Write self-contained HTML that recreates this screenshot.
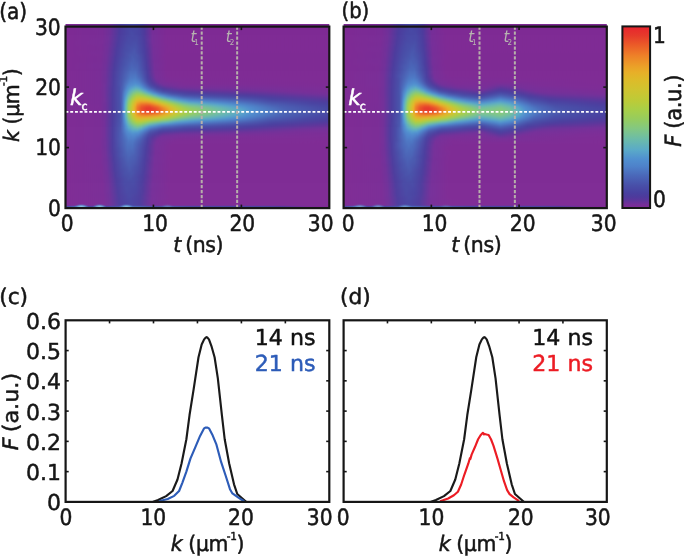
<!DOCTYPE html>
<html lang="en"><head><meta charset="utf-8"><title>Figure</title>
<style>html,body{margin:0;padding:0;background:#fff;overflow:hidden}svg{display:block}text{stroke-width:0.5px;stroke-linejoin:round}</style></head>
<body>
<svg width="684" height="557" viewBox="0 0 684 557" font-family='"DejaVu Sans Condensed", "DejaVu Sans", "Liberation Sans", sans-serif' font-stretch="condensed" text-rendering="geometricPrecision">
<rect width="684" height="557" fill="#fff"/>
<defs><radialGradient id="blobg"><stop offset="0" stop-color="#a4dcf2" stop-opacity="0.95"/><stop offset="0.45" stop-color="#6fb6e2" stop-opacity="0.8"/><stop offset="1" stop-color="#4a68b8" stop-opacity="0"/></radialGradient></defs>
<defs><linearGradient id="ga0" gradientUnits="userSpaceOnUse" x1="65.50" y1="0" x2="329.30" y2="0"><stop offset="0" stop-color="#7e2a94"/><stop offset="0.1439" stop-color="#792d97"/><stop offset="0.1705" stop-color="#6d3199"/><stop offset="0.2083" stop-color="#4c3c9d"/><stop offset="0.2576" stop-color="#4848a4"/><stop offset="0.2917" stop-color="#4b3d9e"/><stop offset="0.3106" stop-color="#5f349a"/><stop offset="0.3295" stop-color="#762e98"/><stop offset="0.3864" stop-color="#7e2a94"/><stop offset="1" stop-color="#7e2a94"/></linearGradient><linearGradient id="ga1" gradientUnits="userSpaceOnUse" x1="65.50" y1="0" x2="329.30" y2="0"><stop offset="0" stop-color="#7e2a94"/><stop offset="0.1439" stop-color="#792d97"/><stop offset="0.1667" stop-color="#703099"/><stop offset="0.2045" stop-color="#4d3b9d"/><stop offset="0.2462" stop-color="#4848a4"/><stop offset="0.2765" stop-color="#4844a2"/><stop offset="0.2992" stop-color="#50399c"/><stop offset="0.3295" stop-color="#752e98"/><stop offset="0.3864" stop-color="#7e2a94"/><stop offset="1" stop-color="#7e2a94"/></linearGradient><linearGradient id="ga2" gradientUnits="userSpaceOnUse" x1="65.50" y1="0" x2="329.30" y2="0"><stop offset="0" stop-color="#7e2a94"/><stop offset="0.1402" stop-color="#792c96"/><stop offset="0.1667" stop-color="#6f3099"/><stop offset="0.2045" stop-color="#4d3b9d"/><stop offset="0.2424" stop-color="#4847a4"/><stop offset="0.2727" stop-color="#4846a3"/><stop offset="0.2992" stop-color="#4f3a9c"/><stop offset="0.3295" stop-color="#752e98"/><stop offset="0.3826" stop-color="#7e2a94"/><stop offset="1" stop-color="#7e2a94"/></linearGradient><linearGradient id="ga3" gradientUnits="userSpaceOnUse" x1="65.50" y1="0" x2="329.30" y2="0"><stop offset="0" stop-color="#7e2a94"/><stop offset="0.1402" stop-color="#792c96"/><stop offset="0.1667" stop-color="#6f3099"/><stop offset="0.2045" stop-color="#4d3b9d"/><stop offset="0.2462" stop-color="#4849a5"/><stop offset="0.2765" stop-color="#4845a3"/><stop offset="0.2992" stop-color="#4e3a9c"/><stop offset="0.3295" stop-color="#752e98"/><stop offset="0.3826" stop-color="#7e2a94"/><stop offset="1" stop-color="#7e2a94"/></linearGradient><linearGradient id="ga4" gradientUnits="userSpaceOnUse" x1="65.50" y1="0" x2="329.30" y2="0"><stop offset="0" stop-color="#7e2a94"/><stop offset="0.1402" stop-color="#792c96"/><stop offset="0.1667" stop-color="#6f3099"/><stop offset="0.2045" stop-color="#4c3c9d"/><stop offset="0.25" stop-color="#484aa5"/><stop offset="0.2803" stop-color="#4844a2"/><stop offset="0.2992" stop-color="#4e3a9c"/><stop offset="0.3295" stop-color="#752e98"/><stop offset="0.3826" stop-color="#7e2a94"/><stop offset="1" stop-color="#7e2a94"/></linearGradient><linearGradient id="ga5" gradientUnits="userSpaceOnUse" x1="65.50" y1="0" x2="329.30" y2="0"><stop offset="0" stop-color="#7e2a94"/><stop offset="0.1402" stop-color="#792c96"/><stop offset="0.1667" stop-color="#6e3099"/><stop offset="0.2045" stop-color="#4c3c9d"/><stop offset="0.2538" stop-color="#484ba6"/><stop offset="0.2841" stop-color="#4842a1"/><stop offset="0.303" stop-color="#52389b"/><stop offset="0.3295" stop-color="#752f99"/><stop offset="0.3826" stop-color="#7e2a94"/><stop offset="1" stop-color="#7e2a94"/></linearGradient><linearGradient id="ga6" gradientUnits="userSpaceOnUse" x1="65.50" y1="0" x2="329.30" y2="0"><stop offset="0" stop-color="#7e2a94"/><stop offset="0.1402" stop-color="#792c96"/><stop offset="0.1629" stop-color="#713099"/><stop offset="0.2008" stop-color="#4d3b9d"/><stop offset="0.2348" stop-color="#4848a4"/><stop offset="0.2689" stop-color="#484aa5"/><stop offset="0.2955" stop-color="#4b3d9e"/><stop offset="0.3144" stop-color="#61339a"/><stop offset="0.3295" stop-color="#752f99"/><stop offset="0.3826" stop-color="#7e2a94"/><stop offset="1" stop-color="#7e2a94"/></linearGradient><linearGradient id="ga7" gradientUnits="userSpaceOnUse" x1="65.50" y1="0" x2="329.30" y2="0"><stop offset="0" stop-color="#7e2a94"/><stop offset="0.1402" stop-color="#792c96"/><stop offset="0.1629" stop-color="#713099"/><stop offset="0.2008" stop-color="#4d3b9d"/><stop offset="0.2386" stop-color="#4849a5"/><stop offset="0.2727" stop-color="#4849a5"/><stop offset="0.2992" stop-color="#4d3b9d"/><stop offset="0.3295" stop-color="#752f99"/><stop offset="0.3788" stop-color="#7e2a94"/><stop offset="1" stop-color="#7e2a94"/></linearGradient><linearGradient id="ga8" gradientUnits="userSpaceOnUse" x1="65.50" y1="0" x2="329.30" y2="0"><stop offset="0" stop-color="#7e2a94"/><stop offset="0.1402" stop-color="#792d97"/><stop offset="0.1629" stop-color="#703099"/><stop offset="0.2008" stop-color="#4c3c9d"/><stop offset="0.2386" stop-color="#484ba6"/><stop offset="0.2689" stop-color="#484ca6"/><stop offset="0.2992" stop-color="#4c3c9d"/><stop offset="0.3295" stop-color="#742f99"/><stop offset="0.3788" stop-color="#7e2a94"/><stop offset="1" stop-color="#7e2a94"/></linearGradient><linearGradient id="ga9" gradientUnits="userSpaceOnUse" x1="65.50" y1="0" x2="329.30" y2="0"><stop offset="0" stop-color="#7e2a94"/><stop offset="0.1402" stop-color="#792d97"/><stop offset="0.1629" stop-color="#6f3099"/><stop offset="0.197" stop-color="#4d3b9d"/><stop offset="0.2311" stop-color="#4849a5"/><stop offset="0.2652" stop-color="#484ea8"/><stop offset="0.2955" stop-color="#4a3e9f"/><stop offset="0.3068" stop-color="#53389b"/><stop offset="0.3295" stop-color="#742f99"/><stop offset="0.3788" stop-color="#7e2a94"/><stop offset="1" stop-color="#7e2a94"/></linearGradient><linearGradient id="ga10" gradientUnits="userSpaceOnUse" x1="65.50" y1="0" x2="329.30" y2="0"><stop offset="0" stop-color="#7e2a94"/><stop offset="0.1364" stop-color="#792c96"/><stop offset="0.1629" stop-color="#6e3099"/><stop offset="0.197" stop-color="#4d3b9d"/><stop offset="0.2311" stop-color="#484ba6"/><stop offset="0.2652" stop-color="#4850a9"/><stop offset="0.2992" stop-color="#4b3d9e"/><stop offset="0.3182" stop-color="#63339a"/><stop offset="0.3333" stop-color="#762e98"/><stop offset="0.3864" stop-color="#7e2a94"/><stop offset="1" stop-color="#7e2a94"/></linearGradient><linearGradient id="ga11" gradientUnits="userSpaceOnUse" x1="65.50" y1="0" x2="329.30" y2="0"><stop offset="0" stop-color="#7e2a94"/><stop offset="0.1364" stop-color="#792c96"/><stop offset="0.1591" stop-color="#713099"/><stop offset="0.197" stop-color="#4c3c9d"/><stop offset="0.2386" stop-color="#484fa8"/><stop offset="0.2689" stop-color="#4850a9"/><stop offset="0.2992" stop-color="#4b3d9e"/><stop offset="0.3144" stop-color="#5c359a"/><stop offset="0.3333" stop-color="#752e98"/><stop offset="0.3864" stop-color="#7e2a94"/><stop offset="1" stop-color="#7e2a94"/></linearGradient><linearGradient id="ga12" gradientUnits="userSpaceOnUse" x1="65.50" y1="0" x2="329.30" y2="0"><stop offset="0" stop-color="#7e2a94"/><stop offset="0.1364" stop-color="#792c96"/><stop offset="0.1591" stop-color="#703099"/><stop offset="0.1932" stop-color="#4d3b9d"/><stop offset="0.2235" stop-color="#484aa5"/><stop offset="0.2614" stop-color="#4854ac"/><stop offset="0.2992" stop-color="#4a3e9f"/><stop offset="0.3106" stop-color="#55379b"/><stop offset="0.3333" stop-color="#752e98"/><stop offset="0.3826" stop-color="#7e2a94"/><stop offset="1" stop-color="#7e2a94"/></linearGradient><linearGradient id="ga13" gradientUnits="userSpaceOnUse" x1="65.50" y1="0" x2="329.30" y2="0"><stop offset="0" stop-color="#7e2a94"/><stop offset="0.1364" stop-color="#792c96"/><stop offset="0.1591" stop-color="#6f3099"/><stop offset="0.1932" stop-color="#4d3b9d"/><stop offset="0.2235" stop-color="#484ba6"/><stop offset="0.2614" stop-color="#4956ad"/><stop offset="0.2992" stop-color="#4a3e9f"/><stop offset="0.3106" stop-color="#54389b"/><stop offset="0.3333" stop-color="#752f99"/><stop offset="0.3826" stop-color="#7e2a94"/><stop offset="1" stop-color="#7e2a94"/></linearGradient><linearGradient id="ga14" gradientUnits="userSpaceOnUse" x1="65.50" y1="0" x2="329.30" y2="0"><stop offset="0" stop-color="#7e2a94"/><stop offset="0.1364" stop-color="#792d97"/><stop offset="0.1591" stop-color="#6f3099"/><stop offset="0.1932" stop-color="#4c3c9d"/><stop offset="0.2311" stop-color="#4850a9"/><stop offset="0.2614" stop-color="#4957ae"/><stop offset="0.2955" stop-color="#4842a1"/><stop offset="0.3106" stop-color="#53389b"/><stop offset="0.3333" stop-color="#752f99"/><stop offset="0.3826" stop-color="#7e2a94"/><stop offset="1" stop-color="#7e2a94"/></linearGradient><linearGradient id="ga15" gradientUnits="userSpaceOnUse" x1="65.50" y1="0" x2="329.30" y2="0"><stop offset="0" stop-color="#7e2a94"/><stop offset="0.1326" stop-color="#7a2c96"/><stop offset="0.1553" stop-color="#713099"/><stop offset="0.1932" stop-color="#4c3c9e"/><stop offset="0.2462" stop-color="#4958ae"/><stop offset="0.2689" stop-color="#4957ae"/><stop offset="0.303" stop-color="#4b3d9e"/><stop offset="0.3182" stop-color="#5d349a"/><stop offset="0.3333" stop-color="#742f99"/><stop offset="0.3788" stop-color="#7e2a94"/><stop offset="1" stop-color="#7e2a94"/></linearGradient><linearGradient id="ga16" gradientUnits="userSpaceOnUse" x1="65.50" y1="0" x2="329.30" y2="0"><stop offset="0" stop-color="#7e2a94"/><stop offset="0.1326" stop-color="#792c96"/><stop offset="0.1553" stop-color="#713099"/><stop offset="0.1894" stop-color="#4d3b9d"/><stop offset="0.2197" stop-color="#484ca6"/><stop offset="0.2538" stop-color="#495bb0"/><stop offset="0.2765" stop-color="#4854ab"/><stop offset="0.303" stop-color="#4a3e9e"/><stop offset="0.3182" stop-color="#5d359a"/><stop offset="0.3333" stop-color="#742f99"/><stop offset="0.3788" stop-color="#7e2a94"/><stop offset="1" stop-color="#7e2a94"/></linearGradient><linearGradient id="ga17" gradientUnits="userSpaceOnUse" x1="65.50" y1="0" x2="329.30" y2="0"><stop offset="0" stop-color="#7e2a94"/><stop offset="0.1326" stop-color="#792c96"/><stop offset="0.1553" stop-color="#703099"/><stop offset="0.1894" stop-color="#4c3c9d"/><stop offset="0.2235" stop-color="#4850a9"/><stop offset="0.2576" stop-color="#495db2"/><stop offset="0.2803" stop-color="#4852aa"/><stop offset="0.303" stop-color="#4a3e9f"/><stop offset="0.3144" stop-color="#56379b"/><stop offset="0.3333" stop-color="#732f99"/><stop offset="0.375" stop-color="#7d2a94"/><stop offset="1" stop-color="#7e2a94"/></linearGradient><linearGradient id="ga18" gradientUnits="userSpaceOnUse" x1="65.50" y1="0" x2="329.30" y2="0"><stop offset="0" stop-color="#7e2a94"/><stop offset="0.1326" stop-color="#792c96"/><stop offset="0.1553" stop-color="#6f3099"/><stop offset="0.1894" stop-color="#4c3c9e"/><stop offset="0.2273" stop-color="#4854ab"/><stop offset="0.2576" stop-color="#495fb3"/><stop offset="0.2803" stop-color="#4854ac"/><stop offset="0.3068" stop-color="#4c3c9e"/><stop offset="0.322" stop-color="#61339a"/><stop offset="0.3371" stop-color="#752e98"/><stop offset="0.3864" stop-color="#7e2a94"/><stop offset="1" stop-color="#7e2a94"/></linearGradient><linearGradient id="ga19" gradientUnits="userSpaceOnUse" x1="65.50" y1="0" x2="329.30" y2="0"><stop offset="0" stop-color="#7e2a94"/><stop offset="0.1326" stop-color="#792c96"/><stop offset="0.1553" stop-color="#6f3099"/><stop offset="0.1856" stop-color="#4d3b9d"/><stop offset="0.2121" stop-color="#484ba6"/><stop offset="0.25" stop-color="#4a60b4"/><stop offset="0.2727" stop-color="#495cb1"/><stop offset="0.3068" stop-color="#4b3d9e"/><stop offset="0.322" stop-color="#60349a"/><stop offset="0.3371" stop-color="#752e98"/><stop offset="0.3864" stop-color="#7e2a94"/><stop offset="1" stop-color="#7e2a94"/></linearGradient><linearGradient id="ga20" gradientUnits="userSpaceOnUse" x1="65.50" y1="0" x2="329.30" y2="0"><stop offset="0" stop-color="#7e2a94"/><stop offset="0.1326" stop-color="#792d97"/><stop offset="0.1553" stop-color="#6e3099"/><stop offset="0.1856" stop-color="#4c3c9d"/><stop offset="0.2159" stop-color="#484fa8"/><stop offset="0.25" stop-color="#4a62b6"/><stop offset="0.2727" stop-color="#495eb3"/><stop offset="0.3068" stop-color="#4b3d9e"/><stop offset="0.322" stop-color="#5f349a"/><stop offset="0.3371" stop-color="#752f99"/><stop offset="0.3864" stop-color="#7e2a94"/><stop offset="1" stop-color="#7e2a94"/></linearGradient><linearGradient id="ga21" gradientUnits="userSpaceOnUse" x1="65.50" y1="0" x2="329.30" y2="0"><stop offset="0" stop-color="#7e2a94"/><stop offset="0.1326" stop-color="#792d97"/><stop offset="0.1515" stop-color="#713099"/><stop offset="0.1856" stop-color="#4c3c9d"/><stop offset="0.2197" stop-color="#4853ab"/><stop offset="0.25" stop-color="#4a65b7"/><stop offset="0.2727" stop-color="#4a60b4"/><stop offset="0.3068" stop-color="#4a3e9f"/><stop offset="0.322" stop-color="#5d349a"/><stop offset="0.3371" stop-color="#752f99"/><stop offset="0.3826" stop-color="#7e2a94"/><stop offset="1" stop-color="#7e2a94"/></linearGradient><linearGradient id="ga22" gradientUnits="userSpaceOnUse" x1="65.50" y1="0" x2="329.30" y2="0"><stop offset="0" stop-color="#7e2a94"/><stop offset="0.1288" stop-color="#792c96"/><stop offset="0.1515" stop-color="#703099"/><stop offset="0.1856" stop-color="#4b3d9e"/><stop offset="0.2235" stop-color="#4958ae"/><stop offset="0.2538" stop-color="#4a68b9"/><stop offset="0.2727" stop-color="#4a63b6"/><stop offset="0.3068" stop-color="#493f9f"/><stop offset="0.3182" stop-color="#56379b"/><stop offset="0.3371" stop-color="#742f99"/><stop offset="0.3826" stop-color="#7e2a94"/><stop offset="1" stop-color="#7e2a94"/></linearGradient><linearGradient id="ga23" gradientUnits="userSpaceOnUse" x1="65.50" y1="0" x2="329.30" y2="0"><stop offset="0" stop-color="#7e2a94"/><stop offset="0.1288" stop-color="#792c96"/><stop offset="0.1515" stop-color="#703099"/><stop offset="0.1818" stop-color="#4d3b9d"/><stop offset="0.2083" stop-color="#484da7"/><stop offset="0.2462" stop-color="#4a69ba"/><stop offset="0.2652" stop-color="#4b6abb"/><stop offset="0.2879" stop-color="#4955ac"/><stop offset="0.3106" stop-color="#4b3d9e"/><stop offset="0.322" stop-color="#5b359a"/><stop offset="0.3371" stop-color="#742f99"/><stop offset="0.3826" stop-color="#7e2a94"/><stop offset="1" stop-color="#7e2a94"/></linearGradient><linearGradient id="ga24" gradientUnits="userSpaceOnUse" x1="65.50" y1="0" x2="329.30" y2="0"><stop offset="0" stop-color="#7e2a94"/><stop offset="0.1288" stop-color="#792c96"/><stop offset="0.1515" stop-color="#6f3099"/><stop offset="0.1818" stop-color="#4c3c9d"/><stop offset="0.2121" stop-color="#4851a9"/><stop offset="0.2462" stop-color="#4b6dbc"/><stop offset="0.2652" stop-color="#4b6ebd"/><stop offset="0.2879" stop-color="#4958ae"/><stop offset="0.3106" stop-color="#4b3d9e"/><stop offset="0.3258" stop-color="#60349a"/><stop offset="0.3409" stop-color="#752e98"/><stop offset="0.3902" stop-color="#7e2a94"/><stop offset="1" stop-color="#7e2a94"/></linearGradient><linearGradient id="ga25" gradientUnits="userSpaceOnUse" x1="65.50" y1="0" x2="329.30" y2="0"><stop offset="0" stop-color="#7e2a94"/><stop offset="0.1288" stop-color="#792c96"/><stop offset="0.1515" stop-color="#6e3099"/><stop offset="0.1818" stop-color="#4c3c9d"/><stop offset="0.2083" stop-color="#484fa8"/><stop offset="0.2462" stop-color="#4c71bf"/><stop offset="0.2652" stop-color="#4c73c0"/><stop offset="0.2879" stop-color="#495bb0"/><stop offset="0.3106" stop-color="#493f9f"/><stop offset="0.3258" stop-color="#5e349a"/><stop offset="0.3409" stop-color="#752f99"/><stop offset="0.3864" stop-color="#7e2a94"/><stop offset="1" stop-color="#7e2a94"/></linearGradient><linearGradient id="ga26" gradientUnits="userSpaceOnUse" x1="65.50" y1="0" x2="329.30" y2="0"><stop offset="0" stop-color="#7e2a94"/><stop offset="0.1288" stop-color="#792c96"/><stop offset="0.1515" stop-color="#6e3099"/><stop offset="0.1818" stop-color="#4c3c9d"/><stop offset="0.2121" stop-color="#4853ab"/><stop offset="0.2462" stop-color="#4c74c1"/><stop offset="0.2652" stop-color="#4c77c3"/><stop offset="0.2841" stop-color="#4a64b6"/><stop offset="0.3106" stop-color="#4840a0"/><stop offset="0.322" stop-color="#55379b"/><stop offset="0.3409" stop-color="#742f99"/><stop offset="0.3826" stop-color="#7d2a94"/><stop offset="1" stop-color="#7e2a94"/></linearGradient><linearGradient id="ga27" gradientUnits="userSpaceOnUse" x1="65.50" y1="0" x2="329.30" y2="0"><stop offset="0" stop-color="#7e2a94"/><stop offset="0.1288" stop-color="#792c96"/><stop offset="0.1515" stop-color="#6e3099"/><stop offset="0.1818" stop-color="#4c3c9e"/><stop offset="0.2121" stop-color="#4854ab"/><stop offset="0.2462" stop-color="#4d79c4"/><stop offset="0.2652" stop-color="#4d7dc7"/><stop offset="0.2803" stop-color="#4b6fbe"/><stop offset="0.3106" stop-color="#4842a1"/><stop offset="0.322" stop-color="#51399c"/><stop offset="0.3447" stop-color="#742f99"/><stop offset="0.3939" stop-color="#7d2b95"/><stop offset="1" stop-color="#7e2a94"/></linearGradient><linearGradient id="ga28" gradientUnits="userSpaceOnUse" x1="65.50" y1="0" x2="329.30" y2="0"><stop offset="0" stop-color="#7e2a94"/><stop offset="0.1288" stop-color="#792c96"/><stop offset="0.1515" stop-color="#6e3099"/><stop offset="0.1818" stop-color="#4b3d9e"/><stop offset="0.2121" stop-color="#4855ac"/><stop offset="0.2424" stop-color="#4d7cc6"/><stop offset="0.2614" stop-color="#4e84cb"/><stop offset="0.2765" stop-color="#4d7cc6"/><stop offset="0.3106" stop-color="#4846a3"/><stop offset="0.3258" stop-color="#51399c"/><stop offset="0.3485" stop-color="#722f99"/><stop offset="0.3864" stop-color="#7c2b95"/><stop offset="1" stop-color="#7e2a94"/></linearGradient><linearGradient id="ga29" gradientUnits="userSpaceOnUse" x1="65.50" y1="0" x2="329.30" y2="0"><stop offset="0" stop-color="#7e2a94"/><stop offset="0.1288" stop-color="#792c96"/><stop offset="0.1515" stop-color="#6e3099"/><stop offset="0.1818" stop-color="#4b3d9e"/><stop offset="0.2121" stop-color="#4956ad"/><stop offset="0.2424" stop-color="#4e83ca"/><stop offset="0.2652" stop-color="#4f8ace"/><stop offset="0.2803" stop-color="#4e82ca"/><stop offset="0.3144" stop-color="#4847a4"/><stop offset="0.3295" stop-color="#4e3a9c"/><stop offset="0.3598" stop-color="#742f99"/><stop offset="0.4508" stop-color="#7c2b95"/><stop offset="1" stop-color="#7d2a94"/></linearGradient><linearGradient id="ga30" gradientUnits="userSpaceOnUse" x1="65.50" y1="0" x2="329.30" y2="0"><stop offset="0" stop-color="#7e2a94"/><stop offset="0.1288" stop-color="#792c96"/><stop offset="0.1477" stop-color="#723099"/><stop offset="0.1818" stop-color="#4b3d9e"/><stop offset="0.2121" stop-color="#4957ad"/><stop offset="0.2386" stop-color="#4f86cc"/><stop offset="0.2652" stop-color="#5295ce"/><stop offset="0.2803" stop-color="#4f8cce"/><stop offset="0.2917" stop-color="#4d7bc6"/><stop offset="0.3182" stop-color="#484ba6"/><stop offset="0.3371" stop-color="#4d3b9d"/><stop offset="0.3712" stop-color="#713099"/><stop offset="0.4432" stop-color="#7a2c96"/><stop offset="1" stop-color="#7d2a94"/></linearGradient><linearGradient id="ga31" gradientUnits="userSpaceOnUse" x1="65.50" y1="0" x2="329.30" y2="0"><stop offset="0" stop-color="#7e2a94"/><stop offset="0.1288" stop-color="#792c96"/><stop offset="0.1477" stop-color="#713099"/><stop offset="0.178" stop-color="#4d3b9d"/><stop offset="0.2045" stop-color="#484ea8"/><stop offset="0.2197" stop-color="#4a66b8"/><stop offset="0.2348" stop-color="#4f87cc"/><stop offset="0.2462" stop-color="#5295ce"/><stop offset="0.2652" stop-color="#58a6c9"/><stop offset="0.2765" stop-color="#57a2cb"/><stop offset="0.2879" stop-color="#5090d0"/><stop offset="0.3068" stop-color="#4b6ebd"/><stop offset="0.3258" stop-color="#484ea8"/><stop offset="0.3485" stop-color="#4c3c9d"/><stop offset="0.3864" stop-color="#693199"/><stop offset="0.4356" stop-color="#752e98"/><stop offset="1" stop-color="#7c2b95"/></linearGradient><linearGradient id="ga32" gradientUnits="userSpaceOnUse" x1="65.50" y1="0" x2="329.30" y2="0"><stop offset="0" stop-color="#7e2a94"/><stop offset="0.1288" stop-color="#792c96"/><stop offset="0.1477" stop-color="#713099"/><stop offset="0.178" stop-color="#4d3b9d"/><stop offset="0.2045" stop-color="#484fa8"/><stop offset="0.2159" stop-color="#4a60b4"/><stop offset="0.2311" stop-color="#4f87cc"/><stop offset="0.2424" stop-color="#559ccc"/><stop offset="0.2538" stop-color="#5dadc3"/><stop offset="0.2689" stop-color="#65b5b5"/><stop offset="0.2803" stop-color="#60b0bd"/><stop offset="0.2917" stop-color="#56a0cb"/><stop offset="0.2992" stop-color="#5090d0"/><stop offset="0.3182" stop-color="#4b6dbd"/><stop offset="0.3447" stop-color="#484aa5"/><stop offset="0.3712" stop-color="#4d3b9c"/><stop offset="0.4318" stop-color="#67329a"/><stop offset="0.5076" stop-color="#703099"/><stop offset="1" stop-color="#7b2c96"/></linearGradient><linearGradient id="ga33" gradientUnits="userSpaceOnUse" x1="65.50" y1="0" x2="329.30" y2="0"><stop offset="0" stop-color="#7e2a94"/><stop offset="0.1288" stop-color="#792c96"/><stop offset="0.1477" stop-color="#713099"/><stop offset="0.178" stop-color="#4d3b9d"/><stop offset="0.2045" stop-color="#484fa8"/><stop offset="0.2159" stop-color="#4a63b6"/><stop offset="0.2273" stop-color="#4f86cc"/><stop offset="0.2348" stop-color="#5397ce"/><stop offset="0.2424" stop-color="#5babc7"/><stop offset="0.2614" stop-color="#6fbea2"/><stop offset="0.2727" stop-color="#77c196"/><stop offset="0.2841" stop-color="#6fbda4"/><stop offset="0.303" stop-color="#59a7c9"/><stop offset="0.3144" stop-color="#508ecf"/><stop offset="0.3485" stop-color="#495ab0"/><stop offset="0.3712" stop-color="#4846a3"/><stop offset="0.4318" stop-color="#54389b"/><stop offset="0.4962" stop-color="#5e349a"/><stop offset="0.8295" stop-color="#762e98"/><stop offset="1" stop-color="#792c96"/></linearGradient><linearGradient id="ga34" gradientUnits="userSpaceOnUse" x1="65.50" y1="0" x2="329.30" y2="0"><stop offset="0" stop-color="#7e2a94"/><stop offset="0.1288" stop-color="#792c96"/><stop offset="0.1477" stop-color="#713099"/><stop offset="0.178" stop-color="#4c3c9d"/><stop offset="0.2045" stop-color="#4850a9"/><stop offset="0.2121" stop-color="#495bb1"/><stop offset="0.2235" stop-color="#4e82ca"/><stop offset="0.2311" stop-color="#5295ce"/><stop offset="0.2386" stop-color="#5eaec0"/><stop offset="0.2576" stop-color="#7ec58b"/><stop offset="0.2689" stop-color="#8bca72"/><stop offset="0.2765" stop-color="#8cca70"/><stop offset="0.2879" stop-color="#85c87f"/><stop offset="0.3106" stop-color="#64b4b6"/><stop offset="0.3182" stop-color="#5aaac7"/><stop offset="0.3333" stop-color="#508dcf"/><stop offset="0.3674" stop-color="#495eb2"/><stop offset="0.4053" stop-color="#4848a4"/><stop offset="0.4773" stop-color="#4c3c9d"/><stop offset="0.7045" stop-color="#5f349a"/><stop offset="0.9053" stop-color="#742f99"/><stop offset="1" stop-color="#762e98"/></linearGradient><linearGradient id="ga35" gradientUnits="userSpaceOnUse" x1="65.50" y1="0" x2="329.30" y2="0"><stop offset="0" stop-color="#7e2a94"/><stop offset="0.1288" stop-color="#792c96"/><stop offset="0.1477" stop-color="#713099"/><stop offset="0.178" stop-color="#4c3c9d"/><stop offset="0.2045" stop-color="#4850a9"/><stop offset="0.2121" stop-color="#495cb1"/><stop offset="0.2235" stop-color="#4f86cc"/><stop offset="0.2273" stop-color="#5091d0"/><stop offset="0.2348" stop-color="#5dadc3"/><stop offset="0.2424" stop-color="#6dbda6"/><stop offset="0.2576" stop-color="#8fca6b"/><stop offset="0.2689" stop-color="#a1ce51"/><stop offset="0.2803" stop-color="#a4ce4d"/><stop offset="0.2955" stop-color="#97cc5c"/><stop offset="0.3144" stop-color="#7ec58b"/><stop offset="0.3333" stop-color="#62b2b9"/><stop offset="0.3409" stop-color="#5aaac8"/><stop offset="0.3561" stop-color="#508ecf"/><stop offset="0.4015" stop-color="#4960b4"/><stop offset="0.4545" stop-color="#484aa5"/><stop offset="0.6894" stop-color="#4e3a9c"/><stop offset="0.9508" stop-color="#6e3099"/><stop offset="1" stop-color="#713099"/></linearGradient><linearGradient id="ga36" gradientUnits="userSpaceOnUse" x1="65.50" y1="0" x2="329.30" y2="0"><stop offset="0" stop-color="#7e2a94"/><stop offset="0.1288" stop-color="#792c96"/><stop offset="0.1477" stop-color="#713099"/><stop offset="0.178" stop-color="#4c3c9d"/><stop offset="0.2045" stop-color="#4850a9"/><stop offset="0.2121" stop-color="#495db1"/><stop offset="0.2235" stop-color="#4f8acd"/><stop offset="0.2311" stop-color="#5aa9c8"/><stop offset="0.2386" stop-color="#70bea1"/><stop offset="0.2538" stop-color="#98cc5c"/><stop offset="0.2689" stop-color="#b9cc3b"/><stop offset="0.2803" stop-color="#bfca37"/><stop offset="0.2955" stop-color="#b8cc3c"/><stop offset="0.3144" stop-color="#a1ce50"/><stop offset="0.3258" stop-color="#91cb67"/><stop offset="0.3523" stop-color="#6abaac"/><stop offset="0.3674" stop-color="#59a7c9"/><stop offset="0.3864" stop-color="#508ecf"/><stop offset="0.447" stop-color="#4a62b5"/><stop offset="0.5076" stop-color="#4955ac"/><stop offset="0.7462" stop-color="#4b3d9e"/><stop offset="1" stop-color="#66329a"/></linearGradient><linearGradient id="ga37" gradientUnits="userSpaceOnUse" x1="65.50" y1="0" x2="329.30" y2="0"><stop offset="0" stop-color="#7e2a94"/><stop offset="0.1288" stop-color="#792c96"/><stop offset="0.1477" stop-color="#723099"/><stop offset="0.178" stop-color="#4d3b9d"/><stop offset="0.2045" stop-color="#4850a9"/><stop offset="0.2121" stop-color="#495db2"/><stop offset="0.2235" stop-color="#508ecf"/><stop offset="0.2273" stop-color="#56a1cb"/><stop offset="0.2311" stop-color="#5fafbf"/><stop offset="0.2348" stop-color="#6bbbab"/><stop offset="0.2386" stop-color="#7bc48f"/><stop offset="0.25" stop-color="#9ccd57"/><stop offset="0.2576" stop-color="#b2cd40"/><stop offset="0.2689" stop-color="#cdc531"/><stop offset="0.2841" stop-color="#d6c02d"/><stop offset="0.3106" stop-color="#cac632"/><stop offset="0.3295" stop-color="#b4cd3e"/><stop offset="0.3485" stop-color="#99cc5b"/><stop offset="0.3674" stop-color="#7ac390"/><stop offset="0.3939" stop-color="#5eaec1"/><stop offset="0.4091" stop-color="#559ecc"/><stop offset="0.428" stop-color="#4f8cce"/><stop offset="0.4773" stop-color="#4c73c1"/><stop offset="0.7841" stop-color="#4840a0"/><stop offset="1" stop-color="#5b359a"/></linearGradient><linearGradient id="ga38" gradientUnits="userSpaceOnUse" x1="65.50" y1="0" x2="329.30" y2="0"><stop offset="0" stop-color="#7e2a94"/><stop offset="0.1288" stop-color="#792c96"/><stop offset="0.1477" stop-color="#723099"/><stop offset="0.178" stop-color="#4d3b9d"/><stop offset="0.2045" stop-color="#4850a9"/><stop offset="0.2121" stop-color="#495eb2"/><stop offset="0.2197" stop-color="#4e80c9"/><stop offset="0.2235" stop-color="#5192cf"/><stop offset="0.2273" stop-color="#59a8c9"/><stop offset="0.2311" stop-color="#64b4b6"/><stop offset="0.2348" stop-color="#72bf9d"/><stop offset="0.2386" stop-color="#85c87e"/><stop offset="0.2462" stop-color="#9ccd56"/><stop offset="0.2538" stop-color="#b7cc3c"/><stop offset="0.2689" stop-color="#dcbb2a"/><stop offset="0.2841" stop-color="#e8ae28"/><stop offset="0.3106" stop-color="#e4b329"/><stop offset="0.3447" stop-color="#c7c733"/><stop offset="0.3561" stop-color="#b6cc3d"/><stop offset="0.3788" stop-color="#95cc60"/><stop offset="0.4053" stop-color="#72bf9e"/><stop offset="0.4356" stop-color="#5aaac8"/><stop offset="0.4697" stop-color="#5090d0"/><stop offset="0.6136" stop-color="#4b70be"/><stop offset="0.7803" stop-color="#4849a5"/><stop offset="0.9886" stop-color="#4f3a9c"/><stop offset="1" stop-color="#50399c"/></linearGradient><linearGradient id="ga39" gradientUnits="userSpaceOnUse" x1="65.50" y1="0" x2="329.30" y2="0"><stop offset="0" stop-color="#7e2a94"/><stop offset="0.1288" stop-color="#792c96"/><stop offset="0.1515" stop-color="#6e3099"/><stop offset="0.178" stop-color="#4d3b9d"/><stop offset="0.2045" stop-color="#4850a8"/><stop offset="0.2083" stop-color="#4854ab"/><stop offset="0.2159" stop-color="#4b6ebd"/><stop offset="0.2197" stop-color="#4e83ca"/><stop offset="0.2235" stop-color="#5397ce"/><stop offset="0.2273" stop-color="#5cacc4"/><stop offset="0.2311" stop-color="#69b9ae"/><stop offset="0.2386" stop-color="#8dca6f"/><stop offset="0.2462" stop-color="#a6cf4a"/><stop offset="0.2538" stop-color="#c3c835"/><stop offset="0.2652" stop-color="#e0b729"/><stop offset="0.2727" stop-color="#eba128"/><stop offset="0.2879" stop-color="#ed8a28"/><stop offset="0.3068" stop-color="#ed8828"/><stop offset="0.322" stop-color="#ec9428"/><stop offset="0.3447" stop-color="#e4b329"/><stop offset="0.3712" stop-color="#c6c734"/><stop offset="0.3826" stop-color="#b7cc3c"/><stop offset="0.4091" stop-color="#91cb67"/><stop offset="0.4432" stop-color="#6cbca8"/><stop offset="0.4773" stop-color="#5dadc2"/><stop offset="0.5303" stop-color="#559dcc"/><stop offset="0.5947" stop-color="#4f8ace"/><stop offset="0.678" stop-color="#4c73c0"/><stop offset="0.7652" stop-color="#4957ae"/><stop offset="0.9356" stop-color="#4841a0"/><stop offset="1" stop-color="#4b3d9e"/></linearGradient><linearGradient id="ga40" gradientUnits="userSpaceOnUse" x1="65.50" y1="0" x2="329.30" y2="0"><stop offset="0" stop-color="#7e2a94"/><stop offset="0.1288" stop-color="#792c96"/><stop offset="0.1515" stop-color="#6e3099"/><stop offset="0.178" stop-color="#4d3b9d"/><stop offset="0.2045" stop-color="#4850a8"/><stop offset="0.2083" stop-color="#4854ab"/><stop offset="0.2159" stop-color="#4b6fbe"/><stop offset="0.2197" stop-color="#4e84cb"/><stop offset="0.2235" stop-color="#549acd"/><stop offset="0.2273" stop-color="#5fafbf"/><stop offset="0.2311" stop-color="#6cbca8"/><stop offset="0.2386" stop-color="#93cb63"/><stop offset="0.2462" stop-color="#afce43"/><stop offset="0.2538" stop-color="#ccc531"/><stop offset="0.2652" stop-color="#e8ad28"/><stop offset="0.2727" stop-color="#ed8a28"/><stop offset="0.2879" stop-color="#ec6a28"/><stop offset="0.3068" stop-color="#eb5e28"/><stop offset="0.3182" stop-color="#eb6028"/><stop offset="0.3523" stop-color="#ec9728"/><stop offset="0.3674" stop-color="#e4b329"/><stop offset="0.4015" stop-color="#bccb38"/><stop offset="0.428" stop-color="#98cc5b"/><stop offset="0.4508" stop-color="#82c783"/><stop offset="0.4735" stop-color="#73c09c"/><stop offset="0.5758" stop-color="#59a8c9"/><stop offset="0.6553" stop-color="#4f8cce"/><stop offset="0.7841" stop-color="#495eb2"/><stop offset="0.9318" stop-color="#4847a4"/><stop offset="1" stop-color="#4841a0"/></linearGradient><linearGradient id="ga41" gradientUnits="userSpaceOnUse" x1="65.50" y1="0" x2="329.30" y2="0"><stop offset="0" stop-color="#7e2a94"/><stop offset="0.1288" stop-color="#7a2c96"/><stop offset="0.1515" stop-color="#6e3099"/><stop offset="0.178" stop-color="#4d3b9d"/><stop offset="0.2045" stop-color="#4850a8"/><stop offset="0.2083" stop-color="#4854ab"/><stop offset="0.2121" stop-color="#495fb3"/><stop offset="0.2197" stop-color="#4e85cb"/><stop offset="0.2235" stop-color="#559ccc"/><stop offset="0.2273" stop-color="#61b1bc"/><stop offset="0.2311" stop-color="#6fbda3"/><stop offset="0.2386" stop-color="#97cc5c"/><stop offset="0.2462" stop-color="#b4cd3e"/><stop offset="0.2576" stop-color="#dbbc2a"/><stop offset="0.2652" stop-color="#eba228"/><stop offset="0.2727" stop-color="#ee7b28"/><stop offset="0.2879" stop-color="#ea5429"/><stop offset="0.3068" stop-color="#e7412a"/><stop offset="0.3182" stop-color="#e73f2b"/><stop offset="0.3485" stop-color="#ec6628"/><stop offset="0.3712" stop-color="#ec9828"/><stop offset="0.3864" stop-color="#e3b329"/><stop offset="0.4053" stop-color="#cec430"/><stop offset="0.428" stop-color="#b0cd41"/><stop offset="0.4545" stop-color="#94cc61"/><stop offset="0.4735" stop-color="#89c977"/><stop offset="0.572" stop-color="#67b7b1"/><stop offset="0.6288" stop-color="#59a7c9"/><stop offset="0.6894" stop-color="#4f8bce"/><stop offset="0.8106" stop-color="#4a60b4"/><stop offset="0.9697" stop-color="#4848a4"/><stop offset="1" stop-color="#4845a3"/></linearGradient><linearGradient id="ga42" gradientUnits="userSpaceOnUse" x1="65.50" y1="0" x2="329.30" y2="0"><stop offset="0" stop-color="#7e2a94"/><stop offset="0.1288" stop-color="#7a2c96"/><stop offset="0.1515" stop-color="#6e3099"/><stop offset="0.178" stop-color="#4d3b9d"/><stop offset="0.2045" stop-color="#4850a8"/><stop offset="0.2083" stop-color="#4854ab"/><stop offset="0.2121" stop-color="#495fb3"/><stop offset="0.2197" stop-color="#4e85cb"/><stop offset="0.2235" stop-color="#559dcc"/><stop offset="0.2273" stop-color="#61b1bb"/><stop offset="0.2311" stop-color="#70bea2"/><stop offset="0.2386" stop-color="#99cc5b"/><stop offset="0.2462" stop-color="#b6cc3d"/><stop offset="0.2576" stop-color="#ddbb2a"/><stop offset="0.2614" stop-color="#e6b028"/><stop offset="0.2727" stop-color="#ed7528"/><stop offset="0.2879" stop-color="#e94c29"/><stop offset="0.3068" stop-color="#e6372b"/><stop offset="0.322" stop-color="#e6362c"/><stop offset="0.3409" stop-color="#e8462a"/><stop offset="0.3523" stop-color="#eb5828"/><stop offset="0.3826" stop-color="#ec9828"/><stop offset="0.3939" stop-color="#e6b028"/><stop offset="0.4167" stop-color="#cdc531"/><stop offset="0.4356" stop-color="#b6cc3c"/><stop offset="0.4697" stop-color="#97cc5c"/><stop offset="0.5795" stop-color="#6ebda4"/><stop offset="0.6591" stop-color="#59a7c9"/><stop offset="0.7045" stop-color="#4f8cce"/><stop offset="0.8295" stop-color="#4a62b5"/><stop offset="0.9924" stop-color="#4848a4"/><stop offset="1" stop-color="#4848a4"/></linearGradient><linearGradient id="ga43" gradientUnits="userSpaceOnUse" x1="65.50" y1="0" x2="329.30" y2="0"><stop offset="0" stop-color="#7e2a94"/><stop offset="0.1288" stop-color="#7a2c96"/><stop offset="0.1515" stop-color="#6f3099"/><stop offset="0.178" stop-color="#4d3b9d"/><stop offset="0.2045" stop-color="#4850a8"/><stop offset="0.2083" stop-color="#4853ab"/><stop offset="0.2121" stop-color="#495fb3"/><stop offset="0.2197" stop-color="#4e85cb"/><stop offset="0.2235" stop-color="#559ccc"/><stop offset="0.2273" stop-color="#61b1bc"/><stop offset="0.2311" stop-color="#6fbda3"/><stop offset="0.2386" stop-color="#97cc5c"/><stop offset="0.2462" stop-color="#b4cd3e"/><stop offset="0.2576" stop-color="#dcbc2a"/><stop offset="0.2652" stop-color="#eba228"/><stop offset="0.2727" stop-color="#ee7a28"/><stop offset="0.2879" stop-color="#ea5229"/><stop offset="0.3068" stop-color="#e63d2b"/><stop offset="0.322" stop-color="#e63b2b"/><stop offset="0.3485" stop-color="#ea5129"/><stop offset="0.3826" stop-color="#ec9328"/><stop offset="0.3977" stop-color="#e5b229"/><stop offset="0.4205" stop-color="#cdc531"/><stop offset="0.4545" stop-color="#a9cf48"/><stop offset="0.4811" stop-color="#99cc5b"/><stop offset="0.5871" stop-color="#70bea1"/><stop offset="0.6667" stop-color="#59a8c9"/><stop offset="0.7121" stop-color="#4f8cce"/><stop offset="0.8447" stop-color="#4a61b4"/><stop offset="1" stop-color="#4849a5"/></linearGradient><linearGradient id="ga44" gradientUnits="userSpaceOnUse" x1="65.50" y1="0" x2="329.30" y2="0"><stop offset="0" stop-color="#7e2a94"/><stop offset="0.1288" stop-color="#7a2c96"/><stop offset="0.1515" stop-color="#6f3099"/><stop offset="0.178" stop-color="#4d3b9d"/><stop offset="0.2008" stop-color="#484da7"/><stop offset="0.2083" stop-color="#4854ac"/><stop offset="0.2121" stop-color="#495fb3"/><stop offset="0.2197" stop-color="#4e85cb"/><stop offset="0.2235" stop-color="#549bcd"/><stop offset="0.2273" stop-color="#60b0be"/><stop offset="0.2311" stop-color="#6dbca6"/><stop offset="0.2386" stop-color="#94cc61"/><stop offset="0.2462" stop-color="#b0cd42"/><stop offset="0.2538" stop-color="#cdc531"/><stop offset="0.2614" stop-color="#e0b729"/><stop offset="0.2652" stop-color="#e9ac28"/><stop offset="0.2727" stop-color="#ed8828"/><stop offset="0.2879" stop-color="#ec6628"/><stop offset="0.3068" stop-color="#ea5628"/><stop offset="0.3258" stop-color="#eb5928"/><stop offset="0.3485" stop-color="#ec6b28"/><stop offset="0.3864" stop-color="#e9a928"/><stop offset="0.4053" stop-color="#d8bf2c"/><stop offset="0.4356" stop-color="#b7cc3c"/><stop offset="0.4735" stop-color="#98cc5b"/><stop offset="0.5833" stop-color="#70bea2"/><stop offset="0.6667" stop-color="#58a5c9"/><stop offset="0.7083" stop-color="#508dcf"/><stop offset="0.8371" stop-color="#4a61b5"/><stop offset="1" stop-color="#4848a4"/></linearGradient><linearGradient id="ga45" gradientUnits="userSpaceOnUse" x1="65.50" y1="0" x2="329.30" y2="0"><stop offset="0" stop-color="#7e2a94"/><stop offset="0.1288" stop-color="#7a2c96"/><stop offset="0.1515" stop-color="#6e3099"/><stop offset="0.178" stop-color="#4c3c9d"/><stop offset="0.2008" stop-color="#484da7"/><stop offset="0.2083" stop-color="#4855ac"/><stop offset="0.2159" stop-color="#4b70be"/><stop offset="0.2197" stop-color="#4e84cb"/><stop offset="0.2235" stop-color="#5399cd"/><stop offset="0.2273" stop-color="#5eaec2"/><stop offset="0.2311" stop-color="#6abaac"/><stop offset="0.2386" stop-color="#8fca6b"/><stop offset="0.2462" stop-color="#a8cf48"/><stop offset="0.2538" stop-color="#c5c834"/><stop offset="0.2652" stop-color="#e1b629"/><stop offset="0.2727" stop-color="#eb9e28"/><stop offset="0.2879" stop-color="#ee8528"/><stop offset="0.3068" stop-color="#ee7f28"/><stop offset="0.3485" stop-color="#ec9528"/><stop offset="0.3712" stop-color="#e7b028"/><stop offset="0.4053" stop-color="#c9c632"/><stop offset="0.428" stop-color="#b0cd42"/><stop offset="0.4583" stop-color="#96cc5e"/><stop offset="0.4773" stop-color="#8cca72"/><stop offset="0.5947" stop-color="#65b5b5"/><stop offset="0.6477" stop-color="#58a6c9"/><stop offset="0.697" stop-color="#4f8cce"/><stop offset="0.8182" stop-color="#4a62b5"/><stop offset="0.9773" stop-color="#4848a4"/><stop offset="1" stop-color="#4846a3"/></linearGradient><linearGradient id="ga46" gradientUnits="userSpaceOnUse" x1="65.50" y1="0" x2="329.30" y2="0"><stop offset="0" stop-color="#7e2a94"/><stop offset="0.1288" stop-color="#7a2c96"/><stop offset="0.1515" stop-color="#6e3099"/><stop offset="0.178" stop-color="#4c3c9d"/><stop offset="0.2008" stop-color="#484ea7"/><stop offset="0.2083" stop-color="#4955ac"/><stop offset="0.2159" stop-color="#4b6fbe"/><stop offset="0.2197" stop-color="#4e83ca"/><stop offset="0.2235" stop-color="#5295ce"/><stop offset="0.2273" stop-color="#5babc7"/><stop offset="0.2348" stop-color="#75c199"/><stop offset="0.2386" stop-color="#88c979"/><stop offset="0.2462" stop-color="#9fcd53"/><stop offset="0.2538" stop-color="#bacb3a"/><stop offset="0.2689" stop-color="#deba2a"/><stop offset="0.2841" stop-color="#e9aa28"/><stop offset="0.3068" stop-color="#e9aa28"/><stop offset="0.3561" stop-color="#d8be2c"/><stop offset="0.3864" stop-color="#c4c835"/><stop offset="0.4129" stop-color="#a6cf4a"/><stop offset="0.4508" stop-color="#87c97a"/><stop offset="0.4773" stop-color="#78c293"/><stop offset="0.5644" stop-color="#61b1bc"/><stop offset="0.6098" stop-color="#58a4ca"/><stop offset="0.6742" stop-color="#4f8bce"/><stop offset="0.7955" stop-color="#495fb3"/><stop offset="0.947" stop-color="#4847a4"/><stop offset="1" stop-color="#4843a1"/></linearGradient><linearGradient id="ga47" gradientUnits="userSpaceOnUse" x1="65.50" y1="0" x2="329.30" y2="0"><stop offset="0" stop-color="#7e2a94"/><stop offset="0.1288" stop-color="#7a2c96"/><stop offset="0.1515" stop-color="#6e3099"/><stop offset="0.178" stop-color="#4c3c9d"/><stop offset="0.2045" stop-color="#4852aa"/><stop offset="0.2121" stop-color="#4960b4"/><stop offset="0.2235" stop-color="#5090d0"/><stop offset="0.2273" stop-color="#58a5ca"/><stop offset="0.2311" stop-color="#61b1bb"/><stop offset="0.2348" stop-color="#6dbda6"/><stop offset="0.2386" stop-color="#7fc589"/><stop offset="0.25" stop-color="#9ecd54"/><stop offset="0.2576" stop-color="#b5cc3e"/><stop offset="0.2689" stop-color="#cfc430"/><stop offset="0.2879" stop-color="#d9be2b"/><stop offset="0.3485" stop-color="#beca37"/><stop offset="0.3826" stop-color="#a3ce4e"/><stop offset="0.4394" stop-color="#72bf9e"/><stop offset="0.4773" stop-color="#63b3b8"/><stop offset="0.5379" stop-color="#58a5ca"/><stop offset="0.6212" stop-color="#4f8cce"/><stop offset="0.678" stop-color="#4d7bc6"/><stop offset="0.7652" stop-color="#495cb1"/><stop offset="0.9053" stop-color="#4846a3"/><stop offset="1" stop-color="#493f9f"/></linearGradient><linearGradient id="ga48" gradientUnits="userSpaceOnUse" x1="65.50" y1="0" x2="329.30" y2="0"><stop offset="0" stop-color="#7e2a94"/><stop offset="0.1288" stop-color="#7a2c96"/><stop offset="0.1477" stop-color="#722f99"/><stop offset="0.178" stop-color="#4c3c9d"/><stop offset="0.2045" stop-color="#4853aa"/><stop offset="0.2121" stop-color="#4960b4"/><stop offset="0.2235" stop-color="#508dcf"/><stop offset="0.2311" stop-color="#5cacc4"/><stop offset="0.2386" stop-color="#74c09b"/><stop offset="0.2538" stop-color="#9acd59"/><stop offset="0.2689" stop-color="#bbcb39"/><stop offset="0.2841" stop-color="#c2c936"/><stop offset="0.3068" stop-color="#b3cd3f"/><stop offset="0.3258" stop-color="#a1ce51"/><stop offset="0.3485" stop-color="#93cb63"/><stop offset="0.3674" stop-color="#84c880"/><stop offset="0.3864" stop-color="#79c392"/><stop offset="0.4091" stop-color="#68b8b0"/><stop offset="0.4432" stop-color="#59a7c9"/><stop offset="0.4886" stop-color="#5194cf"/><stop offset="0.6174" stop-color="#4d79c4"/><stop offset="0.7765" stop-color="#484ea8"/><stop offset="0.9848" stop-color="#4c3c9d"/><stop offset="1" stop-color="#4d3b9d"/></linearGradient><linearGradient id="ga49" gradientUnits="userSpaceOnUse" x1="65.50" y1="0" x2="329.30" y2="0"><stop offset="0" stop-color="#7e2a94"/><stop offset="0.1288" stop-color="#7a2c96"/><stop offset="0.1477" stop-color="#722f99"/><stop offset="0.178" stop-color="#4c3c9e"/><stop offset="0.2083" stop-color="#4957ae"/><stop offset="0.2159" stop-color="#4b6cbc"/><stop offset="0.2235" stop-color="#4f89cd"/><stop offset="0.2311" stop-color="#58a5ca"/><stop offset="0.2386" stop-color="#6abaac"/><stop offset="0.2538" stop-color="#8ac974"/><stop offset="0.2652" stop-color="#9ccd57"/><stop offset="0.2727" stop-color="#a5cf4b"/><stop offset="0.2879" stop-color="#a2ce4f"/><stop offset="0.303" stop-color="#94cc62"/><stop offset="0.3182" stop-color="#81c686"/><stop offset="0.3674" stop-color="#5fafbf"/><stop offset="0.3864" stop-color="#59a7c9"/><stop offset="0.4205" stop-color="#508ecf"/><stop offset="0.5038" stop-color="#4c77c3"/><stop offset="0.7879" stop-color="#4843a2"/><stop offset="0.9848" stop-color="#55379b"/><stop offset="1" stop-color="#56379b"/></linearGradient><linearGradient id="ga50" gradientUnits="userSpaceOnUse" x1="65.50" y1="0" x2="329.30" y2="0"><stop offset="0" stop-color="#7e2a94"/><stop offset="0.1288" stop-color="#7a2c96"/><stop offset="0.1477" stop-color="#722f99"/><stop offset="0.178" stop-color="#4c3c9e"/><stop offset="0.2083" stop-color="#4958ae"/><stop offset="0.2197" stop-color="#4d78c4"/><stop offset="0.2273" stop-color="#5090d0"/><stop offset="0.2348" stop-color="#5aa9c8"/><stop offset="0.2424" stop-color="#67b7b1"/><stop offset="0.2614" stop-color="#83c881"/><stop offset="0.2727" stop-color="#8eca6e"/><stop offset="0.2841" stop-color="#89c976"/><stop offset="0.3106" stop-color="#69b9ae"/><stop offset="0.322" stop-color="#5eaec1"/><stop offset="0.3409" stop-color="#559dcc"/><stop offset="0.3636" stop-color="#4f89cd"/><stop offset="0.3977" stop-color="#4d79c4"/><stop offset="0.4659" stop-color="#4a61b5"/><stop offset="0.7803" stop-color="#4b3d9e"/><stop offset="1" stop-color="#61339a"/></linearGradient><linearGradient id="ga51" gradientUnits="userSpaceOnUse" x1="65.50" y1="0" x2="329.30" y2="0"><stop offset="0" stop-color="#7e2a94"/><stop offset="0.1288" stop-color="#7a2c96"/><stop offset="0.1477" stop-color="#722f99"/><stop offset="0.178" stop-color="#4b3d9e"/><stop offset="0.2083" stop-color="#4959af"/><stop offset="0.2197" stop-color="#4c75c2"/><stop offset="0.2273" stop-color="#4f8bce"/><stop offset="0.2348" stop-color="#559ecc"/><stop offset="0.2386" stop-color="#5aaac8"/><stop offset="0.2614" stop-color="#70bea1"/><stop offset="0.2727" stop-color="#76c197"/><stop offset="0.2879" stop-color="#6bbbaa"/><stop offset="0.3068" stop-color="#57a3ca"/><stop offset="0.3182" stop-color="#508ecf"/><stop offset="0.3712" stop-color="#4a64b6"/><stop offset="0.447" stop-color="#484fa8"/><stop offset="0.7008" stop-color="#4c3c9e"/><stop offset="1" stop-color="#6d3199"/></linearGradient><linearGradient id="ga52" gradientUnits="userSpaceOnUse" x1="65.50" y1="0" x2="329.30" y2="0"><stop offset="0" stop-color="#7e2a94"/><stop offset="0.1288" stop-color="#7a2c96"/><stop offset="0.1477" stop-color="#722f99"/><stop offset="0.178" stop-color="#4b3d9e"/><stop offset="0.2083" stop-color="#4959af"/><stop offset="0.2197" stop-color="#4c73c0"/><stop offset="0.2273" stop-color="#4f87cc"/><stop offset="0.2386" stop-color="#559ecc"/><stop offset="0.2538" stop-color="#5fafbf"/><stop offset="0.2727" stop-color="#64b4b7"/><stop offset="0.2879" stop-color="#59a8c9"/><stop offset="0.303" stop-color="#4f8cce"/><stop offset="0.3258" stop-color="#4b6abb"/><stop offset="0.3674" stop-color="#484ca7"/><stop offset="0.4697" stop-color="#4a3e9f"/><stop offset="0.6705" stop-color="#53389b"/><stop offset="0.8939" stop-color="#6f3099"/><stop offset="1" stop-color="#752f99"/></linearGradient><linearGradient id="ga53" gradientUnits="userSpaceOnUse" x1="65.50" y1="0" x2="329.30" y2="0"><stop offset="0" stop-color="#7e2a94"/><stop offset="0.1288" stop-color="#7a2c96"/><stop offset="0.1477" stop-color="#722f99"/><stop offset="0.178" stop-color="#4b3d9e"/><stop offset="0.2083" stop-color="#495aaf"/><stop offset="0.2235" stop-color="#4d7ac5"/><stop offset="0.2386" stop-color="#5193cf"/><stop offset="0.2576" stop-color="#57a3ca"/><stop offset="0.2727" stop-color="#57a2ca"/><stop offset="0.2917" stop-color="#4f89cd"/><stop offset="0.322" stop-color="#4958ae"/><stop offset="0.3598" stop-color="#4840a0"/><stop offset="0.4848" stop-color="#58369b"/><stop offset="0.6932" stop-color="#67329a"/><stop offset="0.8712" stop-color="#752e98"/><stop offset="1" stop-color="#782d97"/></linearGradient><linearGradient id="ga54" gradientUnits="userSpaceOnUse" x1="65.50" y1="0" x2="329.30" y2="0"><stop offset="0" stop-color="#7e2a94"/><stop offset="0.1288" stop-color="#7a2c96"/><stop offset="0.1477" stop-color="#722f99"/><stop offset="0.178" stop-color="#4b3d9e"/><stop offset="0.2121" stop-color="#495fb3"/><stop offset="0.2311" stop-color="#4e83ca"/><stop offset="0.2538" stop-color="#5193cf"/><stop offset="0.2765" stop-color="#4f8cce"/><stop offset="0.2917" stop-color="#4d78c3"/><stop offset="0.3182" stop-color="#484da7"/><stop offset="0.3523" stop-color="#4e3a9c"/><stop offset="0.3788" stop-color="#5b359a"/><stop offset="0.4394" stop-color="#68329a"/><stop offset="0.9091" stop-color="#792c96"/><stop offset="1" stop-color="#7a2c96"/></linearGradient><linearGradient id="ga55" gradientUnits="userSpaceOnUse" x1="65.50" y1="0" x2="329.30" y2="0"><stop offset="0" stop-color="#7e2a94"/><stop offset="0.1288" stop-color="#7a2c96"/><stop offset="0.1477" stop-color="#722f99"/><stop offset="0.178" stop-color="#4b3d9e"/><stop offset="0.2121" stop-color="#495fb3"/><stop offset="0.2348" stop-color="#4e82ca"/><stop offset="0.2576" stop-color="#4f89cd"/><stop offset="0.2765" stop-color="#4e80c9"/><stop offset="0.3144" stop-color="#4847a4"/><stop offset="0.3371" stop-color="#4f3a9c"/><stop offset="0.3712" stop-color="#6b3199"/><stop offset="0.4242" stop-color="#752f99"/><stop offset="1" stop-color="#7c2b95"/></linearGradient><linearGradient id="ga56" gradientUnits="userSpaceOnUse" x1="65.50" y1="0" x2="329.30" y2="0"><stop offset="0" stop-color="#7e2a94"/><stop offset="0.1288" stop-color="#7a2c96"/><stop offset="0.1477" stop-color="#722f99"/><stop offset="0.178" stop-color="#4b3d9e"/><stop offset="0.2121" stop-color="#495eb3"/><stop offset="0.2386" stop-color="#4e81c9"/><stop offset="0.2614" stop-color="#4e81c9"/><stop offset="0.2803" stop-color="#4b6fbd"/><stop offset="0.3106" stop-color="#4845a3"/><stop offset="0.3295" stop-color="#53389b"/><stop offset="0.3636" stop-color="#742f99"/><stop offset="0.5265" stop-color="#7a2c96"/><stop offset="1" stop-color="#7d2b95"/></linearGradient><linearGradient id="ga57" gradientUnits="userSpaceOnUse" x1="65.50" y1="0" x2="329.30" y2="0"><stop offset="0" stop-color="#7e2a94"/><stop offset="0.1288" stop-color="#7a2c96"/><stop offset="0.1515" stop-color="#6e3099"/><stop offset="0.178" stop-color="#4b3d9e"/><stop offset="0.2121" stop-color="#495eb2"/><stop offset="0.2386" stop-color="#4d7bc6"/><stop offset="0.2576" stop-color="#4d7bc6"/><stop offset="0.2803" stop-color="#4a65b8"/><stop offset="0.3106" stop-color="#4840a0"/><stop offset="0.3295" stop-color="#5b359a"/><stop offset="0.3523" stop-color="#742f99"/><stop offset="0.428" stop-color="#7b2b95"/><stop offset="1" stop-color="#7d2a94"/></linearGradient><linearGradient id="ga58" gradientUnits="userSpaceOnUse" x1="65.50" y1="0" x2="329.30" y2="0"><stop offset="0" stop-color="#7e2a94"/><stop offset="0.1288" stop-color="#7a2c96"/><stop offset="0.1515" stop-color="#6e3099"/><stop offset="0.178" stop-color="#4c3c9e"/><stop offset="0.2121" stop-color="#495db2"/><stop offset="0.2386" stop-color="#4c77c3"/><stop offset="0.2576" stop-color="#4c75c2"/><stop offset="0.2841" stop-color="#495bb0"/><stop offset="0.3106" stop-color="#4a3e9f"/><stop offset="0.3333" stop-color="#66329a"/><stop offset="0.3485" stop-color="#752e98"/><stop offset="0.4167" stop-color="#7d2b95"/><stop offset="1" stop-color="#7e2a94"/></linearGradient><linearGradient id="ga59" gradientUnits="userSpaceOnUse" x1="65.50" y1="0" x2="329.30" y2="0"><stop offset="0" stop-color="#7e2a94"/><stop offset="0.1288" stop-color="#7a2c96"/><stop offset="0.1515" stop-color="#6f3099"/><stop offset="0.178" stop-color="#4c3c9e"/><stop offset="0.2083" stop-color="#4958ae"/><stop offset="0.2348" stop-color="#4c72c0"/><stop offset="0.2538" stop-color="#4c73c0"/><stop offset="0.2841" stop-color="#4957ae"/><stop offset="0.3106" stop-color="#4c3c9e"/><stop offset="0.3447" stop-color="#752f99"/><stop offset="0.4053" stop-color="#7d2a94"/><stop offset="1" stop-color="#7e2a94"/></linearGradient><linearGradient id="ga60" gradientUnits="userSpaceOnUse" x1="65.50" y1="0" x2="329.30" y2="0"><stop offset="0" stop-color="#7e2a94"/><stop offset="0.1288" stop-color="#7a2c96"/><stop offset="0.1515" stop-color="#6f3099"/><stop offset="0.178" stop-color="#4c3c9e"/><stop offset="0.2083" stop-color="#4958ae"/><stop offset="0.2348" stop-color="#4b70be"/><stop offset="0.2538" stop-color="#4b70bf"/><stop offset="0.2841" stop-color="#4854ac"/><stop offset="0.3068" stop-color="#4a3e9f"/><stop offset="0.322" stop-color="#5b359a"/><stop offset="0.3409" stop-color="#742f99"/><stop offset="0.3939" stop-color="#7d2a94"/><stop offset="1" stop-color="#7e2a94"/></linearGradient><linearGradient id="ga61" gradientUnits="userSpaceOnUse" x1="65.50" y1="0" x2="329.30" y2="0"><stop offset="0" stop-color="#7e2a94"/><stop offset="0.1288" stop-color="#7a2c96"/><stop offset="0.1515" stop-color="#6f3099"/><stop offset="0.178" stop-color="#4c3c9d"/><stop offset="0.2045" stop-color="#4853ab"/><stop offset="0.2348" stop-color="#4b6ebd"/><stop offset="0.2538" stop-color="#4b6ebd"/><stop offset="0.3068" stop-color="#4b3d9e"/><stop offset="0.3258" stop-color="#62339a"/><stop offset="0.3409" stop-color="#752f99"/><stop offset="0.3977" stop-color="#7e2a94"/><stop offset="1" stop-color="#7e2a94"/></linearGradient><linearGradient id="ga62" gradientUnits="userSpaceOnUse" x1="65.50" y1="0" x2="329.30" y2="0"><stop offset="0" stop-color="#7e2a94"/><stop offset="0.1326" stop-color="#792c96"/><stop offset="0.1515" stop-color="#6f3099"/><stop offset="0.178" stop-color="#4c3c9d"/><stop offset="0.2008" stop-color="#484ea8"/><stop offset="0.2348" stop-color="#4b6cbc"/><stop offset="0.2538" stop-color="#4b6bbb"/><stop offset="0.303" stop-color="#493f9f"/><stop offset="0.3144" stop-color="#52389b"/><stop offset="0.3409" stop-color="#752f99"/><stop offset="0.3977" stop-color="#7e2a94"/><stop offset="1" stop-color="#7e2a94"/></linearGradient><linearGradient id="ga63" gradientUnits="userSpaceOnUse" x1="65.50" y1="0" x2="329.30" y2="0"><stop offset="0" stop-color="#7e2a94"/><stop offset="0.1326" stop-color="#792c96"/><stop offset="0.1515" stop-color="#703099"/><stop offset="0.178" stop-color="#4d3b9d"/><stop offset="0.2008" stop-color="#484da7"/><stop offset="0.2348" stop-color="#4a69ba"/><stop offset="0.2576" stop-color="#4a66b8"/><stop offset="0.303" stop-color="#4a3e9f"/><stop offset="0.3144" stop-color="#54389b"/><stop offset="0.3409" stop-color="#752e98"/><stop offset="0.4015" stop-color="#7e2a94"/><stop offset="1" stop-color="#7e2a94"/></linearGradient><linearGradient id="ga64" gradientUnits="userSpaceOnUse" x1="65.50" y1="0" x2="329.30" y2="0"><stop offset="0" stop-color="#7e2a94"/><stop offset="0.1326" stop-color="#792c96"/><stop offset="0.1515" stop-color="#713099"/><stop offset="0.178" stop-color="#4d3b9d"/><stop offset="0.2045" stop-color="#484fa8"/><stop offset="0.2348" stop-color="#4a67b8"/><stop offset="0.2576" stop-color="#4a64b7"/><stop offset="0.303" stop-color="#4a3e9f"/><stop offset="0.3182" stop-color="#5a359a"/><stop offset="0.3409" stop-color="#752e98"/><stop offset="0.4015" stop-color="#7e2a94"/><stop offset="1" stop-color="#7e2a94"/></linearGradient><linearGradient id="ga65" gradientUnits="userSpaceOnUse" x1="65.50" y1="0" x2="329.30" y2="0"><stop offset="0" stop-color="#7e2a94"/><stop offset="0.1326" stop-color="#7a2c96"/><stop offset="0.1515" stop-color="#713099"/><stop offset="0.1818" stop-color="#4b3d9e"/><stop offset="0.2197" stop-color="#495cb1"/><stop offset="0.2424" stop-color="#4a66b8"/><stop offset="0.2689" stop-color="#495ab0"/><stop offset="0.303" stop-color="#4b3d9e"/><stop offset="0.322" stop-color="#60339a"/><stop offset="0.3409" stop-color="#762e98"/><stop offset="0.4053" stop-color="#7e2a94"/><stop offset="1" stop-color="#7e2a94"/></linearGradient><linearGradient id="ga66" gradientUnits="userSpaceOnUse" x1="65.50" y1="0" x2="329.30" y2="0"><stop offset="0" stop-color="#7e2a94"/><stop offset="0.1326" stop-color="#7a2c96"/><stop offset="0.1515" stop-color="#722f99"/><stop offset="0.1818" stop-color="#4c3c9d"/><stop offset="0.2121" stop-color="#4854ab"/><stop offset="0.2386" stop-color="#4a63b6"/><stop offset="0.2652" stop-color="#495bb0"/><stop offset="0.303" stop-color="#4b3d9e"/><stop offset="0.3371" stop-color="#742f99"/><stop offset="0.3939" stop-color="#7e2a94"/><stop offset="1" stop-color="#7e2a94"/></linearGradient><linearGradient id="ga67" gradientUnits="userSpaceOnUse" x1="65.50" y1="0" x2="329.30" y2="0"><stop offset="0" stop-color="#7e2a94"/><stop offset="0.1326" stop-color="#7a2c96"/><stop offset="0.1553" stop-color="#6e3099"/><stop offset="0.1818" stop-color="#4c3c9d"/><stop offset="0.2045" stop-color="#484ca6"/><stop offset="0.2348" stop-color="#4a60b4"/><stop offset="0.2614" stop-color="#495cb1"/><stop offset="0.2992" stop-color="#4a3e9f"/><stop offset="0.3106" stop-color="#53389b"/><stop offset="0.3371" stop-color="#752f99"/><stop offset="0.3939" stop-color="#7e2a94"/><stop offset="1" stop-color="#7e2a94"/></linearGradient><linearGradient id="ga68" gradientUnits="userSpaceOnUse" x1="65.50" y1="0" x2="329.30" y2="0"><stop offset="0" stop-color="#7e2a94"/><stop offset="0.1326" stop-color="#7a2c96"/><stop offset="0.1553" stop-color="#6f3099"/><stop offset="0.1818" stop-color="#4d3b9d"/><stop offset="0.2083" stop-color="#484ea7"/><stop offset="0.2386" stop-color="#495fb3"/><stop offset="0.2652" stop-color="#4957ae"/><stop offset="0.2992" stop-color="#4a3e9f"/><stop offset="0.3106" stop-color="#54389b"/><stop offset="0.3371" stop-color="#752f99"/><stop offset="0.3977" stop-color="#7e2a94"/><stop offset="1" stop-color="#7e2a94"/></linearGradient><linearGradient id="ga69" gradientUnits="userSpaceOnUse" x1="65.50" y1="0" x2="329.30" y2="0"><stop offset="0" stop-color="#7e2a94"/><stop offset="0.1326" stop-color="#7a2c96"/><stop offset="0.1553" stop-color="#703099"/><stop offset="0.1856" stop-color="#4b3d9e"/><stop offset="0.2348" stop-color="#495cb1"/><stop offset="0.2614" stop-color="#4958ae"/><stop offset="0.2992" stop-color="#4b3d9e"/><stop offset="0.3182" stop-color="#5f349a"/><stop offset="0.3371" stop-color="#752e98"/><stop offset="0.3977" stop-color="#7e2a94"/><stop offset="1" stop-color="#7e2a94"/></linearGradient><linearGradient id="ga70" gradientUnits="userSpaceOnUse" x1="65.50" y1="0" x2="329.30" y2="0"><stop offset="0" stop-color="#7e2a94"/><stop offset="0.1364" stop-color="#792c96"/><stop offset="0.1553" stop-color="#703099"/><stop offset="0.1856" stop-color="#4c3c9d"/><stop offset="0.2159" stop-color="#4851a9"/><stop offset="0.2424" stop-color="#495cb1"/><stop offset="0.2689" stop-color="#4851aa"/><stop offset="0.2992" stop-color="#4b3d9e"/><stop offset="0.322" stop-color="#66329a"/><stop offset="0.3371" stop-color="#752e98"/><stop offset="0.3977" stop-color="#7e2a94"/><stop offset="1" stop-color="#7e2a94"/></linearGradient><linearGradient id="ga71" gradientUnits="userSpaceOnUse" x1="65.50" y1="0" x2="329.30" y2="0"><stop offset="0" stop-color="#7e2a94"/><stop offset="0.1364" stop-color="#792c96"/><stop offset="0.1553" stop-color="#713099"/><stop offset="0.1856" stop-color="#4c3c9d"/><stop offset="0.2159" stop-color="#484fa8"/><stop offset="0.2424" stop-color="#495ab0"/><stop offset="0.2727" stop-color="#484da7"/><stop offset="0.2992" stop-color="#4c3c9d"/><stop offset="0.3371" stop-color="#762e98"/><stop offset="0.4015" stop-color="#7e2a94"/><stop offset="1" stop-color="#7e2a94"/></linearGradient><linearGradient id="ga72" gradientUnits="userSpaceOnUse" x1="65.50" y1="0" x2="329.30" y2="0"><stop offset="0" stop-color="#7e2a94"/><stop offset="0.1364" stop-color="#7a2c96"/><stop offset="0.1553" stop-color="#722f99"/><stop offset="0.1856" stop-color="#4d3b9d"/><stop offset="0.2121" stop-color="#484ca6"/><stop offset="0.2424" stop-color="#4958ae"/><stop offset="0.2727" stop-color="#484ca7"/><stop offset="0.2992" stop-color="#4c3c9d"/><stop offset="0.3333" stop-color="#742f99"/><stop offset="0.3902" stop-color="#7e2a94"/><stop offset="1" stop-color="#7e2a94"/></linearGradient><linearGradient id="ga73" gradientUnits="userSpaceOnUse" x1="65.50" y1="0" x2="329.30" y2="0"><stop offset="0" stop-color="#7e2a94"/><stop offset="0.1364" stop-color="#7a2c96"/><stop offset="0.1591" stop-color="#6e3099"/><stop offset="0.1856" stop-color="#4d3b9c"/><stop offset="0.2083" stop-color="#4848a4"/><stop offset="0.2424" stop-color="#4956ad"/><stop offset="0.2765" stop-color="#4849a5"/><stop offset="0.2992" stop-color="#4d3b9d"/><stop offset="0.3333" stop-color="#752f99"/><stop offset="0.3939" stop-color="#7e2a94"/><stop offset="1" stop-color="#7e2a94"/></linearGradient><linearGradient id="ga74" gradientUnits="userSpaceOnUse" x1="65.50" y1="0" x2="329.30" y2="0"><stop offset="0" stop-color="#7e2a94"/><stop offset="0.1364" stop-color="#7a2c96"/><stop offset="0.1591" stop-color="#6f3099"/><stop offset="0.1894" stop-color="#4c3c9d"/><stop offset="0.2273" stop-color="#4851aa"/><stop offset="0.2538" stop-color="#4853ab"/><stop offset="0.2955" stop-color="#4b3d9e"/><stop offset="0.3182" stop-color="#65339a"/><stop offset="0.3371" stop-color="#762e98"/><stop offset="0.4053" stop-color="#7e2a94"/><stop offset="1" stop-color="#7e2a94"/></linearGradient><linearGradient id="ga75" gradientUnits="userSpaceOnUse" x1="65.50" y1="0" x2="329.30" y2="0"><stop offset="0" stop-color="#7e2a94"/><stop offset="0.1364" stop-color="#7a2c96"/><stop offset="0.1591" stop-color="#703099"/><stop offset="0.1894" stop-color="#4c3c9d"/><stop offset="0.2235" stop-color="#484ea7"/><stop offset="0.25" stop-color="#4852aa"/><stop offset="0.2917" stop-color="#4a3e9f"/><stop offset="0.3068" stop-color="#57379b"/><stop offset="0.3333" stop-color="#752e98"/><stop offset="0.3939" stop-color="#7e2a94"/><stop offset="1" stop-color="#7e2a94"/></linearGradient><linearGradient id="ga76" gradientUnits="userSpaceOnUse" x1="65.50" y1="0" x2="329.30" y2="0"><stop offset="0" stop-color="#7e2a94"/><stop offset="0.1364" stop-color="#7a2c96"/><stop offset="0.1591" stop-color="#713099"/><stop offset="0.1894" stop-color="#4d3b9d"/><stop offset="0.2159" stop-color="#4849a5"/><stop offset="0.2462" stop-color="#4851a9"/><stop offset="0.2917" stop-color="#4b3d9e"/><stop offset="0.3068" stop-color="#58369b"/><stop offset="0.3333" stop-color="#752e98"/><stop offset="0.3977" stop-color="#7e2a94"/><stop offset="1" stop-color="#7e2a94"/></linearGradient><linearGradient id="ga77" gradientUnits="userSpaceOnUse" x1="65.50" y1="0" x2="329.30" y2="0"><stop offset="0" stop-color="#7e2a94"/><stop offset="0.1402" stop-color="#792c96"/><stop offset="0.1591" stop-color="#713099"/><stop offset="0.1932" stop-color="#4c3c9d"/><stop offset="0.2386" stop-color="#484fa8"/><stop offset="0.2727" stop-color="#4847a4"/><stop offset="0.2955" stop-color="#4d3b9d"/><stop offset="0.3333" stop-color="#762e98"/><stop offset="0.3977" stop-color="#7e2a94"/><stop offset="1" stop-color="#7e2a94"/></linearGradient><linearGradient id="ga78" gradientUnits="userSpaceOnUse" x1="65.50" y1="0" x2="329.30" y2="0"><stop offset="0" stop-color="#7e2a94"/><stop offset="0.1402" stop-color="#792c96"/><stop offset="0.1629" stop-color="#6e3099"/><stop offset="0.1932" stop-color="#4c3c9d"/><stop offset="0.2273" stop-color="#484ba6"/><stop offset="0.2614" stop-color="#484ba6"/><stop offset="0.2917" stop-color="#4c3c9d"/><stop offset="0.3333" stop-color="#762e98"/><stop offset="0.4015" stop-color="#7e2a94"/><stop offset="1" stop-color="#7e2a94"/></linearGradient><linearGradient id="ga79" gradientUnits="userSpaceOnUse" x1="65.50" y1="0" x2="329.30" y2="0"><stop offset="0" stop-color="#7e2a94"/><stop offset="0.1402" stop-color="#7a2c96"/><stop offset="0.1629" stop-color="#6f3099"/><stop offset="0.1932" stop-color="#4d3b9d"/><stop offset="0.2235" stop-color="#4849a5"/><stop offset="0.2576" stop-color="#484aa6"/><stop offset="0.2879" stop-color="#4b3d9e"/><stop offset="0.303" stop-color="#57369b"/><stop offset="0.3295" stop-color="#752f99"/><stop offset="0.3902" stop-color="#7e2a94"/><stop offset="1" stop-color="#7e2a94"/></linearGradient><linearGradient id="ga80" gradientUnits="userSpaceOnUse" x1="65.50" y1="0" x2="329.30" y2="0"><stop offset="0" stop-color="#7e2a94"/><stop offset="0.1402" stop-color="#7a2c96"/><stop offset="0.1629" stop-color="#703099"/><stop offset="0.1932" stop-color="#4d3b9c"/><stop offset="0.2235" stop-color="#4848a4"/><stop offset="0.2576" stop-color="#4849a5"/><stop offset="0.2879" stop-color="#4b3d9e"/><stop offset="0.3068" stop-color="#5c359a"/><stop offset="0.3295" stop-color="#752f99"/><stop offset="0.3939" stop-color="#7e2a94"/><stop offset="1" stop-color="#7e2a94"/></linearGradient><linearGradient id="ga81" gradientUnits="userSpaceOnUse" x1="65.50" y1="0" x2="329.30" y2="0"><stop offset="0" stop-color="#7e2a94"/><stop offset="0.1402" stop-color="#7a2c96"/><stop offset="0.1629" stop-color="#703099"/><stop offset="0.197" stop-color="#4c3c9d"/><stop offset="0.2348" stop-color="#484aa5"/><stop offset="0.2689" stop-color="#4845a2"/><stop offset="0.2955" stop-color="#51399c"/><stop offset="0.3295" stop-color="#752e98"/><stop offset="0.3939" stop-color="#7e2a94"/><stop offset="1" stop-color="#7e2a94"/></linearGradient><linearGradient id="ga82" gradientUnits="userSpaceOnUse" x1="65.50" y1="0" x2="329.30" y2="0"><stop offset="0" stop-color="#7e2a94"/><stop offset="0.1402" stop-color="#7a2c96"/><stop offset="0.1629" stop-color="#713099"/><stop offset="0.197" stop-color="#4d3b9d"/><stop offset="0.2311" stop-color="#4849a5"/><stop offset="0.2652" stop-color="#4845a3"/><stop offset="0.2917" stop-color="#4e3a9c"/><stop offset="0.3295" stop-color="#752e98"/><stop offset="0.3939" stop-color="#7e2a94"/><stop offset="1" stop-color="#7e2a94"/></linearGradient><linearGradient id="ga83" gradientUnits="userSpaceOnUse" x1="65.50" y1="0" x2="329.30" y2="0"><stop offset="0" stop-color="#7e2a94"/><stop offset="0.1402" stop-color="#7a2c96"/><stop offset="0.1629" stop-color="#713099"/><stop offset="0.197" stop-color="#4d3b9d"/><stop offset="0.2348" stop-color="#4849a5"/><stop offset="0.2689" stop-color="#4843a2"/><stop offset="0.2955" stop-color="#52389b"/><stop offset="0.3295" stop-color="#752e98"/><stop offset="0.3977" stop-color="#7e2a94"/><stop offset="1" stop-color="#7e2a94"/></linearGradient><linearGradient id="ga84" gradientUnits="userSpaceOnUse" x1="65.50" y1="0" x2="329.30" y2="0"><stop offset="0" stop-color="#7e2a94"/><stop offset="0.1439" stop-color="#792c96"/><stop offset="0.1667" stop-color="#6e3099"/><stop offset="0.197" stop-color="#4d3b9c"/><stop offset="0.2311" stop-color="#4847a4"/><stop offset="0.2652" stop-color="#4844a2"/><stop offset="0.2917" stop-color="#4f3a9c"/><stop offset="0.3258" stop-color="#742f99"/><stop offset="0.3864" stop-color="#7e2a94"/><stop offset="1" stop-color="#7e2a94"/></linearGradient><linearGradient id="ga85" gradientUnits="userSpaceOnUse" x1="65.50" y1="0" x2="329.30" y2="0"><stop offset="0" stop-color="#7e2a94"/><stop offset="0.1439" stop-color="#792c96"/><stop offset="0.1667" stop-color="#6f3099"/><stop offset="0.2008" stop-color="#4c3c9d"/><stop offset="0.2424" stop-color="#4848a4"/><stop offset="0.2841" stop-color="#4c3c9d"/><stop offset="0.3068" stop-color="#60339a"/><stop offset="0.3295" stop-color="#762e98"/><stop offset="0.4015" stop-color="#7e2a94"/><stop offset="1" stop-color="#7e2a94"/></linearGradient><linearGradient id="ga86" gradientUnits="userSpaceOnUse" x1="65.50" y1="0" x2="329.30" y2="0"><stop offset="0" stop-color="#7e2a94"/><stop offset="0.1439" stop-color="#792c96"/><stop offset="0.1667" stop-color="#6f3099"/><stop offset="0.2008" stop-color="#4d3b9d"/><stop offset="0.2424" stop-color="#4847a4"/><stop offset="0.2841" stop-color="#4c3c9d"/><stop offset="0.3295" stop-color="#762e98"/><stop offset="0.4015" stop-color="#7e2a94"/><stop offset="1" stop-color="#7e2a94"/></linearGradient><linearGradient id="ga87" gradientUnits="userSpaceOnUse" x1="65.50" y1="0" x2="329.30" y2="0"><stop offset="0" stop-color="#7e2a94"/><stop offset="0.1439" stop-color="#7a2c96"/><stop offset="0.1667" stop-color="#703099"/><stop offset="0.2008" stop-color="#4d3b9d"/><stop offset="0.2348" stop-color="#4845a3"/><stop offset="0.2765" stop-color="#4a3e9f"/><stop offset="0.2917" stop-color="#52399c"/><stop offset="0.3258" stop-color="#752f99"/><stop offset="0.3902" stop-color="#7e2a94"/><stop offset="1" stop-color="#7e2a94"/></linearGradient><linearGradient id="ga88" gradientUnits="userSpaceOnUse" x1="65.50" y1="0" x2="329.30" y2="0"><stop offset="0" stop-color="#7e2a94"/><stop offset="0.1439" stop-color="#7a2c96"/><stop offset="0.1667" stop-color="#703099"/><stop offset="0.2008" stop-color="#4d3b9c"/><stop offset="0.2424" stop-color="#4845a3"/><stop offset="0.2803" stop-color="#4c3c9e"/><stop offset="0.303" stop-color="#5e349a"/><stop offset="0.3258" stop-color="#752e98"/><stop offset="0.3939" stop-color="#7e2a94"/><stop offset="1" stop-color="#7e2a94"/></linearGradient><linearGradient id="ga89" gradientUnits="userSpaceOnUse" x1="65.50" y1="0" x2="329.30" y2="0"><stop offset="0" stop-color="#7e2a94"/><stop offset="0.1439" stop-color="#7a2c96"/><stop offset="0.1667" stop-color="#713099"/><stop offset="0.2045" stop-color="#4c3c9d"/><stop offset="0.25" stop-color="#4844a2"/><stop offset="0.2841" stop-color="#4d3b9c"/><stop offset="0.3258" stop-color="#752e98"/><stop offset="0.3939" stop-color="#7e2a94"/><stop offset="1" stop-color="#7e2a94"/></linearGradient><linearGradient id="ga90" gradientUnits="userSpaceOnUse" x1="65.50" y1="0" x2="329.30" y2="0"><stop offset="0" stop-color="#7e2a94"/><stop offset="0.1439" stop-color="#7a2c96"/><stop offset="0.1667" stop-color="#713099"/><stop offset="0.2045" stop-color="#4d3b9d"/><stop offset="0.25" stop-color="#4843a2"/><stop offset="0.2841" stop-color="#4e3a9c"/><stop offset="0.3258" stop-color="#752e98"/><stop offset="0.3939" stop-color="#7e2a94"/><stop offset="1" stop-color="#7e2a94"/></linearGradient><linearGradient id="ga91" gradientUnits="userSpaceOnUse" x1="65.50" y1="0" x2="329.30" y2="0"><stop offset="0" stop-color="#7e2a94"/><stop offset="0.1439" stop-color="#7a2c96"/><stop offset="0.1705" stop-color="#6e3099"/><stop offset="0.2045" stop-color="#4d3b9d"/><stop offset="0.25" stop-color="#4843a2"/><stop offset="0.2841" stop-color="#4e3a9c"/><stop offset="0.3258" stop-color="#752e98"/><stop offset="0.3977" stop-color="#7e2a94"/><stop offset="1" stop-color="#7e2a94"/></linearGradient><linearGradient id="gas" gradientUnits="userSpaceOnUse" x1="65.50" y1="0" x2="329.30" y2="0"><stop offset="0" stop-color="#4848a4"/><stop offset="0.01894" stop-color="#4955ac"/><stop offset="0.03788" stop-color="#4a68b9"/><stop offset="0.05303" stop-color="#495fb3"/><stop offset="0.07197" stop-color="#484ba6"/><stop offset="0.125" stop-color="#4847a4"/><stop offset="0.1856" stop-color="#4851aa"/><stop offset="0.2462" stop-color="#4b6ebd"/><stop offset="0.2765" stop-color="#4a68b9"/><stop offset="0.3295" stop-color="#4850a9"/><stop offset="0.4053" stop-color="#4956ad"/><stop offset="0.4811" stop-color="#4847a4"/><stop offset="0.75" stop-color="#4844a2"/><stop offset="0.822" stop-color="#51399c"/><stop offset="0.9091" stop-color="#782d97"/><stop offset="0.9583" stop-color="#7e2a94"/><stop offset="1" stop-color="#7e2a94"/></linearGradient><filter id="gaf" filterUnits="userSpaceOnUse" x="60.50" y="19.00" width="273.80" height="194.10" color-interpolation-filters="sRGB"><feGaussianBlur stdDeviation="0.6 1.3"/></filter><clipPath id="gac"><rect x="65.50" y="24.00" width="263.80" height="184.10"/></clipPath></defs>
<g clip-path="url(#gac)"><g filter="url(#gaf)"><rect x="60.50" y="19.00" width="273.80" height="7.60" fill="url(#ga0)"/><rect x="60.50" y="26.00" width="273.80" height="2.60" fill="url(#ga1)"/><rect x="60.50" y="28.00" width="273.80" height="2.60" fill="url(#ga2)"/><rect x="60.50" y="30.00" width="273.80" height="2.60" fill="url(#ga3)"/><rect x="60.50" y="32.00" width="273.80" height="2.60" fill="url(#ga4)"/><rect x="60.50" y="34.01" width="273.80" height="2.60" fill="url(#ga5)"/><rect x="60.50" y="36.01" width="273.80" height="2.60" fill="url(#ga6)"/><rect x="60.50" y="38.01" width="273.80" height="2.60" fill="url(#ga7)"/><rect x="60.50" y="40.01" width="273.80" height="2.60" fill="url(#ga8)"/><rect x="60.50" y="42.01" width="273.80" height="2.60" fill="url(#ga9)"/><rect x="60.50" y="44.01" width="273.80" height="2.60" fill="url(#ga10)"/><rect x="60.50" y="46.01" width="273.80" height="2.60" fill="url(#ga11)"/><rect x="60.50" y="48.01" width="273.80" height="2.60" fill="url(#ga12)"/><rect x="60.50" y="50.01" width="273.80" height="2.60" fill="url(#ga13)"/><rect x="60.50" y="52.02" width="273.80" height="2.60" fill="url(#ga14)"/><rect x="60.50" y="54.02" width="273.80" height="2.60" fill="url(#ga15)"/><rect x="60.50" y="56.02" width="273.80" height="2.60" fill="url(#ga16)"/><rect x="60.50" y="58.02" width="273.80" height="2.60" fill="url(#ga17)"/><rect x="60.50" y="60.02" width="273.80" height="2.60" fill="url(#ga18)"/><rect x="60.50" y="62.02" width="273.80" height="2.60" fill="url(#ga19)"/><rect x="60.50" y="64.02" width="273.80" height="2.60" fill="url(#ga20)"/><rect x="60.50" y="66.02" width="273.80" height="2.60" fill="url(#ga21)"/><rect x="60.50" y="68.02" width="273.80" height="2.60" fill="url(#ga22)"/><rect x="60.50" y="70.03" width="273.80" height="2.60" fill="url(#ga23)"/><rect x="60.50" y="72.03" width="273.80" height="2.60" fill="url(#ga24)"/><rect x="60.50" y="74.03" width="273.80" height="2.60" fill="url(#ga25)"/><rect x="60.50" y="76.03" width="273.80" height="2.60" fill="url(#ga26)"/><rect x="60.50" y="78.03" width="273.80" height="2.60" fill="url(#ga27)"/><rect x="60.50" y="80.03" width="273.80" height="2.60" fill="url(#ga28)"/><rect x="60.50" y="82.03" width="273.80" height="2.60" fill="url(#ga29)"/><rect x="60.50" y="84.03" width="273.80" height="2.60" fill="url(#ga30)"/><rect x="60.50" y="86.03" width="273.80" height="2.60" fill="url(#ga31)"/><rect x="60.50" y="88.03" width="273.80" height="2.60" fill="url(#ga32)"/><rect x="60.50" y="90.04" width="273.80" height="2.60" fill="url(#ga33)"/><rect x="60.50" y="92.04" width="273.80" height="2.60" fill="url(#ga34)"/><rect x="60.50" y="94.04" width="273.80" height="2.60" fill="url(#ga35)"/><rect x="60.50" y="96.04" width="273.80" height="2.60" fill="url(#ga36)"/><rect x="60.50" y="98.04" width="273.80" height="2.60" fill="url(#ga37)"/><rect x="60.50" y="100.04" width="273.80" height="2.60" fill="url(#ga38)"/><rect x="60.50" y="102.04" width="273.80" height="2.60" fill="url(#ga39)"/><rect x="60.50" y="104.04" width="273.80" height="2.60" fill="url(#ga40)"/><rect x="60.50" y="106.04" width="273.80" height="2.60" fill="url(#ga41)"/><rect x="60.50" y="108.05" width="273.80" height="2.60" fill="url(#ga42)"/><rect x="60.50" y="110.05" width="273.80" height="2.60" fill="url(#ga43)"/><rect x="60.50" y="112.05" width="273.80" height="2.60" fill="url(#ga44)"/><rect x="60.50" y="114.05" width="273.80" height="2.60" fill="url(#ga45)"/><rect x="60.50" y="116.05" width="273.80" height="2.60" fill="url(#ga46)"/><rect x="60.50" y="118.05" width="273.80" height="2.60" fill="url(#ga47)"/><rect x="60.50" y="120.05" width="273.80" height="2.60" fill="url(#ga48)"/><rect x="60.50" y="122.05" width="273.80" height="2.60" fill="url(#ga49)"/><rect x="60.50" y="124.05" width="273.80" height="2.60" fill="url(#ga50)"/><rect x="60.50" y="126.06" width="273.80" height="2.60" fill="url(#ga51)"/><rect x="60.50" y="128.06" width="273.80" height="2.60" fill="url(#ga52)"/><rect x="60.50" y="130.06" width="273.80" height="2.60" fill="url(#ga53)"/><rect x="60.50" y="132.06" width="273.80" height="2.60" fill="url(#ga54)"/><rect x="60.50" y="134.06" width="273.80" height="2.60" fill="url(#ga55)"/><rect x="60.50" y="136.06" width="273.80" height="2.60" fill="url(#ga56)"/><rect x="60.50" y="138.06" width="273.80" height="2.60" fill="url(#ga57)"/><rect x="60.50" y="140.06" width="273.80" height="2.60" fill="url(#ga58)"/><rect x="60.50" y="142.06" width="273.80" height="2.60" fill="url(#ga59)"/><rect x="60.50" y="144.07" width="273.80" height="2.60" fill="url(#ga60)"/><rect x="60.50" y="146.07" width="273.80" height="2.60" fill="url(#ga61)"/><rect x="60.50" y="148.07" width="273.80" height="2.60" fill="url(#ga62)"/><rect x="60.50" y="150.07" width="273.80" height="2.60" fill="url(#ga63)"/><rect x="60.50" y="152.07" width="273.80" height="2.60" fill="url(#ga64)"/><rect x="60.50" y="154.07" width="273.80" height="2.60" fill="url(#ga65)"/><rect x="60.50" y="156.07" width="273.80" height="2.60" fill="url(#ga66)"/><rect x="60.50" y="158.07" width="273.80" height="2.60" fill="url(#ga67)"/><rect x="60.50" y="160.07" width="273.80" height="2.60" fill="url(#ga68)"/><rect x="60.50" y="162.07" width="273.80" height="2.60" fill="url(#ga69)"/><rect x="60.50" y="164.08" width="273.80" height="2.60" fill="url(#ga70)"/><rect x="60.50" y="166.08" width="273.80" height="2.60" fill="url(#ga71)"/><rect x="60.50" y="168.08" width="273.80" height="2.60" fill="url(#ga72)"/><rect x="60.50" y="170.08" width="273.80" height="2.60" fill="url(#ga73)"/><rect x="60.50" y="172.08" width="273.80" height="2.60" fill="url(#ga74)"/><rect x="60.50" y="174.08" width="273.80" height="2.60" fill="url(#ga75)"/><rect x="60.50" y="176.08" width="273.80" height="2.60" fill="url(#ga76)"/><rect x="60.50" y="178.08" width="273.80" height="2.60" fill="url(#ga77)"/><rect x="60.50" y="180.08" width="273.80" height="2.60" fill="url(#ga78)"/><rect x="60.50" y="182.09" width="273.80" height="2.60" fill="url(#ga79)"/><rect x="60.50" y="184.09" width="273.80" height="2.60" fill="url(#ga80)"/><rect x="60.50" y="186.09" width="273.80" height="2.60" fill="url(#ga81)"/><rect x="60.50" y="188.09" width="273.80" height="2.60" fill="url(#ga82)"/><rect x="60.50" y="190.09" width="273.80" height="2.60" fill="url(#ga83)"/><rect x="60.50" y="192.09" width="273.80" height="2.60" fill="url(#ga84)"/><rect x="60.50" y="194.09" width="273.80" height="2.60" fill="url(#ga85)"/><rect x="60.50" y="196.09" width="273.80" height="2.60" fill="url(#ga86)"/><rect x="60.50" y="198.09" width="273.80" height="2.60" fill="url(#ga87)"/><rect x="60.50" y="200.10" width="273.80" height="2.60" fill="url(#ga88)"/><rect x="60.50" y="202.10" width="273.80" height="2.60" fill="url(#ga89)"/><rect x="60.50" y="204.10" width="273.80" height="2.60" fill="url(#ga90)"/><rect x="60.50" y="206.10" width="273.80" height="7.60" fill="url(#ga91)"/></g><rect x="65.50" y="205.80" width="263.80" height="1.6" fill="url(#gas)" opacity="0.9"/><ellipse cx="81.33" cy="207.10" rx="8.0" ry="3.3" fill="url(#blobg)" opacity="1.00"/><ellipse cx="99.53" cy="207.10" rx="7.5" ry="3.3" fill="url(#blobg)" opacity="0.95"/><ellipse cx="126.44" cy="207.10" rx="8.0" ry="3.3" fill="url(#blobg)" opacity="0.85"/><ellipse cx="167.50" cy="207.10" rx="7.0" ry="3.3" fill="url(#blobg)" opacity="0.30"/></g>

<line x1="65.50" y1="111.90" x2="329.30" y2="111.90" stroke="#fff" stroke-width="1.9" stroke-dasharray="2.9 1.85"/>
<line x1="201.71" y1="26.60" x2="201.71" y2="208.10" stroke="#b7afab" stroke-width="2.0" stroke-dasharray="3.25 1.7"/>
<line x1="237.15" y1="26.60" x2="237.15" y2="208.10" stroke="#b7afab" stroke-width="2.0" stroke-dasharray="3.25 1.7"/>
<rect x="65.50" y="26.60" width="263.80" height="181.50" fill="none" stroke="#161616" stroke-width="2.2"/>
<line x1="153.43" y1="208.10" x2="153.43" y2="204.60" stroke="#161616" stroke-width="1.6" /><line x1="153.43" y1="26.60" x2="153.43" y2="30.10" stroke="#161616" stroke-width="1.6" /><line x1="241.37" y1="208.10" x2="241.37" y2="204.60" stroke="#161616" stroke-width="1.6" /><line x1="241.37" y1="26.60" x2="241.37" y2="30.10" stroke="#161616" stroke-width="1.6" /><line x1="65.50" y1="147.60" x2="69.00" y2="147.60" stroke="#161616" stroke-width="1.6" /><line x1="329.30" y1="147.60" x2="325.80" y2="147.60" stroke="#161616" stroke-width="1.6" /><line x1="65.50" y1="87.10" x2="69.00" y2="87.10" stroke="#161616" stroke-width="1.6" /><line x1="329.30" y1="87.10" x2="325.80" y2="87.10" stroke="#161616" stroke-width="1.6" />
<text x="70.10" y="105.20" font-family='"DejaVu Sans", "Liberation Sans", sans-serif' font-stretch="normal" font-size="21.8" fill="#fff" stroke="#fff"><tspan font-style="italic">k</tspan><tspan font-size="11" dy="4.3" dx="-1.2">c</tspan></text>
<text x="190.41" y="42.20" font-size="16.5" fill="#b7b5b0" stroke="none"><tspan font-style="italic">t</tspan><tspan font-size="8" dy="2.8" dx="-2.0">1</tspan></text>
<text x="225.85" y="42.20" font-size="16.5" fill="#b7b5b0" stroke="none"><tspan font-style="italic">t</tspan><tspan font-size="8" dy="2.8" dx="-2.0">2</tspan></text>
<g transform="translate(173.20 252.40) scale(0.95 1.0)" font-family='"DejaVu Sans", "Liberation Sans", sans-serif' font-stretch="normal" font-size="21.5" letter-spacing="-0.4" fill="#161616" stroke="#161616"><text x="0" y="0"><tspan font-style="italic">t</tspan><tspan dx="-1.9"> (ns)</tspan></text></g>
<defs><linearGradient id="gb0" gradientUnits="userSpaceOnUse" x1="343.60" y1="0" x2="606.80" y2="0"><stop offset="0" stop-color="#7e2a94"/><stop offset="0.1445" stop-color="#792c96"/><stop offset="0.1711" stop-color="#6f3099"/><stop offset="0.2091" stop-color="#4d3b9d"/><stop offset="0.251" stop-color="#4847a4"/><stop offset="0.2814" stop-color="#4843a2"/><stop offset="0.3042" stop-color="#52389b"/><stop offset="0.3308" stop-color="#752f99"/><stop offset="0.384" stop-color="#7e2a94"/><stop offset="1" stop-color="#7e2a94"/></linearGradient><linearGradient id="gb1" gradientUnits="userSpaceOnUse" x1="343.60" y1="0" x2="606.80" y2="0"><stop offset="0" stop-color="#7e2a94"/><stop offset="0.1445" stop-color="#792c96"/><stop offset="0.1711" stop-color="#6f3099"/><stop offset="0.2091" stop-color="#4d3b9d"/><stop offset="0.2471" stop-color="#4847a4"/><stop offset="0.2776" stop-color="#4845a3"/><stop offset="0.3004" stop-color="#4d3b9c"/><stop offset="0.3308" stop-color="#742f99"/><stop offset="0.3802" stop-color="#7e2a94"/><stop offset="1" stop-color="#7e2a94"/></linearGradient><linearGradient id="gb2" gradientUnits="userSpaceOnUse" x1="343.60" y1="0" x2="606.80" y2="0"><stop offset="0" stop-color="#7e2a94"/><stop offset="0.1445" stop-color="#792c96"/><stop offset="0.1711" stop-color="#6f3099"/><stop offset="0.2091" stop-color="#4d3b9d"/><stop offset="0.251" stop-color="#4848a4"/><stop offset="0.2814" stop-color="#4844a2"/><stop offset="0.3042" stop-color="#51399c"/><stop offset="0.3308" stop-color="#742f99"/><stop offset="0.3802" stop-color="#7e2a94"/><stop offset="1" stop-color="#7e2a94"/></linearGradient><linearGradient id="gb3" gradientUnits="userSpaceOnUse" x1="343.60" y1="0" x2="606.80" y2="0"><stop offset="0" stop-color="#7e2a94"/><stop offset="0.1445" stop-color="#792c96"/><stop offset="0.1711" stop-color="#6e3099"/><stop offset="0.2091" stop-color="#4c3c9d"/><stop offset="0.2586" stop-color="#484aa5"/><stop offset="0.289" stop-color="#4841a0"/><stop offset="0.3042" stop-color="#50399c"/><stop offset="0.3308" stop-color="#742f99"/><stop offset="0.3802" stop-color="#7e2a94"/><stop offset="1" stop-color="#7e2a94"/></linearGradient><linearGradient id="gb4" gradientUnits="userSpaceOnUse" x1="343.60" y1="0" x2="606.80" y2="0"><stop offset="0" stop-color="#7e2a94"/><stop offset="0.1445" stop-color="#792c96"/><stop offset="0.1673" stop-color="#713099"/><stop offset="0.2053" stop-color="#4d3b9c"/><stop offset="0.2395" stop-color="#4847a4"/><stop offset="0.2738" stop-color="#4848a4"/><stop offset="0.3004" stop-color="#4d3b9d"/><stop offset="0.3346" stop-color="#762e98"/><stop offset="0.3916" stop-color="#7e2a94"/><stop offset="1" stop-color="#7e2a94"/></linearGradient><linearGradient id="gb5" gradientUnits="userSpaceOnUse" x1="343.60" y1="0" x2="606.80" y2="0"><stop offset="0" stop-color="#7e2a94"/><stop offset="0.1445" stop-color="#792c96"/><stop offset="0.1673" stop-color="#713099"/><stop offset="0.2053" stop-color="#4d3b9d"/><stop offset="0.2395" stop-color="#4847a4"/><stop offset="0.2738" stop-color="#4849a5"/><stop offset="0.3004" stop-color="#4c3c9d"/><stop offset="0.3346" stop-color="#762e98"/><stop offset="0.3916" stop-color="#7e2a94"/><stop offset="1" stop-color="#7e2a94"/></linearGradient><linearGradient id="gb6" gradientUnits="userSpaceOnUse" x1="343.60" y1="0" x2="606.80" y2="0"><stop offset="0" stop-color="#7e2a94"/><stop offset="0.1445" stop-color="#792c96"/><stop offset="0.1673" stop-color="#703099"/><stop offset="0.2053" stop-color="#4d3b9d"/><stop offset="0.2433" stop-color="#4849a5"/><stop offset="0.2738" stop-color="#484aa5"/><stop offset="0.3004" stop-color="#4c3c9d"/><stop offset="0.3346" stop-color="#762e98"/><stop offset="0.3878" stop-color="#7e2a94"/><stop offset="1" stop-color="#7e2a94"/></linearGradient><linearGradient id="gb7" gradientUnits="userSpaceOnUse" x1="343.60" y1="0" x2="606.80" y2="0"><stop offset="0" stop-color="#7e2a94"/><stop offset="0.1445" stop-color="#792d97"/><stop offset="0.1673" stop-color="#703099"/><stop offset="0.2053" stop-color="#4c3c9d"/><stop offset="0.251" stop-color="#484ba6"/><stop offset="0.2814" stop-color="#4847a4"/><stop offset="0.3042" stop-color="#4e3a9c"/><stop offset="0.3346" stop-color="#752e98"/><stop offset="0.3878" stop-color="#7e2a94"/><stop offset="1" stop-color="#7e2a94"/></linearGradient><linearGradient id="gb8" gradientUnits="userSpaceOnUse" x1="343.60" y1="0" x2="606.80" y2="0"><stop offset="0" stop-color="#7e2a94"/><stop offset="0.1407" stop-color="#7a2c96"/><stop offset="0.1673" stop-color="#6f3099"/><stop offset="0.2015" stop-color="#4d3b9c"/><stop offset="0.2357" stop-color="#4849a5"/><stop offset="0.27" stop-color="#484da7"/><stop offset="0.3004" stop-color="#4b3d9e"/><stop offset="0.3194" stop-color="#62339a"/><stop offset="0.3346" stop-color="#752e98"/><stop offset="0.3878" stop-color="#7e2a94"/><stop offset="1" stop-color="#7e2a94"/></linearGradient><linearGradient id="gb9" gradientUnits="userSpaceOnUse" x1="343.60" y1="0" x2="606.80" y2="0"><stop offset="0" stop-color="#7e2a94"/><stop offset="0.1407" stop-color="#792c96"/><stop offset="0.1673" stop-color="#6e3099"/><stop offset="0.2015" stop-color="#4d3b9d"/><stop offset="0.2395" stop-color="#484ba6"/><stop offset="0.2738" stop-color="#484da7"/><stop offset="0.3042" stop-color="#4d3b9d"/><stop offset="0.3346" stop-color="#752f99"/><stop offset="0.384" stop-color="#7e2a94"/><stop offset="1" stop-color="#7e2a94"/></linearGradient><linearGradient id="gb10" gradientUnits="userSpaceOnUse" x1="343.60" y1="0" x2="606.80" y2="0"><stop offset="0" stop-color="#7e2a94"/><stop offset="0.1407" stop-color="#792c96"/><stop offset="0.1635" stop-color="#713099"/><stop offset="0.2015" stop-color="#4c3c9d"/><stop offset="0.2395" stop-color="#484da7"/><stop offset="0.27" stop-color="#4850a8"/><stop offset="0.3004" stop-color="#4a3e9f"/><stop offset="0.3118" stop-color="#54389b"/><stop offset="0.3346" stop-color="#742f99"/><stop offset="0.384" stop-color="#7e2a94"/><stop offset="1" stop-color="#7e2a94"/></linearGradient><linearGradient id="gb11" gradientUnits="userSpaceOnUse" x1="343.60" y1="0" x2="606.80" y2="0"><stop offset="0" stop-color="#7e2a94"/><stop offset="0.1407" stop-color="#792c96"/><stop offset="0.1635" stop-color="#703099"/><stop offset="0.1977" stop-color="#4d3b9d"/><stop offset="0.2319" stop-color="#484ba6"/><stop offset="0.2662" stop-color="#4852aa"/><stop offset="0.3042" stop-color="#4c3c9e"/><stop offset="0.3232" stop-color="#65329a"/><stop offset="0.3384" stop-color="#762e98"/><stop offset="0.3954" stop-color="#7e2a94"/><stop offset="1" stop-color="#7e2a94"/></linearGradient><linearGradient id="gb12" gradientUnits="userSpaceOnUse" x1="343.60" y1="0" x2="606.80" y2="0"><stop offset="0" stop-color="#7e2a94"/><stop offset="0.1407" stop-color="#792d97"/><stop offset="0.1635" stop-color="#6f3099"/><stop offset="0.1977" stop-color="#4d3b9d"/><stop offset="0.2281" stop-color="#484aa6"/><stop offset="0.2662" stop-color="#4854ab"/><stop offset="0.3042" stop-color="#4b3d9e"/><stop offset="0.3232" stop-color="#64339a"/><stop offset="0.3384" stop-color="#762e98"/><stop offset="0.3916" stop-color="#7e2a94"/><stop offset="1" stop-color="#7e2a94"/></linearGradient><linearGradient id="gb13" gradientUnits="userSpaceOnUse" x1="343.60" y1="0" x2="606.80" y2="0"><stop offset="0" stop-color="#7e2a94"/><stop offset="0.1369" stop-color="#7a2c96"/><stop offset="0.1635" stop-color="#6e3099"/><stop offset="0.1977" stop-color="#4c3c9d"/><stop offset="0.2357" stop-color="#484fa8"/><stop offset="0.2662" stop-color="#4956ad"/><stop offset="0.3042" stop-color="#4a3e9e"/><stop offset="0.3194" stop-color="#5c359a"/><stop offset="0.3384" stop-color="#762e98"/><stop offset="0.3916" stop-color="#7e2a94"/><stop offset="1" stop-color="#7e2a94"/></linearGradient><linearGradient id="gb14" gradientUnits="userSpaceOnUse" x1="343.60" y1="0" x2="606.80" y2="0"><stop offset="0" stop-color="#7e2a94"/><stop offset="0.1369" stop-color="#792c96"/><stop offset="0.1597" stop-color="#713099"/><stop offset="0.1939" stop-color="#4d3b9d"/><stop offset="0.2243" stop-color="#484ba6"/><stop offset="0.2624" stop-color="#4958ae"/><stop offset="0.289" stop-color="#484aa5"/><stop offset="0.308" stop-color="#4c3c9d"/><stop offset="0.3384" stop-color="#752e98"/><stop offset="0.3916" stop-color="#7e2a94"/><stop offset="1" stop-color="#7e2a94"/></linearGradient><linearGradient id="gb15" gradientUnits="userSpaceOnUse" x1="343.60" y1="0" x2="606.80" y2="0"><stop offset="0" stop-color="#7e2a94"/><stop offset="0.1369" stop-color="#792c96"/><stop offset="0.1597" stop-color="#713099"/><stop offset="0.1939" stop-color="#4d3b9d"/><stop offset="0.2243" stop-color="#484ca6"/><stop offset="0.2586" stop-color="#4959af"/><stop offset="0.2814" stop-color="#4851aa"/><stop offset="0.308" stop-color="#4c3c9e"/><stop offset="0.3232" stop-color="#60339a"/><stop offset="0.3384" stop-color="#752e98"/><stop offset="0.3878" stop-color="#7e2a94"/><stop offset="1" stop-color="#7e2a94"/></linearGradient><linearGradient id="gb16" gradientUnits="userSpaceOnUse" x1="343.60" y1="0" x2="606.80" y2="0"><stop offset="0" stop-color="#7e2a94"/><stop offset="0.1369" stop-color="#792c96"/><stop offset="0.1597" stop-color="#703099"/><stop offset="0.1939" stop-color="#4c3c9d"/><stop offset="0.2281" stop-color="#484fa8"/><stop offset="0.2624" stop-color="#495bb0"/><stop offset="0.2852" stop-color="#484fa8"/><stop offset="0.308" stop-color="#4b3d9e"/><stop offset="0.327" stop-color="#66329a"/><stop offset="0.3422" stop-color="#772e98"/><stop offset="0.3992" stop-color="#7e2a94"/><stop offset="1" stop-color="#7e2a94"/></linearGradient><linearGradient id="gb17" gradientUnits="userSpaceOnUse" x1="343.60" y1="0" x2="606.80" y2="0"><stop offset="0" stop-color="#7e2a94"/><stop offset="0.1369" stop-color="#792c96"/><stop offset="0.1597" stop-color="#6f3099"/><stop offset="0.1939" stop-color="#4c3c9e"/><stop offset="0.2357" stop-color="#4955ac"/><stop offset="0.2662" stop-color="#495db2"/><stop offset="0.2966" stop-color="#4847a4"/><stop offset="0.3118" stop-color="#4d3b9d"/><stop offset="0.3384" stop-color="#752f99"/><stop offset="0.3878" stop-color="#7e2a94"/><stop offset="1" stop-color="#7e2a94"/></linearGradient><linearGradient id="gb18" gradientUnits="userSpaceOnUse" x1="343.60" y1="0" x2="606.80" y2="0"><stop offset="0" stop-color="#7e2a94"/><stop offset="0.1369" stop-color="#792d97"/><stop offset="0.1597" stop-color="#6e3099"/><stop offset="0.1901" stop-color="#4d3b9d"/><stop offset="0.2167" stop-color="#484ba6"/><stop offset="0.2548" stop-color="#495fb3"/><stop offset="0.2776" stop-color="#4959af"/><stop offset="0.308" stop-color="#4a3e9f"/><stop offset="0.3232" stop-color="#5d349a"/><stop offset="0.3384" stop-color="#742f99"/><stop offset="0.384" stop-color="#7e2a94"/><stop offset="1" stop-color="#7e2a94"/></linearGradient><linearGradient id="gb19" gradientUnits="userSpaceOnUse" x1="343.60" y1="0" x2="606.80" y2="0"><stop offset="0" stop-color="#7e2a94"/><stop offset="0.1369" stop-color="#792d97"/><stop offset="0.1597" stop-color="#6e3099"/><stop offset="0.1901" stop-color="#4c3c9d"/><stop offset="0.2205" stop-color="#484ea8"/><stop offset="0.2548" stop-color="#4a61b4"/><stop offset="0.2776" stop-color="#495bb0"/><stop offset="0.308" stop-color="#4a3e9f"/><stop offset="0.3194" stop-color="#56379b"/><stop offset="0.3384" stop-color="#742f99"/><stop offset="0.384" stop-color="#7e2a94"/><stop offset="1" stop-color="#7e2a94"/></linearGradient><linearGradient id="gb20" gradientUnits="userSpaceOnUse" x1="343.60" y1="0" x2="606.80" y2="0"><stop offset="0" stop-color="#7e2a94"/><stop offset="0.1331" stop-color="#7a2c96"/><stop offset="0.1559" stop-color="#713099"/><stop offset="0.1901" stop-color="#4c3c9d"/><stop offset="0.2243" stop-color="#4853ab"/><stop offset="0.2548" stop-color="#4a63b6"/><stop offset="0.2738" stop-color="#4960b4"/><stop offset="0.308" stop-color="#493f9f"/><stop offset="0.3194" stop-color="#55379b"/><stop offset="0.3384" stop-color="#732f99"/><stop offset="0.3802" stop-color="#7d2a94"/><stop offset="1" stop-color="#7e2a94"/></linearGradient><linearGradient id="gb21" gradientUnits="userSpaceOnUse" x1="343.60" y1="0" x2="606.80" y2="0"><stop offset="0" stop-color="#7e2a94"/><stop offset="0.1331" stop-color="#792c96"/><stop offset="0.1559" stop-color="#703099"/><stop offset="0.1901" stop-color="#4b3d9e"/><stop offset="0.2319" stop-color="#495ab0"/><stop offset="0.2624" stop-color="#4a66b8"/><stop offset="0.2814" stop-color="#495cb1"/><stop offset="0.3118" stop-color="#4b3d9e"/><stop offset="0.327" stop-color="#60339a"/><stop offset="0.3422" stop-color="#752e98"/><stop offset="0.3916" stop-color="#7e2a94"/><stop offset="1" stop-color="#7e2a94"/></linearGradient><linearGradient id="gb22" gradientUnits="userSpaceOnUse" x1="343.60" y1="0" x2="606.80" y2="0"><stop offset="0" stop-color="#7e2a94"/><stop offset="0.1331" stop-color="#792c96"/><stop offset="0.1559" stop-color="#6f3099"/><stop offset="0.1863" stop-color="#4d3b9d"/><stop offset="0.2129" stop-color="#484ca7"/><stop offset="0.251" stop-color="#4a67b8"/><stop offset="0.27" stop-color="#4a66b8"/><stop offset="0.3004" stop-color="#4849a5"/><stop offset="0.3156" stop-color="#4d3b9d"/><stop offset="0.3422" stop-color="#752e98"/><stop offset="0.3916" stop-color="#7e2a94"/><stop offset="1" stop-color="#7e2a94"/></linearGradient><linearGradient id="gb23" gradientUnits="userSpaceOnUse" x1="343.60" y1="0" x2="606.80" y2="0"><stop offset="0" stop-color="#7e2a94"/><stop offset="0.1331" stop-color="#792c96"/><stop offset="0.1559" stop-color="#6f3099"/><stop offset="0.1863" stop-color="#4c3c9d"/><stop offset="0.2167" stop-color="#4851a9"/><stop offset="0.251" stop-color="#4b6aba"/><stop offset="0.27" stop-color="#4b6aba"/><stop offset="0.3004" stop-color="#484aa5"/><stop offset="0.3156" stop-color="#4c3c9d"/><stop offset="0.3422" stop-color="#752f99"/><stop offset="0.3878" stop-color="#7e2a94"/><stop offset="1" stop-color="#7e2a94"/></linearGradient><linearGradient id="gb24" gradientUnits="userSpaceOnUse" x1="343.60" y1="0" x2="606.80" y2="0"><stop offset="0" stop-color="#7e2a94"/><stop offset="0.1331" stop-color="#792c96"/><stop offset="0.1559" stop-color="#6e3099"/><stop offset="0.1863" stop-color="#4c3c9d"/><stop offset="0.2129" stop-color="#484ea8"/><stop offset="0.251" stop-color="#4b6dbd"/><stop offset="0.27" stop-color="#4b6ebd"/><stop offset="0.2966" stop-color="#4850a9"/><stop offset="0.3156" stop-color="#4c3c9e"/><stop offset="0.3422" stop-color="#742f99"/><stop offset="0.3878" stop-color="#7e2a94"/><stop offset="1" stop-color="#7e2a94"/></linearGradient><linearGradient id="gb25" gradientUnits="userSpaceOnUse" x1="343.60" y1="0" x2="606.80" y2="0"><stop offset="0" stop-color="#7e2a94"/><stop offset="0.1331" stop-color="#792d97"/><stop offset="0.1521" stop-color="#713099"/><stop offset="0.1863" stop-color="#4b3d9e"/><stop offset="0.2205" stop-color="#4958ae"/><stop offset="0.251" stop-color="#4c71bf"/><stop offset="0.27" stop-color="#4c72c0"/><stop offset="0.2928" stop-color="#4959af"/><stop offset="0.3156" stop-color="#4b3d9e"/><stop offset="0.3308" stop-color="#61339a"/><stop offset="0.346" stop-color="#762e98"/><stop offset="0.3992" stop-color="#7e2a94"/><stop offset="1" stop-color="#7e2a94"/></linearGradient><linearGradient id="gb26" gradientUnits="userSpaceOnUse" x1="343.60" y1="0" x2="606.80" y2="0"><stop offset="0" stop-color="#7e2a94"/><stop offset="0.1331" stop-color="#792d97"/><stop offset="0.1521" stop-color="#713099"/><stop offset="0.1863" stop-color="#4b3d9e"/><stop offset="0.2205" stop-color="#4959af"/><stop offset="0.251" stop-color="#4c75c2"/><stop offset="0.27" stop-color="#4c76c3"/><stop offset="0.289" stop-color="#4a61b5"/><stop offset="0.3156" stop-color="#4a3e9f"/><stop offset="0.3308" stop-color="#5e349a"/><stop offset="0.346" stop-color="#752f99"/><stop offset="0.3954" stop-color="#7d2a94"/><stop offset="1" stop-color="#7e2a94"/></linearGradient><linearGradient id="gb27" gradientUnits="userSpaceOnUse" x1="343.60" y1="0" x2="606.80" y2="0"><stop offset="0" stop-color="#7e2a94"/><stop offset="0.1331" stop-color="#792d97"/><stop offset="0.1521" stop-color="#713099"/><stop offset="0.1825" stop-color="#4d3b9d"/><stop offset="0.2091" stop-color="#484da7"/><stop offset="0.2471" stop-color="#4c77c3"/><stop offset="0.2662" stop-color="#4d7dc7"/><stop offset="0.2814" stop-color="#4c72c0"/><stop offset="0.3118" stop-color="#4845a3"/><stop offset="0.3232" stop-color="#4d3b9c"/><stop offset="0.346" stop-color="#723099"/><stop offset="0.3802" stop-color="#7c2b95"/><stop offset="1" stop-color="#7e2a94"/></linearGradient><linearGradient id="gb28" gradientUnits="userSpaceOnUse" x1="343.60" y1="0" x2="606.80" y2="0"><stop offset="0" stop-color="#7e2a94"/><stop offset="0.1331" stop-color="#792d97"/><stop offset="0.1521" stop-color="#713099"/><stop offset="0.1825" stop-color="#4d3b9d"/><stop offset="0.2091" stop-color="#484ea7"/><stop offset="0.2471" stop-color="#4d7dc7"/><stop offset="0.2662" stop-color="#4e84cb"/><stop offset="0.2776" stop-color="#4d7ec8"/><stop offset="0.3156" stop-color="#4844a2"/><stop offset="0.3308" stop-color="#53389b"/><stop offset="0.3536" stop-color="#742f99"/><stop offset="0.4106" stop-color="#7c2b95"/><stop offset="0.6692" stop-color="#7d2b95"/><stop offset="1" stop-color="#7e2a94"/></linearGradient><linearGradient id="gb29" gradientUnits="userSpaceOnUse" x1="343.60" y1="0" x2="606.80" y2="0"><stop offset="0" stop-color="#7e2a94"/><stop offset="0.1331" stop-color="#792d97"/><stop offset="0.1521" stop-color="#713099"/><stop offset="0.1825" stop-color="#4d3b9d"/><stop offset="0.2091" stop-color="#484ea8"/><stop offset="0.2471" stop-color="#4e83cb"/><stop offset="0.27" stop-color="#4f8ace"/><stop offset="0.2852" stop-color="#4e7fc8"/><stop offset="0.3156" stop-color="#484aa5"/><stop offset="0.3346" stop-color="#4f399c"/><stop offset="0.3612" stop-color="#732f99"/><stop offset="0.4259" stop-color="#7b2b95"/><stop offset="0.5703" stop-color="#7a2c96"/><stop offset="0.635" stop-color="#792c96"/><stop offset="1" stop-color="#7e2a94"/></linearGradient><linearGradient id="gb30" gradientUnits="userSpaceOnUse" x1="343.60" y1="0" x2="606.80" y2="0"><stop offset="0" stop-color="#7e2a94"/><stop offset="0.1331" stop-color="#792d97"/><stop offset="0.1521" stop-color="#713099"/><stop offset="0.1825" stop-color="#4d3b9d"/><stop offset="0.2091" stop-color="#484fa8"/><stop offset="0.2243" stop-color="#4a66b8"/><stop offset="0.2433" stop-color="#4f87cc"/><stop offset="0.2662" stop-color="#5295ce"/><stop offset="0.2776" stop-color="#5191d0"/><stop offset="0.2928" stop-color="#4e80c9"/><stop offset="0.3194" stop-color="#484ea7"/><stop offset="0.3422" stop-color="#4e3a9c"/><stop offset="0.3726" stop-color="#703099"/><stop offset="0.4335" stop-color="#792c96"/><stop offset="0.5513" stop-color="#792c96"/><stop offset="0.6008" stop-color="#713099"/><stop offset="0.7529" stop-color="#7d2b95"/><stop offset="1" stop-color="#7d2a94"/></linearGradient><linearGradient id="gb31" gradientUnits="userSpaceOnUse" x1="343.60" y1="0" x2="606.80" y2="0"><stop offset="0" stop-color="#7e2a94"/><stop offset="0.1293" stop-color="#7a2c96"/><stop offset="0.1521" stop-color="#703099"/><stop offset="0.1825" stop-color="#4c3c9d"/><stop offset="0.2091" stop-color="#484fa8"/><stop offset="0.2243" stop-color="#4a69ba"/><stop offset="0.2395" stop-color="#4f88cd"/><stop offset="0.2548" stop-color="#549ccc"/><stop offset="0.2738" stop-color="#59a7c9"/><stop offset="0.289" stop-color="#5294cf"/><stop offset="0.3042" stop-color="#4d7bc5"/><stop offset="0.327" stop-color="#4851a9"/><stop offset="0.3536" stop-color="#4d3b9d"/><stop offset="0.3878" stop-color="#68329a"/><stop offset="0.4335" stop-color="#752e98"/><stop offset="0.5399" stop-color="#782d97"/><stop offset="0.5779" stop-color="#6b3199"/><stop offset="0.597" stop-color="#63339a"/><stop offset="0.6692" stop-color="#762e98"/><stop offset="0.8821" stop-color="#7c2b95"/><stop offset="1" stop-color="#7d2b95"/></linearGradient><linearGradient id="gb32" gradientUnits="userSpaceOnUse" x1="343.60" y1="0" x2="606.80" y2="0"><stop offset="0" stop-color="#7e2a94"/><stop offset="0.1293" stop-color="#7a2c96"/><stop offset="0.1521" stop-color="#703099"/><stop offset="0.1825" stop-color="#4c3c9d"/><stop offset="0.2053" stop-color="#484ca7"/><stop offset="0.2167" stop-color="#495bb0"/><stop offset="0.2357" stop-color="#4f89cd"/><stop offset="0.2433" stop-color="#5398cd"/><stop offset="0.2548" stop-color="#5babc7"/><stop offset="0.2738" stop-color="#65b5b5"/><stop offset="0.2852" stop-color="#5fafbf"/><stop offset="0.2966" stop-color="#559dcc"/><stop offset="0.308" stop-color="#4f88cd"/><stop offset="0.3346" stop-color="#4959af"/><stop offset="0.3612" stop-color="#4840a0"/><stop offset="0.4297" stop-color="#67329a"/><stop offset="0.4981" stop-color="#752e98"/><stop offset="0.5361" stop-color="#742f99"/><stop offset="0.597" stop-color="#53389b"/><stop offset="0.6958" stop-color="#752e98"/><stop offset="0.9392" stop-color="#7b2b95"/><stop offset="1" stop-color="#7b2b95"/></linearGradient><linearGradient id="gb33" gradientUnits="userSpaceOnUse" x1="343.60" y1="0" x2="606.80" y2="0"><stop offset="0" stop-color="#7e2a94"/><stop offset="0.1293" stop-color="#7a2c96"/><stop offset="0.1521" stop-color="#703099"/><stop offset="0.1825" stop-color="#4c3c9d"/><stop offset="0.2091" stop-color="#4850a9"/><stop offset="0.2167" stop-color="#495db1"/><stop offset="0.2319" stop-color="#4f88cd"/><stop offset="0.2357" stop-color="#508fd0"/><stop offset="0.2433" stop-color="#58a6c9"/><stop offset="0.2624" stop-color="#6dbda6"/><stop offset="0.2738" stop-color="#77c196"/><stop offset="0.2852" stop-color="#71bfa0"/><stop offset="0.3042" stop-color="#5babc6"/><stop offset="0.3156" stop-color="#5192cf"/><stop offset="0.3346" stop-color="#4c73c0"/><stop offset="0.365" stop-color="#484ca7"/><stop offset="0.4068" stop-color="#4c3c9d"/><stop offset="0.5209" stop-color="#6d3199"/><stop offset="0.5817" stop-color="#4c3c9d"/><stop offset="0.6236" stop-color="#4d3b9d"/><stop offset="0.7262" stop-color="#742f99"/><stop offset="1" stop-color="#7a2c96"/></linearGradient><linearGradient id="gb34" gradientUnits="userSpaceOnUse" x1="343.60" y1="0" x2="606.80" y2="0"><stop offset="0" stop-color="#7e2a94"/><stop offset="0.1293" stop-color="#7a2c96"/><stop offset="0.1521" stop-color="#703099"/><stop offset="0.1825" stop-color="#4c3c9d"/><stop offset="0.2091" stop-color="#4851a9"/><stop offset="0.2167" stop-color="#495eb3"/><stop offset="0.2281" stop-color="#4e85cb"/><stop offset="0.2357" stop-color="#549acd"/><stop offset="0.2395" stop-color="#59a8c9"/><stop offset="0.2548" stop-color="#72bf9d"/><stop offset="0.2662" stop-color="#84c87f"/><stop offset="0.2738" stop-color="#8dca6f"/><stop offset="0.2852" stop-color="#8ac975"/><stop offset="0.3004" stop-color="#78c294"/><stop offset="0.3232" stop-color="#59a7c9"/><stop offset="0.3346" stop-color="#5090d0"/><stop offset="0.3536" stop-color="#4c76c2"/><stop offset="0.3726" stop-color="#495db2"/><stop offset="0.4144" stop-color="#4846a3"/><stop offset="0.4943" stop-color="#54389b"/><stop offset="0.5247" stop-color="#59369b"/><stop offset="0.5589" stop-color="#4a3e9f"/><stop offset="0.597" stop-color="#4849a5"/><stop offset="0.6578" stop-color="#4d3b9d"/><stop offset="0.749" stop-color="#703099"/><stop offset="0.962" stop-color="#772d97"/><stop offset="1" stop-color="#782d97"/></linearGradient><linearGradient id="gb35" gradientUnits="userSpaceOnUse" x1="343.60" y1="0" x2="606.80" y2="0"><stop offset="0" stop-color="#7e2a94"/><stop offset="0.1293" stop-color="#7a2c96"/><stop offset="0.1521" stop-color="#703099"/><stop offset="0.1825" stop-color="#4c3c9d"/><stop offset="0.2091" stop-color="#4851a9"/><stop offset="0.2129" stop-color="#4955ac"/><stop offset="0.2205" stop-color="#4b6bbb"/><stop offset="0.2281" stop-color="#4f8acd"/><stop offset="0.2357" stop-color="#58a4ca"/><stop offset="0.2433" stop-color="#69b9ae"/><stop offset="0.2586" stop-color="#8bca73"/><stop offset="0.27" stop-color="#9dcd55"/><stop offset="0.2776" stop-color="#a4ce4d"/><stop offset="0.2928" stop-color="#9ecd54"/><stop offset="0.3042" stop-color="#91cb67"/><stop offset="0.327" stop-color="#6fbda4"/><stop offset="0.346" stop-color="#59a7c9"/><stop offset="0.3612" stop-color="#4f8cce"/><stop offset="0.403" stop-color="#4a61b4"/><stop offset="0.4563" stop-color="#4848a4"/><stop offset="0.5285" stop-color="#493f9f"/><stop offset="0.597" stop-color="#4958ae"/><stop offset="0.6844" stop-color="#4b3d9e"/><stop offset="0.7757" stop-color="#67329a"/><stop offset="0.962" stop-color="#742f99"/><stop offset="1" stop-color="#742f99"/></linearGradient><linearGradient id="gb36" gradientUnits="userSpaceOnUse" x1="343.60" y1="0" x2="606.80" y2="0"><stop offset="0" stop-color="#7e2a94"/><stop offset="0.1293" stop-color="#7a2c96"/><stop offset="0.1521" stop-color="#703099"/><stop offset="0.1825" stop-color="#4c3c9d"/><stop offset="0.2091" stop-color="#4851a9"/><stop offset="0.2129" stop-color="#4955ac"/><stop offset="0.2205" stop-color="#4b6ebd"/><stop offset="0.2281" stop-color="#508fcf"/><stop offset="0.2357" stop-color="#5dadc3"/><stop offset="0.2433" stop-color="#74c09b"/><stop offset="0.2586" stop-color="#9bcd57"/><stop offset="0.2738" stop-color="#bccb38"/><stop offset="0.2928" stop-color="#bdcb38"/><stop offset="0.3156" stop-color="#a4ce4d"/><stop offset="0.3308" stop-color="#8fca6b"/><stop offset="0.3574" stop-color="#68b8b0"/><stop offset="0.3688" stop-color="#5aaac8"/><stop offset="0.3916" stop-color="#4f8cce"/><stop offset="0.4487" stop-color="#495fb3"/><stop offset="0.5209" stop-color="#4849a5"/><stop offset="0.597" stop-color="#4b6cbc"/><stop offset="0.7034" stop-color="#493f9f"/><stop offset="0.8251" stop-color="#60349a"/><stop offset="1" stop-color="#6c3199"/></linearGradient><linearGradient id="gb37" gradientUnits="userSpaceOnUse" x1="343.60" y1="0" x2="606.80" y2="0"><stop offset="0" stop-color="#7e2a94"/><stop offset="0.1293" stop-color="#7a2c96"/><stop offset="0.1521" stop-color="#713099"/><stop offset="0.1825" stop-color="#4c3c9d"/><stop offset="0.2091" stop-color="#4851a9"/><stop offset="0.2129" stop-color="#4955ac"/><stop offset="0.2205" stop-color="#4b70be"/><stop offset="0.2243" stop-color="#4e83ca"/><stop offset="0.2281" stop-color="#5295cf"/><stop offset="0.2319" stop-color="#59a6c9"/><stop offset="0.2395" stop-color="#70bea2"/><stop offset="0.2433" stop-color="#7fc688"/><stop offset="0.251" stop-color="#94cc61"/><stop offset="0.2586" stop-color="#acce45"/><stop offset="0.27" stop-color="#c8c733"/><stop offset="0.2776" stop-color="#d3c22e"/><stop offset="0.2966" stop-color="#d4c12e"/><stop offset="0.3194" stop-color="#c5c834"/><stop offset="0.3346" stop-color="#b2cd40"/><stop offset="0.3536" stop-color="#96cc5f"/><stop offset="0.3726" stop-color="#78c294"/><stop offset="0.3992" stop-color="#5dadc3"/><stop offset="0.4221" stop-color="#5191d0"/><stop offset="0.4791" stop-color="#4b6dbc"/><stop offset="0.5209" stop-color="#495db1"/><stop offset="0.597" stop-color="#4e84cb"/><stop offset="0.6388" stop-color="#4b6ebd"/><stop offset="0.7034" stop-color="#4849a5"/><stop offset="0.7757" stop-color="#4d3b9d"/><stop offset="0.9468" stop-color="#5e349a"/><stop offset="1" stop-color="#61339a"/></linearGradient><linearGradient id="gb38" gradientUnits="userSpaceOnUse" x1="343.60" y1="0" x2="606.80" y2="0"><stop offset="0" stop-color="#7e2a94"/><stop offset="0.1293" stop-color="#7a2c96"/><stop offset="0.1521" stop-color="#713099"/><stop offset="0.1825" stop-color="#4c3c9d"/><stop offset="0.2091" stop-color="#4851a9"/><stop offset="0.2129" stop-color="#4955ac"/><stop offset="0.2205" stop-color="#4c72c0"/><stop offset="0.2243" stop-color="#4f86cc"/><stop offset="0.2281" stop-color="#549bcd"/><stop offset="0.2319" stop-color="#5cacc4"/><stop offset="0.2357" stop-color="#68b8af"/><stop offset="0.2433" stop-color="#89c976"/><stop offset="0.251" stop-color="#a0ce51"/><stop offset="0.2586" stop-color="#bdcb38"/><stop offset="0.2738" stop-color="#dfb829"/><stop offset="0.2928" stop-color="#e8ad28"/><stop offset="0.3232" stop-color="#dfb92a"/><stop offset="0.3536" stop-color="#c0ca36"/><stop offset="0.3764" stop-color="#9ccd57"/><stop offset="0.3878" stop-color="#8dca6f"/><stop offset="0.4144" stop-color="#6bbba9"/><stop offset="0.4373" stop-color="#5aa9c8"/><stop offset="0.4677" stop-color="#508fcf"/><stop offset="0.5209" stop-color="#4c77c3"/><stop offset="0.5817" stop-color="#5192cf"/><stop offset="0.597" stop-color="#5398ce"/><stop offset="0.6312" stop-color="#4f89cd"/><stop offset="0.7072" stop-color="#4853ab"/><stop offset="0.7833" stop-color="#4840a0"/><stop offset="1" stop-color="#58369b"/></linearGradient><linearGradient id="gb39" gradientUnits="userSpaceOnUse" x1="343.60" y1="0" x2="606.80" y2="0"><stop offset="0" stop-color="#7e2a94"/><stop offset="0.1331" stop-color="#792c96"/><stop offset="0.1521" stop-color="#713099"/><stop offset="0.1825" stop-color="#4c3c9d"/><stop offset="0.2091" stop-color="#4851a9"/><stop offset="0.2129" stop-color="#4955ac"/><stop offset="0.2205" stop-color="#4c74c1"/><stop offset="0.2243" stop-color="#4f88cd"/><stop offset="0.2281" stop-color="#56a0cb"/><stop offset="0.2319" stop-color="#60b0bd"/><stop offset="0.2357" stop-color="#6dbda6"/><stop offset="0.2433" stop-color="#92cb66"/><stop offset="0.251" stop-color="#abce45"/><stop offset="0.2548" stop-color="#bbcb39"/><stop offset="0.2662" stop-color="#dbbd2b"/><stop offset="0.2738" stop-color="#eaa628"/><stop offset="0.289" stop-color="#ed8d28"/><stop offset="0.308" stop-color="#ed8728"/><stop offset="0.3232" stop-color="#ec9128"/><stop offset="0.3498" stop-color="#e2b529"/><stop offset="0.3764" stop-color="#c4c835"/><stop offset="0.3878" stop-color="#b4cd3f"/><stop offset="0.4106" stop-color="#93cb63"/><stop offset="0.4449" stop-color="#6bbba9"/><stop offset="0.4791" stop-color="#5aaac8"/><stop offset="0.5209" stop-color="#5090d0"/><stop offset="0.5856" stop-color="#5dadc3"/><stop offset="0.597" stop-color="#5eaec0"/><stop offset="0.6312" stop-color="#569ecc"/><stop offset="0.654" stop-color="#4f8ace"/><stop offset="0.7148" stop-color="#495cb1"/><stop offset="0.7833" stop-color="#4847a4"/><stop offset="0.943" stop-color="#4c3c9d"/><stop offset="1" stop-color="#4e3a9c"/></linearGradient><linearGradient id="gb40" gradientUnits="userSpaceOnUse" x1="343.60" y1="0" x2="606.80" y2="0"><stop offset="0" stop-color="#7e2a94"/><stop offset="0.1331" stop-color="#792c96"/><stop offset="0.1521" stop-color="#713099"/><stop offset="0.1825" stop-color="#4c3c9d"/><stop offset="0.2091" stop-color="#4851a9"/><stop offset="0.2129" stop-color="#4955ac"/><stop offset="0.2205" stop-color="#4c76c2"/><stop offset="0.2243" stop-color="#4f8acd"/><stop offset="0.2281" stop-color="#58a4ca"/><stop offset="0.2319" stop-color="#63b3b8"/><stop offset="0.2357" stop-color="#72bf9e"/><stop offset="0.2433" stop-color="#98cc5c"/><stop offset="0.251" stop-color="#b4cd3e"/><stop offset="0.2586" stop-color="#d1c32f"/><stop offset="0.2662" stop-color="#e3b429"/><stop offset="0.27" stop-color="#eaa628"/><stop offset="0.2738" stop-color="#ec9228"/><stop offset="0.2928" stop-color="#ec6928"/><stop offset="0.3118" stop-color="#eb5e28"/><stop offset="0.3232" stop-color="#ec6228"/><stop offset="0.3536" stop-color="#ec9228"/><stop offset="0.3688" stop-color="#e6b128"/><stop offset="0.3992" stop-color="#c4c835"/><stop offset="0.4183" stop-color="#a8cf48"/><stop offset="0.4373" stop-color="#91cb68"/><stop offset="0.4563" stop-color="#7fc589"/><stop offset="0.4943" stop-color="#67b7b1"/><stop offset="0.5209" stop-color="#5cacc4"/><stop offset="0.597" stop-color="#6cbca8"/><stop offset="0.6312" stop-color="#60b0bc"/><stop offset="0.6464" stop-color="#58a4ca"/><stop offset="0.6692" stop-color="#508dcf"/><stop offset="0.7224" stop-color="#4a64b7"/><stop offset="0.7985" stop-color="#484ca6"/><stop offset="0.962" stop-color="#4a3e9f"/><stop offset="1" stop-color="#4b3d9e"/></linearGradient><linearGradient id="gb41" gradientUnits="userSpaceOnUse" x1="343.60" y1="0" x2="606.80" y2="0"><stop offset="0" stop-color="#7e2a94"/><stop offset="0.1331" stop-color="#792c96"/><stop offset="0.1521" stop-color="#713099"/><stop offset="0.1825" stop-color="#4c3c9d"/><stop offset="0.2091" stop-color="#4851a9"/><stop offset="0.2129" stop-color="#4955ac"/><stop offset="0.2205" stop-color="#4c77c3"/><stop offset="0.2243" stop-color="#4f8bce"/><stop offset="0.2281" stop-color="#59a7c9"/><stop offset="0.2319" stop-color="#65b5b5"/><stop offset="0.2357" stop-color="#75c199"/><stop offset="0.2433" stop-color="#9ccd57"/><stop offset="0.251" stop-color="#bacb3a"/><stop offset="0.2624" stop-color="#dfb92a"/><stop offset="0.2662" stop-color="#e8ae28"/><stop offset="0.2738" stop-color="#ee8428"/><stop offset="0.289" stop-color="#eb5928"/><stop offset="0.308" stop-color="#e7412a"/><stop offset="0.3232" stop-color="#e7402a"/><stop offset="0.3498" stop-color="#ec6328"/><stop offset="0.3802" stop-color="#eaa328"/><stop offset="0.3954" stop-color="#ddbb2a"/><stop offset="0.4259" stop-color="#b8cc3b"/><stop offset="0.4525" stop-color="#98cc5b"/><stop offset="0.5133" stop-color="#6ebda4"/><stop offset="0.5247" stop-color="#6cbca8"/><stop offset="0.5665" stop-color="#74c09b"/><stop offset="0.597" stop-color="#7ac390"/><stop offset="0.6312" stop-color="#6bbba9"/><stop offset="0.6578" stop-color="#5aa9c8"/><stop offset="0.6844" stop-color="#4f8cce"/><stop offset="0.7338" stop-color="#4a69ba"/><stop offset="0.8061" stop-color="#4851a9"/><stop offset="0.9582" stop-color="#4842a1"/><stop offset="1" stop-color="#493fa0"/></linearGradient><linearGradient id="gb42" gradientUnits="userSpaceOnUse" x1="343.60" y1="0" x2="606.80" y2="0"><stop offset="0" stop-color="#7e2a94"/><stop offset="0.1331" stop-color="#792c96"/><stop offset="0.1521" stop-color="#723099"/><stop offset="0.1825" stop-color="#4c3c9d"/><stop offset="0.2053" stop-color="#484da7"/><stop offset="0.2129" stop-color="#4855ac"/><stop offset="0.2205" stop-color="#4c77c3"/><stop offset="0.2243" stop-color="#4f8bce"/><stop offset="0.2281" stop-color="#59a8c9"/><stop offset="0.2319" stop-color="#66b6b3"/><stop offset="0.2357" stop-color="#76c197"/><stop offset="0.2433" stop-color="#9dcd55"/><stop offset="0.251" stop-color="#bccb38"/><stop offset="0.2624" stop-color="#e0b729"/><stop offset="0.2662" stop-color="#e9ab28"/><stop offset="0.2738" stop-color="#ee7e28"/><stop offset="0.289" stop-color="#ea5129"/><stop offset="0.308" stop-color="#e6382b"/><stop offset="0.3232" stop-color="#e6352c"/><stop offset="0.3384" stop-color="#e73f2b"/><stop offset="0.3536" stop-color="#ea5329"/><stop offset="0.384" stop-color="#ec9328"/><stop offset="0.3954" stop-color="#e8ae28"/><stop offset="0.4144" stop-color="#d4c12e"/><stop offset="0.4411" stop-color="#b3cd3f"/><stop offset="0.4829" stop-color="#91cb68"/><stop offset="0.5171" stop-color="#7ac390"/><stop offset="0.5589" stop-color="#7dc58c"/><stop offset="0.597" stop-color="#84c87f"/><stop offset="0.6312" stop-color="#75c199"/><stop offset="0.6654" stop-color="#5babc6"/><stop offset="0.692" stop-color="#508dcf"/><stop offset="0.7529" stop-color="#4a67b9"/><stop offset="0.8251" stop-color="#4852aa"/><stop offset="1" stop-color="#4842a1"/></linearGradient><linearGradient id="gb43" gradientUnits="userSpaceOnUse" x1="343.60" y1="0" x2="606.80" y2="0"><stop offset="0" stop-color="#7e2a94"/><stop offset="0.1331" stop-color="#792c96"/><stop offset="0.1521" stop-color="#723099"/><stop offset="0.1825" stop-color="#4c3c9d"/><stop offset="0.2053" stop-color="#484da7"/><stop offset="0.2129" stop-color="#4855ac"/><stop offset="0.2205" stop-color="#4c77c3"/><stop offset="0.2243" stop-color="#4f8bce"/><stop offset="0.2281" stop-color="#59a7c9"/><stop offset="0.2319" stop-color="#65b5b4"/><stop offset="0.2357" stop-color="#75c199"/><stop offset="0.2433" stop-color="#9ccd56"/><stop offset="0.251" stop-color="#bacb3a"/><stop offset="0.2624" stop-color="#dfb92a"/><stop offset="0.2662" stop-color="#e8ae28"/><stop offset="0.2738" stop-color="#ee8328"/><stop offset="0.289" stop-color="#eb5728"/><stop offset="0.308" stop-color="#e73e2b"/><stop offset="0.3232" stop-color="#e63a2b"/><stop offset="0.3498" stop-color="#e94f29"/><stop offset="0.3878" stop-color="#ec9728"/><stop offset="0.403" stop-color="#e3b429"/><stop offset="0.4259" stop-color="#cbc532"/><stop offset="0.4639" stop-color="#a4ce4d"/><stop offset="0.4981" stop-color="#8cca70"/><stop offset="0.5209" stop-color="#80c687"/><stop offset="0.5589" stop-color="#82c783"/><stop offset="0.597" stop-color="#88c978"/><stop offset="0.6312" stop-color="#79c392"/><stop offset="0.6578" stop-color="#63b3b7"/><stop offset="0.673" stop-color="#59a7c9"/><stop offset="0.6958" stop-color="#508dcf"/><stop offset="0.7681" stop-color="#4a63b6"/><stop offset="0.8669" stop-color="#484da7"/><stop offset="1" stop-color="#4843a1"/></linearGradient><linearGradient id="gb44" gradientUnits="userSpaceOnUse" x1="343.60" y1="0" x2="606.80" y2="0"><stop offset="0" stop-color="#7e2a94"/><stop offset="0.1331" stop-color="#792c96"/><stop offset="0.1521" stop-color="#723099"/><stop offset="0.1825" stop-color="#4c3c9d"/><stop offset="0.2091" stop-color="#4851aa"/><stop offset="0.2129" stop-color="#4955ac"/><stop offset="0.2205" stop-color="#4c76c3"/><stop offset="0.2243" stop-color="#4f8ace"/><stop offset="0.2281" stop-color="#58a5c9"/><stop offset="0.2319" stop-color="#64b4b7"/><stop offset="0.2357" stop-color="#73c09c"/><stop offset="0.2433" stop-color="#99cc5a"/><stop offset="0.251" stop-color="#b5cc3d"/><stop offset="0.2586" stop-color="#d1c32f"/><stop offset="0.2662" stop-color="#e3b329"/><stop offset="0.27" stop-color="#eaa528"/><stop offset="0.2738" stop-color="#ed9028"/><stop offset="0.2928" stop-color="#ec6528"/><stop offset="0.3118" stop-color="#ea5628"/><stop offset="0.3346" stop-color="#eb5c28"/><stop offset="0.3536" stop-color="#ed6e28"/><stop offset="0.3878" stop-color="#eaa528"/><stop offset="0.4068" stop-color="#dabe2b"/><stop offset="0.4411" stop-color="#b4cd3e"/><stop offset="0.4867" stop-color="#91cb68"/><stop offset="0.5171" stop-color="#7dc58b"/><stop offset="0.5589" stop-color="#80c687"/><stop offset="0.597" stop-color="#87c97b"/><stop offset="0.6312" stop-color="#78c295"/><stop offset="0.6578" stop-color="#62b2b9"/><stop offset="0.673" stop-color="#58a5c9"/><stop offset="0.6958" stop-color="#4f8cce"/><stop offset="0.7643" stop-color="#4a64b7"/><stop offset="0.8593" stop-color="#484da7"/><stop offset="1" stop-color="#4842a1"/></linearGradient><linearGradient id="gb45" gradientUnits="userSpaceOnUse" x1="343.60" y1="0" x2="606.80" y2="0"><stop offset="0" stop-color="#7e2a94"/><stop offset="0.1331" stop-color="#792c96"/><stop offset="0.1521" stop-color="#723099"/><stop offset="0.1825" stop-color="#4c3c9d"/><stop offset="0.2091" stop-color="#4852aa"/><stop offset="0.2129" stop-color="#4956ad"/><stop offset="0.2205" stop-color="#4c76c2"/><stop offset="0.2243" stop-color="#4f89cd"/><stop offset="0.2281" stop-color="#57a2ca"/><stop offset="0.2319" stop-color="#61b1bb"/><stop offset="0.2357" stop-color="#6fbea3"/><stop offset="0.2433" stop-color="#93cb63"/><stop offset="0.2548" stop-color="#bccb38"/><stop offset="0.2662" stop-color="#dcbc2a"/><stop offset="0.2738" stop-color="#eaa428"/><stop offset="0.2928" stop-color="#ee8428"/><stop offset="0.3118" stop-color="#ee7f28"/><stop offset="0.3498" stop-color="#ec9328"/><stop offset="0.3764" stop-color="#e6b128"/><stop offset="0.4144" stop-color="#c3c835"/><stop offset="0.4411" stop-color="#a5ce4c"/><stop offset="0.4715" stop-color="#8fca6c"/><stop offset="0.5171" stop-color="#72bf9f"/><stop offset="0.5589" stop-color="#77c196"/><stop offset="0.597" stop-color="#7fc688"/><stop offset="0.6312" stop-color="#70bea1"/><stop offset="0.6654" stop-color="#59a7c9"/><stop offset="0.6882" stop-color="#508dcf"/><stop offset="0.7376" stop-color="#4b6bbb"/><stop offset="0.8061" stop-color="#4853ab"/><stop offset="0.9354" stop-color="#4844a2"/><stop offset="1" stop-color="#4840a0"/></linearGradient><linearGradient id="gb46" gradientUnits="userSpaceOnUse" x1="343.60" y1="0" x2="606.80" y2="0"><stop offset="0" stop-color="#7e2a94"/><stop offset="0.1331" stop-color="#792c96"/><stop offset="0.1521" stop-color="#713099"/><stop offset="0.1825" stop-color="#4c3c9e"/><stop offset="0.2129" stop-color="#4957ad"/><stop offset="0.2205" stop-color="#4c75c2"/><stop offset="0.2243" stop-color="#4f88cc"/><stop offset="0.2281" stop-color="#559ecc"/><stop offset="0.2319" stop-color="#5eaec0"/><stop offset="0.2357" stop-color="#6abaab"/><stop offset="0.2433" stop-color="#8cca71"/><stop offset="0.251" stop-color="#a3ce4e"/><stop offset="0.2586" stop-color="#beca37"/><stop offset="0.2738" stop-color="#e1b629"/><stop offset="0.2928" stop-color="#e9a728"/><stop offset="0.3156" stop-color="#e8ad28"/><stop offset="0.3612" stop-color="#d7bf2c"/><stop offset="0.3916" stop-color="#c2c935"/><stop offset="0.4221" stop-color="#a0ce52"/><stop offset="0.4563" stop-color="#85c87f"/><stop offset="0.5057" stop-color="#67b7b1"/><stop offset="0.5209" stop-color="#62b2ba"/><stop offset="0.5779" stop-color="#6ebda4"/><stop offset="0.597" stop-color="#72bf9d"/><stop offset="0.6312" stop-color="#66b6b3"/><stop offset="0.6502" stop-color="#59a8c8"/><stop offset="0.6768" stop-color="#508dcf"/><stop offset="0.7262" stop-color="#4a67b9"/><stop offset="0.8023" stop-color="#484ea8"/><stop offset="0.9696" stop-color="#493f9f"/><stop offset="1" stop-color="#4a3e9f"/></linearGradient><linearGradient id="gb47" gradientUnits="userSpaceOnUse" x1="343.60" y1="0" x2="606.80" y2="0"><stop offset="0" stop-color="#7e2a94"/><stop offset="0.1331" stop-color="#7a2c96"/><stop offset="0.1521" stop-color="#713099"/><stop offset="0.1825" stop-color="#4b3d9e"/><stop offset="0.2129" stop-color="#4957ae"/><stop offset="0.2205" stop-color="#4c73c1"/><stop offset="0.2243" stop-color="#4f86cc"/><stop offset="0.2281" stop-color="#5399cd"/><stop offset="0.2319" stop-color="#5aaac7"/><stop offset="0.2395" stop-color="#73bf9c"/><stop offset="0.2433" stop-color="#83c782"/><stop offset="0.251" stop-color="#97cc5d"/><stop offset="0.2586" stop-color="#aece43"/><stop offset="0.2738" stop-color="#d2c22f"/><stop offset="0.2928" stop-color="#d8be2c"/><stop offset="0.3536" stop-color="#bccb38"/><stop offset="0.3878" stop-color="#a2ce50"/><stop offset="0.4144" stop-color="#88c978"/><stop offset="0.4487" stop-color="#6dbca7"/><stop offset="0.4981" stop-color="#59a7c9"/><stop offset="0.5209" stop-color="#549acd"/><stop offset="0.5665" stop-color="#5dadc3"/><stop offset="0.597" stop-color="#64b4b6"/><stop offset="0.6312" stop-color="#59a9c8"/><stop offset="0.6616" stop-color="#4f8cce"/><stop offset="0.7186" stop-color="#495fb3"/><stop offset="0.7909" stop-color="#4849a5"/><stop offset="0.9468" stop-color="#4b3d9e"/><stop offset="1" stop-color="#4d3b9d"/></linearGradient><linearGradient id="gb48" gradientUnits="userSpaceOnUse" x1="343.60" y1="0" x2="606.80" y2="0"><stop offset="0" stop-color="#7e2a94"/><stop offset="0.1331" stop-color="#7a2c96"/><stop offset="0.1521" stop-color="#713099"/><stop offset="0.1825" stop-color="#4b3d9e"/><stop offset="0.2129" stop-color="#4958ae"/><stop offset="0.2205" stop-color="#4c72c0"/><stop offset="0.2243" stop-color="#4e83cb"/><stop offset="0.2281" stop-color="#5193cf"/><stop offset="0.2319" stop-color="#57a3ca"/><stop offset="0.2357" stop-color="#60b0be"/><stop offset="0.2433" stop-color="#77c295"/><stop offset="0.2586" stop-color="#9ecd55"/><stop offset="0.2738" stop-color="#beca37"/><stop offset="0.2928" stop-color="#c0c936"/><stop offset="0.3156" stop-color="#acce45"/><stop offset="0.3536" stop-color="#92cb66"/><stop offset="0.3726" stop-color="#83c881"/><stop offset="0.3878" stop-color="#7bc38f"/><stop offset="0.4106" stop-color="#68b8af"/><stop offset="0.4411" stop-color="#59a8c9"/><stop offset="0.4867" stop-color="#508dcf"/><stop offset="0.5209" stop-color="#4e81c9"/><stop offset="0.5703" stop-color="#5296ce"/><stop offset="0.597" stop-color="#57a3ca"/><stop offset="0.6388" stop-color="#4f8bce"/><stop offset="0.6844" stop-color="#4a67b9"/><stop offset="0.73" stop-color="#484fa8"/><stop offset="0.8251" stop-color="#493f9f"/><stop offset="1" stop-color="#54389b"/></linearGradient><linearGradient id="gb49" gradientUnits="userSpaceOnUse" x1="343.60" y1="0" x2="606.80" y2="0"><stop offset="0" stop-color="#7e2a94"/><stop offset="0.1331" stop-color="#7a2c96"/><stop offset="0.1521" stop-color="#713099"/><stop offset="0.1825" stop-color="#4b3d9e"/><stop offset="0.2129" stop-color="#4959af"/><stop offset="0.2243" stop-color="#4e80c9"/><stop offset="0.2281" stop-color="#508ecf"/><stop offset="0.2357" stop-color="#5aaac8"/><stop offset="0.2433" stop-color="#6cbca8"/><stop offset="0.2586" stop-color="#8dca6f"/><stop offset="0.2738" stop-color="#a4ce4d"/><stop offset="0.289" stop-color="#a4ce4d"/><stop offset="0.308" stop-color="#92cb65"/><stop offset="0.3232" stop-color="#7fc688"/><stop offset="0.3726" stop-color="#5fafc0"/><stop offset="0.3916" stop-color="#58a5c9"/><stop offset="0.4259" stop-color="#4f8cce"/><stop offset="0.5209" stop-color="#4a64b7"/><stop offset="0.5932" stop-color="#4f8bce"/><stop offset="0.6312" stop-color="#4d7ec8"/><stop offset="0.6996" stop-color="#484fa8"/><stop offset="0.7719" stop-color="#4a3e9f"/><stop offset="1" stop-color="#5d349a"/></linearGradient><linearGradient id="gb50" gradientUnits="userSpaceOnUse" x1="343.60" y1="0" x2="606.80" y2="0"><stop offset="0" stop-color="#7e2a94"/><stop offset="0.1331" stop-color="#7a2c96"/><stop offset="0.1521" stop-color="#713099"/><stop offset="0.1787" stop-color="#4d3b9d"/><stop offset="0.2015" stop-color="#484da7"/><stop offset="0.2129" stop-color="#4959af"/><stop offset="0.2243" stop-color="#4d7dc7"/><stop offset="0.2319" stop-color="#5193cf"/><stop offset="0.2395" stop-color="#5cacc4"/><stop offset="0.2586" stop-color="#7cc48e"/><stop offset="0.2738" stop-color="#8dca6f"/><stop offset="0.2852" stop-color="#8bca73"/><stop offset="0.3042" stop-color="#76c197"/><stop offset="0.3232" stop-color="#5fafbf"/><stop offset="0.3384" stop-color="#57a3ca"/><stop offset="0.3612" stop-color="#508dcf"/><stop offset="0.4106" stop-color="#4c74c1"/><stop offset="0.4791" stop-color="#495ab0"/><stop offset="0.5247" stop-color="#4850a9"/><stop offset="0.597" stop-color="#4c76c2"/><stop offset="0.6996" stop-color="#4844a2"/><stop offset="0.7947" stop-color="#57379b"/><stop offset="1" stop-color="#68329a"/></linearGradient><linearGradient id="gb51" gradientUnits="userSpaceOnUse" x1="343.60" y1="0" x2="606.80" y2="0"><stop offset="0" stop-color="#7e2a94"/><stop offset="0.1331" stop-color="#7a2c96"/><stop offset="0.1521" stop-color="#713099"/><stop offset="0.1787" stop-color="#4d3b9d"/><stop offset="0.2015" stop-color="#484da7"/><stop offset="0.2129" stop-color="#495ab0"/><stop offset="0.2243" stop-color="#4d79c4"/><stop offset="0.2319" stop-color="#508dcf"/><stop offset="0.2433" stop-color="#5cacc5"/><stop offset="0.2624" stop-color="#6ebda4"/><stop offset="0.2738" stop-color="#77c196"/><stop offset="0.2852" stop-color="#71bf9f"/><stop offset="0.308" stop-color="#59a8c9"/><stop offset="0.3232" stop-color="#4f8cce"/><stop offset="0.3726" stop-color="#4a64b7"/><stop offset="0.4563" stop-color="#484ba6"/><stop offset="0.5247" stop-color="#4841a1"/><stop offset="0.597" stop-color="#4960b4"/><stop offset="0.6958" stop-color="#4b3d9e"/><stop offset="0.7909" stop-color="#63339a"/><stop offset="0.9924" stop-color="#713099"/><stop offset="1" stop-color="#713099"/></linearGradient><linearGradient id="gb52" gradientUnits="userSpaceOnUse" x1="343.60" y1="0" x2="606.80" y2="0"><stop offset="0" stop-color="#7e2a94"/><stop offset="0.1331" stop-color="#7a2c96"/><stop offset="0.1521" stop-color="#713099"/><stop offset="0.1787" stop-color="#4d3b9d"/><stop offset="0.1977" stop-color="#484aa5"/><stop offset="0.2167" stop-color="#4a62b6"/><stop offset="0.2281" stop-color="#4e82ca"/><stop offset="0.2395" stop-color="#5398ce"/><stop offset="0.251" stop-color="#5aaac7"/><stop offset="0.2662" stop-color="#63b3b9"/><stop offset="0.2776" stop-color="#63b3b8"/><stop offset="0.2928" stop-color="#58a5c9"/><stop offset="0.3042" stop-color="#508fd0"/><stop offset="0.3308" stop-color="#4a69ba"/><stop offset="0.3726" stop-color="#484ca6"/><stop offset="0.4829" stop-color="#4d3b9d"/><stop offset="0.5247" stop-color="#52389b"/><stop offset="0.5665" stop-color="#4844a2"/><stop offset="0.597" stop-color="#484ea8"/><stop offset="0.6692" stop-color="#4c3c9d"/><stop offset="0.7605" stop-color="#6c3199"/><stop offset="0.9125" stop-color="#752e98"/><stop offset="1" stop-color="#762e98"/></linearGradient><linearGradient id="gb53" gradientUnits="userSpaceOnUse" x1="343.60" y1="0" x2="606.80" y2="0"><stop offset="0" stop-color="#7e2a94"/><stop offset="0.1331" stop-color="#7a2c96"/><stop offset="0.1521" stop-color="#713099"/><stop offset="0.1787" stop-color="#4d3b9d"/><stop offset="0.1977" stop-color="#484aa6"/><stop offset="0.2167" stop-color="#4a62b5"/><stop offset="0.2319" stop-color="#4e84cb"/><stop offset="0.2433" stop-color="#5294cf"/><stop offset="0.2624" stop-color="#57a3ca"/><stop offset="0.2776" stop-color="#57a1cb"/><stop offset="0.2928" stop-color="#4f8cce"/><stop offset="0.308" stop-color="#4c74c1"/><stop offset="0.3232" stop-color="#495ab0"/><stop offset="0.3612" stop-color="#4841a1"/><stop offset="0.5133" stop-color="#66329a"/><stop offset="0.5247" stop-color="#66329a"/><stop offset="0.5703" stop-color="#4c3c9d"/><stop offset="0.6008" stop-color="#4842a1"/><stop offset="0.654" stop-color="#52399c"/><stop offset="0.7338" stop-color="#722f99"/><stop offset="1" stop-color="#792c96"/></linearGradient><linearGradient id="gb54" gradientUnits="userSpaceOnUse" x1="343.60" y1="0" x2="606.80" y2="0"><stop offset="0" stop-color="#7e2a94"/><stop offset="0.1331" stop-color="#7a2c96"/><stop offset="0.1521" stop-color="#713099"/><stop offset="0.1787" stop-color="#4d3b9d"/><stop offset="0.1977" stop-color="#484aa6"/><stop offset="0.2167" stop-color="#4a61b5"/><stop offset="0.2357" stop-color="#4e84cb"/><stop offset="0.2586" stop-color="#5193cf"/><stop offset="0.2814" stop-color="#4f8bce"/><stop offset="0.2966" stop-color="#4c75c2"/><stop offset="0.3232" stop-color="#484ca6"/><stop offset="0.3574" stop-color="#4f3a9c"/><stop offset="0.3802" stop-color="#5b359a"/><stop offset="0.4791" stop-color="#703099"/><stop offset="0.5285" stop-color="#732f99"/><stop offset="0.5932" stop-color="#4d3b9d"/><stop offset="0.6578" stop-color="#63339a"/><stop offset="0.7148" stop-color="#762e98"/><stop offset="1" stop-color="#7b2c96"/></linearGradient><linearGradient id="gb55" gradientUnits="userSpaceOnUse" x1="343.60" y1="0" x2="606.80" y2="0"><stop offset="0" stop-color="#7e2a94"/><stop offset="0.1331" stop-color="#7a2c96"/><stop offset="0.1521" stop-color="#713099"/><stop offset="0.1787" stop-color="#4d3b9d"/><stop offset="0.1977" stop-color="#484aa6"/><stop offset="0.2205" stop-color="#4a66b8"/><stop offset="0.2395" stop-color="#4e84cb"/><stop offset="0.2624" stop-color="#4f89cd"/><stop offset="0.2814" stop-color="#4d7ec8"/><stop offset="0.3194" stop-color="#4846a3"/><stop offset="0.3422" stop-color="#51399c"/><stop offset="0.3726" stop-color="#6b3199"/><stop offset="0.4297" stop-color="#752e98"/><stop offset="0.5361" stop-color="#772e98"/><stop offset="0.5703" stop-color="#6a3199"/><stop offset="0.597" stop-color="#5c359a"/><stop offset="0.6806" stop-color="#762e98"/><stop offset="0.8897" stop-color="#7c2b95"/><stop offset="1" stop-color="#7c2b95"/></linearGradient><linearGradient id="gb56" gradientUnits="userSpaceOnUse" x1="343.60" y1="0" x2="606.80" y2="0"><stop offset="0" stop-color="#7e2a94"/><stop offset="0.1331" stop-color="#7a2c96"/><stop offset="0.1521" stop-color="#713099"/><stop offset="0.1787" stop-color="#4d3b9d"/><stop offset="0.1977" stop-color="#484aa5"/><stop offset="0.2243" stop-color="#4b6bbb"/><stop offset="0.2433" stop-color="#4e81ca"/><stop offset="0.2662" stop-color="#4e80c9"/><stop offset="0.2852" stop-color="#4b6cbc"/><stop offset="0.3156" stop-color="#4843a2"/><stop offset="0.3346" stop-color="#55389b"/><stop offset="0.365" stop-color="#732f99"/><stop offset="0.4943" stop-color="#7b2c96"/><stop offset="0.5741" stop-color="#742f99"/><stop offset="0.597" stop-color="#6b3199"/><stop offset="0.6806" stop-color="#792c96"/><stop offset="1" stop-color="#7d2b95"/></linearGradient><linearGradient id="gb57" gradientUnits="userSpaceOnUse" x1="343.60" y1="0" x2="606.80" y2="0"><stop offset="0" stop-color="#7e2a94"/><stop offset="0.1331" stop-color="#7a2c96"/><stop offset="0.1521" stop-color="#723099"/><stop offset="0.1787" stop-color="#4d3b9d"/><stop offset="0.2015" stop-color="#484ea7"/><stop offset="0.2395" stop-color="#4d7ac5"/><stop offset="0.2586" stop-color="#4d7cc6"/><stop offset="0.2814" stop-color="#4a69ba"/><stop offset="0.3118" stop-color="#4842a1"/><stop offset="0.327" stop-color="#53389b"/><stop offset="0.3536" stop-color="#722f99"/><stop offset="0.4068" stop-color="#7b2b95"/><stop offset="0.5627" stop-color="#7a2c96"/><stop offset="0.616" stop-color="#772e98"/><stop offset="0.8517" stop-color="#7d2a94"/><stop offset="1" stop-color="#7d2a94"/></linearGradient><linearGradient id="gb58" gradientUnits="userSpaceOnUse" x1="343.60" y1="0" x2="606.80" y2="0"><stop offset="0" stop-color="#7e2a94"/><stop offset="0.1331" stop-color="#7a2c96"/><stop offset="0.1521" stop-color="#723099"/><stop offset="0.1787" stop-color="#4d3b9d"/><stop offset="0.2015" stop-color="#484da7"/><stop offset="0.2395" stop-color="#4c76c2"/><stop offset="0.2586" stop-color="#4c77c3"/><stop offset="0.2852" stop-color="#495eb2"/><stop offset="0.3156" stop-color="#4b3d9e"/><stop offset="0.3498" stop-color="#742f99"/><stop offset="0.4106" stop-color="#7d2b95"/><stop offset="0.5856" stop-color="#792c96"/><stop offset="1" stop-color="#7e2a94"/></linearGradient><linearGradient id="gb59" gradientUnits="userSpaceOnUse" x1="343.60" y1="0" x2="606.80" y2="0"><stop offset="0" stop-color="#7e2a94"/><stop offset="0.1331" stop-color="#7a2c96"/><stop offset="0.1521" stop-color="#722f99"/><stop offset="0.1825" stop-color="#4b3d9e"/><stop offset="0.2243" stop-color="#4a66b8"/><stop offset="0.2433" stop-color="#4c74c1"/><stop offset="0.2624" stop-color="#4b70bf"/><stop offset="0.3118" stop-color="#4a3e9f"/><stop offset="0.3308" stop-color="#60339a"/><stop offset="0.3498" stop-color="#762e98"/><stop offset="0.4144" stop-color="#7d2a94"/><stop offset="1" stop-color="#7e2a94"/></linearGradient><linearGradient id="gb60" gradientUnits="userSpaceOnUse" x1="343.60" y1="0" x2="606.80" y2="0"><stop offset="0" stop-color="#7e2a94"/><stop offset="0.1331" stop-color="#7a2c96"/><stop offset="0.1521" stop-color="#722f99"/><stop offset="0.1825" stop-color="#4b3d9e"/><stop offset="0.2281" stop-color="#4a69ba"/><stop offset="0.2471" stop-color="#4c72c0"/><stop offset="0.27" stop-color="#4a67b9"/><stop offset="0.3118" stop-color="#4b3d9e"/><stop offset="0.346" stop-color="#752f99"/><stop offset="0.403" stop-color="#7d2a94"/><stop offset="1" stop-color="#7e2a94"/></linearGradient><linearGradient id="gb61" gradientUnits="userSpaceOnUse" x1="343.60" y1="0" x2="606.80" y2="0"><stop offset="0" stop-color="#7e2a94"/><stop offset="0.1331" stop-color="#7a2c96"/><stop offset="0.1521" stop-color="#722f99"/><stop offset="0.1825" stop-color="#4b3d9e"/><stop offset="0.2243" stop-color="#4a64b7"/><stop offset="0.2471" stop-color="#4b70bf"/><stop offset="0.27" stop-color="#4a65b7"/><stop offset="0.308" stop-color="#493f9f"/><stop offset="0.3194" stop-color="#54389b"/><stop offset="0.3422" stop-color="#732f99"/><stop offset="0.3878" stop-color="#7d2a94"/><stop offset="1" stop-color="#7e2a94"/></linearGradient><linearGradient id="gb62" gradientUnits="userSpaceOnUse" x1="343.60" y1="0" x2="606.80" y2="0"><stop offset="0" stop-color="#7e2a94"/><stop offset="0.1331" stop-color="#7a2c96"/><stop offset="0.1559" stop-color="#6e3099"/><stop offset="0.1825" stop-color="#4c3c9e"/><stop offset="0.2129" stop-color="#4957ae"/><stop offset="0.2395" stop-color="#4b6cbc"/><stop offset="0.2624" stop-color="#4a68b9"/><stop offset="0.308" stop-color="#4a3e9f"/><stop offset="0.3194" stop-color="#55379b"/><stop offset="0.3422" stop-color="#742f99"/><stop offset="0.3954" stop-color="#7e2a94"/><stop offset="1" stop-color="#7e2a94"/></linearGradient><linearGradient id="gb63" gradientUnits="userSpaceOnUse" x1="343.60" y1="0" x2="606.80" y2="0"><stop offset="0" stop-color="#7e2a94"/><stop offset="0.1331" stop-color="#7a2c96"/><stop offset="0.1559" stop-color="#6f3099"/><stop offset="0.1825" stop-color="#4c3c9d"/><stop offset="0.2091" stop-color="#4852aa"/><stop offset="0.2395" stop-color="#4b6aba"/><stop offset="0.2624" stop-color="#4a65b8"/><stop offset="0.308" stop-color="#4b3d9e"/><stop offset="0.327" stop-color="#61339a"/><stop offset="0.3422" stop-color="#742f99"/><stop offset="0.3954" stop-color="#7e2a94"/><stop offset="1" stop-color="#7e2a94"/></linearGradient><linearGradient id="gb64" gradientUnits="userSpaceOnUse" x1="343.60" y1="0" x2="606.80" y2="0"><stop offset="0" stop-color="#7e2a94"/><stop offset="0.1369" stop-color="#792c96"/><stop offset="0.1559" stop-color="#703099"/><stop offset="0.1825" stop-color="#4c3c9d"/><stop offset="0.2053" stop-color="#484da7"/><stop offset="0.2357" stop-color="#4a66b8"/><stop offset="0.2586" stop-color="#4a65b7"/><stop offset="0.308" stop-color="#4b3d9e"/><stop offset="0.3308" stop-color="#68329a"/><stop offset="0.346" stop-color="#762e98"/><stop offset="0.4106" stop-color="#7e2a94"/><stop offset="1" stop-color="#7e2a94"/></linearGradient><linearGradient id="gb65" gradientUnits="userSpaceOnUse" x1="343.60" y1="0" x2="606.80" y2="0"><stop offset="0" stop-color="#7e2a94"/><stop offset="0.1369" stop-color="#792c96"/><stop offset="0.1559" stop-color="#703099"/><stop offset="0.1825" stop-color="#4d3b9d"/><stop offset="0.2091" stop-color="#484fa8"/><stop offset="0.2395" stop-color="#4a65b7"/><stop offset="0.2624" stop-color="#4a61b5"/><stop offset="0.3042" stop-color="#493f9f"/><stop offset="0.3156" stop-color="#53389b"/><stop offset="0.3422" stop-color="#752f99"/><stop offset="0.3992" stop-color="#7e2a94"/><stop offset="1" stop-color="#7e2a94"/></linearGradient><linearGradient id="gb66" gradientUnits="userSpaceOnUse" x1="343.60" y1="0" x2="606.80" y2="0"><stop offset="0" stop-color="#7e2a94"/><stop offset="0.1369" stop-color="#792c96"/><stop offset="0.1559" stop-color="#713099"/><stop offset="0.1863" stop-color="#4b3d9e"/><stop offset="0.2319" stop-color="#4960b4"/><stop offset="0.2548" stop-color="#4a62b5"/><stop offset="0.2966" stop-color="#4843a2"/><stop offset="0.3118" stop-color="#4e3a9c"/><stop offset="0.3422" stop-color="#752e98"/><stop offset="0.403" stop-color="#7e2a94"/><stop offset="1" stop-color="#7e2a94"/></linearGradient><linearGradient id="gb67" gradientUnits="userSpaceOnUse" x1="343.60" y1="0" x2="606.80" y2="0"><stop offset="0" stop-color="#7e2a94"/><stop offset="0.1369" stop-color="#7a2c96"/><stop offset="0.1559" stop-color="#713099"/><stop offset="0.1863" stop-color="#4c3c9d"/><stop offset="0.2167" stop-color="#4853ab"/><stop offset="0.2433" stop-color="#4a61b5"/><stop offset="0.27" stop-color="#4958ae"/><stop offset="0.3042" stop-color="#4a3e9e"/><stop offset="0.3194" stop-color="#5a359a"/><stop offset="0.3422" stop-color="#752e98"/><stop offset="0.403" stop-color="#7e2a94"/><stop offset="1" stop-color="#7e2a94"/></linearGradient><linearGradient id="gb68" gradientUnits="userSpaceOnUse" x1="343.60" y1="0" x2="606.80" y2="0"><stop offset="0" stop-color="#7e2a94"/><stop offset="0.1369" stop-color="#7a2c96"/><stop offset="0.1559" stop-color="#722f99"/><stop offset="0.1863" stop-color="#4c3c9d"/><stop offset="0.2129" stop-color="#484fa8"/><stop offset="0.2433" stop-color="#495fb3"/><stop offset="0.27" stop-color="#4957ad"/><stop offset="0.3042" stop-color="#4b3d9e"/><stop offset="0.3232" stop-color="#60339a"/><stop offset="0.3422" stop-color="#752e98"/><stop offset="0.403" stop-color="#7e2a94"/><stop offset="1" stop-color="#7e2a94"/></linearGradient><linearGradient id="gb69" gradientUnits="userSpaceOnUse" x1="343.60" y1="0" x2="606.80" y2="0"><stop offset="0" stop-color="#7e2a94"/><stop offset="0.1369" stop-color="#7a2c96"/><stop offset="0.1597" stop-color="#6f3099"/><stop offset="0.1863" stop-color="#4d3b9d"/><stop offset="0.2129" stop-color="#484da7"/><stop offset="0.2433" stop-color="#495db2"/><stop offset="0.27" stop-color="#4955ac"/><stop offset="0.3042" stop-color="#4c3c9e"/><stop offset="0.3384" stop-color="#742f99"/><stop offset="0.3954" stop-color="#7e2a94"/><stop offset="1" stop-color="#7e2a94"/></linearGradient><linearGradient id="gb70" gradientUnits="userSpaceOnUse" x1="343.60" y1="0" x2="606.80" y2="0"><stop offset="0" stop-color="#7e2a94"/><stop offset="0.1369" stop-color="#7a2c96"/><stop offset="0.1597" stop-color="#6f3099"/><stop offset="0.1863" stop-color="#4d3b9c"/><stop offset="0.2091" stop-color="#4849a5"/><stop offset="0.2433" stop-color="#495bb1"/><stop offset="0.27" stop-color="#4853ab"/><stop offset="0.3004" stop-color="#4a3e9f"/><stop offset="0.3118" stop-color="#53389b"/><stop offset="0.3384" stop-color="#742f99"/><stop offset="0.3954" stop-color="#7e2a94"/><stop offset="1" stop-color="#7e2a94"/></linearGradient><linearGradient id="gb71" gradientUnits="userSpaceOnUse" x1="343.60" y1="0" x2="606.80" y2="0"><stop offset="0" stop-color="#7e2a94"/><stop offset="0.1369" stop-color="#7a2c96"/><stop offset="0.1597" stop-color="#703099"/><stop offset="0.1901" stop-color="#4c3c9d"/><stop offset="0.2205" stop-color="#4850a9"/><stop offset="0.2471" stop-color="#495ab0"/><stop offset="0.2776" stop-color="#484da7"/><stop offset="0.3042" stop-color="#4d3b9d"/><stop offset="0.3384" stop-color="#752f99"/><stop offset="0.3992" stop-color="#7e2a94"/><stop offset="1" stop-color="#7e2a94"/></linearGradient><linearGradient id="gb72" gradientUnits="userSpaceOnUse" x1="343.60" y1="0" x2="606.80" y2="0"><stop offset="0" stop-color="#7e2a94"/><stop offset="0.1407" stop-color="#792c96"/><stop offset="0.1597" stop-color="#713099"/><stop offset="0.1901" stop-color="#4c3c9d"/><stop offset="0.2243" stop-color="#4851a9"/><stop offset="0.251" stop-color="#4958ae"/><stop offset="0.3004" stop-color="#4b3d9e"/><stop offset="0.3194" stop-color="#5f349a"/><stop offset="0.3384" stop-color="#752f99"/><stop offset="0.3992" stop-color="#7e2a94"/><stop offset="1" stop-color="#7e2a94"/></linearGradient><linearGradient id="gb73" gradientUnits="userSpaceOnUse" x1="343.60" y1="0" x2="606.80" y2="0"><stop offset="0" stop-color="#7e2a94"/><stop offset="0.1407" stop-color="#792c96"/><stop offset="0.1597" stop-color="#713099"/><stop offset="0.1901" stop-color="#4d3b9d"/><stop offset="0.2205" stop-color="#484da7"/><stop offset="0.251" stop-color="#4956ad"/><stop offset="0.2966" stop-color="#4a3e9f"/><stop offset="0.3118" stop-color="#57379b"/><stop offset="0.3384" stop-color="#752e98"/><stop offset="0.3992" stop-color="#7e2a94"/><stop offset="1" stop-color="#7e2a94"/></linearGradient><linearGradient id="gb74" gradientUnits="userSpaceOnUse" x1="343.60" y1="0" x2="606.80" y2="0"><stop offset="0" stop-color="#7e2a94"/><stop offset="0.1407" stop-color="#7a2c96"/><stop offset="0.1635" stop-color="#6e3099"/><stop offset="0.1901" stop-color="#4d3b9c"/><stop offset="0.2129" stop-color="#4848a4"/><stop offset="0.2471" stop-color="#4855ac"/><stop offset="0.2852" stop-color="#4844a2"/><stop offset="0.3042" stop-color="#4e3a9c"/><stop offset="0.3346" stop-color="#742f99"/><stop offset="0.3878" stop-color="#7d2a94"/><stop offset="1" stop-color="#7e2a94"/></linearGradient><linearGradient id="gb75" gradientUnits="userSpaceOnUse" x1="343.60" y1="0" x2="606.80" y2="0"><stop offset="0" stop-color="#7e2a94"/><stop offset="0.1407" stop-color="#7a2c96"/><stop offset="0.1635" stop-color="#6f3099"/><stop offset="0.1939" stop-color="#4c3c9d"/><stop offset="0.2357" stop-color="#4851aa"/><stop offset="0.2624" stop-color="#484fa8"/><stop offset="0.2966" stop-color="#4b3d9e"/><stop offset="0.3156" stop-color="#5d349a"/><stop offset="0.3346" stop-color="#742f99"/><stop offset="0.3916" stop-color="#7e2a94"/><stop offset="1" stop-color="#7e2a94"/></linearGradient><linearGradient id="gb76" gradientUnits="userSpaceOnUse" x1="343.60" y1="0" x2="606.80" y2="0"><stop offset="0" stop-color="#7e2a94"/><stop offset="0.1407" stop-color="#7a2c96"/><stop offset="0.1635" stop-color="#703099"/><stop offset="0.1939" stop-color="#4d3b9d"/><stop offset="0.2243" stop-color="#484ca6"/><stop offset="0.2548" stop-color="#4850a9"/><stop offset="0.2966" stop-color="#4b3d9e"/><stop offset="0.3194" stop-color="#64339a"/><stop offset="0.3384" stop-color="#762e98"/><stop offset="0.4068" stop-color="#7e2a94"/><stop offset="1" stop-color="#7e2a94"/></linearGradient><linearGradient id="gb77" gradientUnits="userSpaceOnUse" x1="343.60" y1="0" x2="606.80" y2="0"><stop offset="0" stop-color="#7e2a94"/><stop offset="0.1407" stop-color="#7a2c96"/><stop offset="0.1635" stop-color="#703099"/><stop offset="0.1939" stop-color="#4d3b9d"/><stop offset="0.2205" stop-color="#4849a5"/><stop offset="0.2548" stop-color="#484fa8"/><stop offset="0.2966" stop-color="#4c3c9d"/><stop offset="0.3346" stop-color="#752f99"/><stop offset="0.3954" stop-color="#7e2a94"/><stop offset="1" stop-color="#7e2a94"/></linearGradient><linearGradient id="gb78" gradientUnits="userSpaceOnUse" x1="343.60" y1="0" x2="606.80" y2="0"><stop offset="0" stop-color="#7e2a94"/><stop offset="0.1407" stop-color="#7a2c96"/><stop offset="0.1635" stop-color="#713099"/><stop offset="0.1977" stop-color="#4c3c9d"/><stop offset="0.2433" stop-color="#484ea7"/><stop offset="0.2776" stop-color="#4845a3"/><stop offset="0.3004" stop-color="#4f3a9c"/><stop offset="0.3346" stop-color="#752e98"/><stop offset="0.3992" stop-color="#7e2a94"/><stop offset="1" stop-color="#7e2a94"/></linearGradient><linearGradient id="gb79" gradientUnits="userSpaceOnUse" x1="343.60" y1="0" x2="606.80" y2="0"><stop offset="0" stop-color="#7e2a94"/><stop offset="0.1445" stop-color="#792c96"/><stop offset="0.1673" stop-color="#6e3099"/><stop offset="0.1977" stop-color="#4d3b9d"/><stop offset="0.2281" stop-color="#4849a5"/><stop offset="0.2624" stop-color="#484aa5"/><stop offset="0.2928" stop-color="#4c3c9e"/><stop offset="0.3156" stop-color="#62339a"/><stop offset="0.3346" stop-color="#752e98"/><stop offset="0.3992" stop-color="#7e2a94"/><stop offset="1" stop-color="#7e2a94"/></linearGradient><linearGradient id="gb80" gradientUnits="userSpaceOnUse" x1="343.60" y1="0" x2="606.80" y2="0"><stop offset="0" stop-color="#7e2a94"/><stop offset="0.1445" stop-color="#792c96"/><stop offset="0.1673" stop-color="#6f3099"/><stop offset="0.1977" stop-color="#4d3b9d"/><stop offset="0.2281" stop-color="#4848a4"/><stop offset="0.2624" stop-color="#4849a5"/><stop offset="0.2928" stop-color="#4c3c9d"/><stop offset="0.3346" stop-color="#762e98"/><stop offset="0.403" stop-color="#7e2a94"/><stop offset="1" stop-color="#7e2a94"/></linearGradient><linearGradient id="gb81" gradientUnits="userSpaceOnUse" x1="343.60" y1="0" x2="606.80" y2="0"><stop offset="0" stop-color="#7e2a94"/><stop offset="0.1445" stop-color="#7a2c96"/><stop offset="0.1673" stop-color="#6f3099"/><stop offset="0.1977" stop-color="#4d3b9c"/><stop offset="0.2319" stop-color="#4849a5"/><stop offset="0.2662" stop-color="#4847a4"/><stop offset="0.2966" stop-color="#4e3a9c"/><stop offset="0.3308" stop-color="#742f99"/><stop offset="0.3916" stop-color="#7e2a94"/><stop offset="1" stop-color="#7e2a94"/></linearGradient><linearGradient id="gb82" gradientUnits="userSpaceOnUse" x1="343.60" y1="0" x2="606.80" y2="0"><stop offset="0" stop-color="#7e2a94"/><stop offset="0.1445" stop-color="#7a2c96"/><stop offset="0.1673" stop-color="#703099"/><stop offset="0.2015" stop-color="#4c3c9d"/><stop offset="0.2395" stop-color="#484aa5"/><stop offset="0.2738" stop-color="#4843a2"/><stop offset="0.2966" stop-color="#4f3a9c"/><stop offset="0.3308" stop-color="#742f99"/><stop offset="0.3916" stop-color="#7e2a94"/><stop offset="1" stop-color="#7e2a94"/></linearGradient><linearGradient id="gb83" gradientUnits="userSpaceOnUse" x1="343.60" y1="0" x2="606.80" y2="0"><stop offset="0" stop-color="#7e2a94"/><stop offset="0.1445" stop-color="#7a2c96"/><stop offset="0.1673" stop-color="#703099"/><stop offset="0.2015" stop-color="#4d3b9d"/><stop offset="0.2357" stop-color="#4848a4"/><stop offset="0.27" stop-color="#4844a2"/><stop offset="0.2966" stop-color="#50399c"/><stop offset="0.3308" stop-color="#752f99"/><stop offset="0.3954" stop-color="#7e2a94"/><stop offset="1" stop-color="#7e2a94"/></linearGradient><linearGradient id="gb84" gradientUnits="userSpaceOnUse" x1="343.60" y1="0" x2="606.80" y2="0"><stop offset="0" stop-color="#7e2a94"/><stop offset="0.1445" stop-color="#7a2c96"/><stop offset="0.1673" stop-color="#713099"/><stop offset="0.2015" stop-color="#4d3b9d"/><stop offset="0.2395" stop-color="#4848a4"/><stop offset="0.2776" stop-color="#4840a0"/><stop offset="0.2966" stop-color="#51399c"/><stop offset="0.3308" stop-color="#752f99"/><stop offset="0.3954" stop-color="#7e2a94"/><stop offset="1" stop-color="#7e2a94"/></linearGradient><linearGradient id="gb85" gradientUnits="userSpaceOnUse" x1="343.60" y1="0" x2="606.80" y2="0"><stop offset="0" stop-color="#7e2a94"/><stop offset="0.1445" stop-color="#7a2c96"/><stop offset="0.1673" stop-color="#713099"/><stop offset="0.2015" stop-color="#4d3b9d"/><stop offset="0.2357" stop-color="#4847a3"/><stop offset="0.27" stop-color="#4843a1"/><stop offset="0.2966" stop-color="#52399c"/><stop offset="0.3308" stop-color="#752f99"/><stop offset="0.3954" stop-color="#7e2a94"/><stop offset="1" stop-color="#7e2a94"/></linearGradient><linearGradient id="gb86" gradientUnits="userSpaceOnUse" x1="343.60" y1="0" x2="606.80" y2="0"><stop offset="0" stop-color="#7e2a94"/><stop offset="0.1445" stop-color="#7a2c96"/><stop offset="0.1711" stop-color="#6e3099"/><stop offset="0.2053" stop-color="#4c3c9d"/><stop offset="0.251" stop-color="#4847a4"/><stop offset="0.289" stop-color="#4d3b9d"/><stop offset="0.3308" stop-color="#752e98"/><stop offset="0.3992" stop-color="#7e2a94"/><stop offset="1" stop-color="#7e2a94"/></linearGradient><linearGradient id="gb87" gradientUnits="userSpaceOnUse" x1="343.60" y1="0" x2="606.80" y2="0"><stop offset="0" stop-color="#7e2a94"/><stop offset="0.1483" stop-color="#792c96"/><stop offset="0.1711" stop-color="#6f3099"/><stop offset="0.2053" stop-color="#4d3b9d"/><stop offset="0.2471" stop-color="#4846a3"/><stop offset="0.2852" stop-color="#4c3c9d"/><stop offset="0.308" stop-color="#5f349a"/><stop offset="0.3308" stop-color="#752e98"/><stop offset="0.3992" stop-color="#7e2a94"/><stop offset="1" stop-color="#7e2a94"/></linearGradient><linearGradient id="gb88" gradientUnits="userSpaceOnUse" x1="343.60" y1="0" x2="606.80" y2="0"><stop offset="0" stop-color="#7e2a94"/><stop offset="0.1483" stop-color="#792c96"/><stop offset="0.1711" stop-color="#703099"/><stop offset="0.2053" stop-color="#4d3b9d"/><stop offset="0.2433" stop-color="#4845a3"/><stop offset="0.2852" stop-color="#4c3c9d"/><stop offset="0.3194" stop-color="#6d3199"/><stop offset="0.3384" stop-color="#782d97"/><stop offset="0.4373" stop-color="#7e2a94"/><stop offset="1" stop-color="#7e2a94"/></linearGradient><linearGradient id="gb89" gradientUnits="userSpaceOnUse" x1="343.60" y1="0" x2="606.80" y2="0"><stop offset="0" stop-color="#7e2a94"/><stop offset="0.1483" stop-color="#7a2c96"/><stop offset="0.1711" stop-color="#703099"/><stop offset="0.2053" stop-color="#4d3b9c"/><stop offset="0.2471" stop-color="#4844a2"/><stop offset="0.2852" stop-color="#4d3b9d"/><stop offset="0.3308" stop-color="#762e98"/><stop offset="0.403" stop-color="#7e2a94"/><stop offset="1" stop-color="#7e2a94"/></linearGradient><linearGradient id="gb90" gradientUnits="userSpaceOnUse" x1="343.60" y1="0" x2="606.80" y2="0"><stop offset="0" stop-color="#7e2a94"/><stop offset="0.1483" stop-color="#7a2c96"/><stop offset="0.1711" stop-color="#713099"/><stop offset="0.2091" stop-color="#4c3c9d"/><stop offset="0.2548" stop-color="#4843a2"/><stop offset="0.289" stop-color="#4e3a9c"/><stop offset="0.327" stop-color="#752f99"/><stop offset="0.3916" stop-color="#7e2a94"/><stop offset="1" stop-color="#7e2a94"/></linearGradient><linearGradient id="gb91" gradientUnits="userSpaceOnUse" x1="343.60" y1="0" x2="606.80" y2="0"><stop offset="0" stop-color="#7e2a94"/><stop offset="0.1483" stop-color="#7a2c96"/><stop offset="0.1711" stop-color="#713099"/><stop offset="0.2091" stop-color="#4d3b9d"/><stop offset="0.2548" stop-color="#4843a1"/><stop offset="0.289" stop-color="#4f399c"/><stop offset="0.327" stop-color="#752f99"/><stop offset="0.3916" stop-color="#7e2a94"/><stop offset="1" stop-color="#7e2a94"/></linearGradient><linearGradient id="gbs" gradientUnits="userSpaceOnUse" x1="343.60" y1="0" x2="606.80" y2="0"><stop offset="0" stop-color="#4848a4"/><stop offset="0.01901" stop-color="#4955ac"/><stop offset="0.03802" stop-color="#4a68b9"/><stop offset="0.05323" stop-color="#495fb3"/><stop offset="0.07224" stop-color="#484ba6"/><stop offset="0.1293" stop-color="#4847a4"/><stop offset="0.1901" stop-color="#4852aa"/><stop offset="0.251" stop-color="#4b6ebd"/><stop offset="0.2852" stop-color="#4a65b7"/><stop offset="0.3346" stop-color="#4850a9"/><stop offset="0.4068" stop-color="#4955ac"/><stop offset="0.4791" stop-color="#4847a4"/><stop offset="0.749" stop-color="#4844a2"/><stop offset="0.8213" stop-color="#51399c"/><stop offset="0.9087" stop-color="#782d97"/><stop offset="0.9582" stop-color="#7e2a94"/><stop offset="1" stop-color="#7e2a94"/></linearGradient><filter id="gbf" filterUnits="userSpaceOnUse" x="338.60" y="19.00" width="273.20" height="194.10" color-interpolation-filters="sRGB"><feGaussianBlur stdDeviation="0.6 1.3"/></filter><clipPath id="gbc"><rect x="343.60" y="24.00" width="263.20" height="184.10"/></clipPath></defs>
<g clip-path="url(#gbc)"><g filter="url(#gbf)"><rect x="338.60" y="19.00" width="273.20" height="7.60" fill="url(#gb0)"/><rect x="338.60" y="26.00" width="273.20" height="2.60" fill="url(#gb1)"/><rect x="338.60" y="28.00" width="273.20" height="2.60" fill="url(#gb2)"/><rect x="338.60" y="30.00" width="273.20" height="2.60" fill="url(#gb3)"/><rect x="338.60" y="32.00" width="273.20" height="2.60" fill="url(#gb4)"/><rect x="338.60" y="34.01" width="273.20" height="2.60" fill="url(#gb5)"/><rect x="338.60" y="36.01" width="273.20" height="2.60" fill="url(#gb6)"/><rect x="338.60" y="38.01" width="273.20" height="2.60" fill="url(#gb7)"/><rect x="338.60" y="40.01" width="273.20" height="2.60" fill="url(#gb8)"/><rect x="338.60" y="42.01" width="273.20" height="2.60" fill="url(#gb9)"/><rect x="338.60" y="44.01" width="273.20" height="2.60" fill="url(#gb10)"/><rect x="338.60" y="46.01" width="273.20" height="2.60" fill="url(#gb11)"/><rect x="338.60" y="48.01" width="273.20" height="2.60" fill="url(#gb12)"/><rect x="338.60" y="50.01" width="273.20" height="2.60" fill="url(#gb13)"/><rect x="338.60" y="52.02" width="273.20" height="2.60" fill="url(#gb14)"/><rect x="338.60" y="54.02" width="273.20" height="2.60" fill="url(#gb15)"/><rect x="338.60" y="56.02" width="273.20" height="2.60" fill="url(#gb16)"/><rect x="338.60" y="58.02" width="273.20" height="2.60" fill="url(#gb17)"/><rect x="338.60" y="60.02" width="273.20" height="2.60" fill="url(#gb18)"/><rect x="338.60" y="62.02" width="273.20" height="2.60" fill="url(#gb19)"/><rect x="338.60" y="64.02" width="273.20" height="2.60" fill="url(#gb20)"/><rect x="338.60" y="66.02" width="273.20" height="2.60" fill="url(#gb21)"/><rect x="338.60" y="68.02" width="273.20" height="2.60" fill="url(#gb22)"/><rect x="338.60" y="70.03" width="273.20" height="2.60" fill="url(#gb23)"/><rect x="338.60" y="72.03" width="273.20" height="2.60" fill="url(#gb24)"/><rect x="338.60" y="74.03" width="273.20" height="2.60" fill="url(#gb25)"/><rect x="338.60" y="76.03" width="273.20" height="2.60" fill="url(#gb26)"/><rect x="338.60" y="78.03" width="273.20" height="2.60" fill="url(#gb27)"/><rect x="338.60" y="80.03" width="273.20" height="2.60" fill="url(#gb28)"/><rect x="338.60" y="82.03" width="273.20" height="2.60" fill="url(#gb29)"/><rect x="338.60" y="84.03" width="273.20" height="2.60" fill="url(#gb30)"/><rect x="338.60" y="86.03" width="273.20" height="2.60" fill="url(#gb31)"/><rect x="338.60" y="88.03" width="273.20" height="2.60" fill="url(#gb32)"/><rect x="338.60" y="90.04" width="273.20" height="2.60" fill="url(#gb33)"/><rect x="338.60" y="92.04" width="273.20" height="2.60" fill="url(#gb34)"/><rect x="338.60" y="94.04" width="273.20" height="2.60" fill="url(#gb35)"/><rect x="338.60" y="96.04" width="273.20" height="2.60" fill="url(#gb36)"/><rect x="338.60" y="98.04" width="273.20" height="2.60" fill="url(#gb37)"/><rect x="338.60" y="100.04" width="273.20" height="2.60" fill="url(#gb38)"/><rect x="338.60" y="102.04" width="273.20" height="2.60" fill="url(#gb39)"/><rect x="338.60" y="104.04" width="273.20" height="2.60" fill="url(#gb40)"/><rect x="338.60" y="106.04" width="273.20" height="2.60" fill="url(#gb41)"/><rect x="338.60" y="108.05" width="273.20" height="2.60" fill="url(#gb42)"/><rect x="338.60" y="110.05" width="273.20" height="2.60" fill="url(#gb43)"/><rect x="338.60" y="112.05" width="273.20" height="2.60" fill="url(#gb44)"/><rect x="338.60" y="114.05" width="273.20" height="2.60" fill="url(#gb45)"/><rect x="338.60" y="116.05" width="273.20" height="2.60" fill="url(#gb46)"/><rect x="338.60" y="118.05" width="273.20" height="2.60" fill="url(#gb47)"/><rect x="338.60" y="120.05" width="273.20" height="2.60" fill="url(#gb48)"/><rect x="338.60" y="122.05" width="273.20" height="2.60" fill="url(#gb49)"/><rect x="338.60" y="124.05" width="273.20" height="2.60" fill="url(#gb50)"/><rect x="338.60" y="126.06" width="273.20" height="2.60" fill="url(#gb51)"/><rect x="338.60" y="128.06" width="273.20" height="2.60" fill="url(#gb52)"/><rect x="338.60" y="130.06" width="273.20" height="2.60" fill="url(#gb53)"/><rect x="338.60" y="132.06" width="273.20" height="2.60" fill="url(#gb54)"/><rect x="338.60" y="134.06" width="273.20" height="2.60" fill="url(#gb55)"/><rect x="338.60" y="136.06" width="273.20" height="2.60" fill="url(#gb56)"/><rect x="338.60" y="138.06" width="273.20" height="2.60" fill="url(#gb57)"/><rect x="338.60" y="140.06" width="273.20" height="2.60" fill="url(#gb58)"/><rect x="338.60" y="142.06" width="273.20" height="2.60" fill="url(#gb59)"/><rect x="338.60" y="144.07" width="273.20" height="2.60" fill="url(#gb60)"/><rect x="338.60" y="146.07" width="273.20" height="2.60" fill="url(#gb61)"/><rect x="338.60" y="148.07" width="273.20" height="2.60" fill="url(#gb62)"/><rect x="338.60" y="150.07" width="273.20" height="2.60" fill="url(#gb63)"/><rect x="338.60" y="152.07" width="273.20" height="2.60" fill="url(#gb64)"/><rect x="338.60" y="154.07" width="273.20" height="2.60" fill="url(#gb65)"/><rect x="338.60" y="156.07" width="273.20" height="2.60" fill="url(#gb66)"/><rect x="338.60" y="158.07" width="273.20" height="2.60" fill="url(#gb67)"/><rect x="338.60" y="160.07" width="273.20" height="2.60" fill="url(#gb68)"/><rect x="338.60" y="162.07" width="273.20" height="2.60" fill="url(#gb69)"/><rect x="338.60" y="164.08" width="273.20" height="2.60" fill="url(#gb70)"/><rect x="338.60" y="166.08" width="273.20" height="2.60" fill="url(#gb71)"/><rect x="338.60" y="168.08" width="273.20" height="2.60" fill="url(#gb72)"/><rect x="338.60" y="170.08" width="273.20" height="2.60" fill="url(#gb73)"/><rect x="338.60" y="172.08" width="273.20" height="2.60" fill="url(#gb74)"/><rect x="338.60" y="174.08" width="273.20" height="2.60" fill="url(#gb75)"/><rect x="338.60" y="176.08" width="273.20" height="2.60" fill="url(#gb76)"/><rect x="338.60" y="178.08" width="273.20" height="2.60" fill="url(#gb77)"/><rect x="338.60" y="180.08" width="273.20" height="2.60" fill="url(#gb78)"/><rect x="338.60" y="182.09" width="273.20" height="2.60" fill="url(#gb79)"/><rect x="338.60" y="184.09" width="273.20" height="2.60" fill="url(#gb80)"/><rect x="338.60" y="186.09" width="273.20" height="2.60" fill="url(#gb81)"/><rect x="338.60" y="188.09" width="273.20" height="2.60" fill="url(#gb82)"/><rect x="338.60" y="190.09" width="273.20" height="2.60" fill="url(#gb83)"/><rect x="338.60" y="192.09" width="273.20" height="2.60" fill="url(#gb84)"/><rect x="338.60" y="194.09" width="273.20" height="2.60" fill="url(#gb85)"/><rect x="338.60" y="196.09" width="273.20" height="2.60" fill="url(#gb86)"/><rect x="338.60" y="198.09" width="273.20" height="2.60" fill="url(#gb87)"/><rect x="338.60" y="200.10" width="273.20" height="2.60" fill="url(#gb88)"/><rect x="338.60" y="202.10" width="273.20" height="2.60" fill="url(#gb89)"/><rect x="338.60" y="204.10" width="273.20" height="2.60" fill="url(#gb90)"/><rect x="338.60" y="206.10" width="273.20" height="7.60" fill="url(#gb91)"/></g><rect x="343.60" y="205.80" width="263.20" height="1.6" fill="url(#gbs)" opacity="0.9"/><ellipse cx="359.89" cy="207.10" rx="8.0" ry="3.3" fill="url(#blobg)" opacity="0.60"/><ellipse cx="378.05" cy="207.10" rx="7.5" ry="3.3" fill="url(#blobg)" opacity="0.57"/><ellipse cx="404.90" cy="207.10" rx="8.0" ry="3.3" fill="url(#blobg)" opacity="0.51"/><ellipse cx="445.87" cy="207.10" rx="7.0" ry="3.3" fill="url(#blobg)" opacity="0.18"/></g>

<line x1="343.60" y1="111.90" x2="606.80" y2="111.90" stroke="#fff" stroke-width="1.9" stroke-dasharray="2.9 1.85"/>
<line x1="479.50" y1="26.60" x2="479.50" y2="208.10" stroke="#b7afab" stroke-width="2.0" stroke-dasharray="3.25 1.7"/>
<line x1="514.86" y1="26.60" x2="514.86" y2="208.10" stroke="#b7afab" stroke-width="2.0" stroke-dasharray="3.25 1.7"/>
<rect x="343.60" y="26.60" width="263.20" height="181.50" fill="none" stroke="#161616" stroke-width="2.2"/>
<line x1="431.33" y1="208.10" x2="431.33" y2="204.60" stroke="#161616" stroke-width="1.6" /><line x1="431.33" y1="26.60" x2="431.33" y2="30.10" stroke="#161616" stroke-width="1.6" /><line x1="519.07" y1="208.10" x2="519.07" y2="204.60" stroke="#161616" stroke-width="1.6" /><line x1="519.07" y1="26.60" x2="519.07" y2="30.10" stroke="#161616" stroke-width="1.6" /><line x1="343.60" y1="147.60" x2="347.10" y2="147.60" stroke="#161616" stroke-width="1.6" /><line x1="606.80" y1="147.60" x2="603.30" y2="147.60" stroke="#161616" stroke-width="1.6" /><line x1="343.60" y1="87.10" x2="347.10" y2="87.10" stroke="#161616" stroke-width="1.6" /><line x1="606.80" y1="87.10" x2="603.30" y2="87.10" stroke="#161616" stroke-width="1.6" />
<text x="348.20" y="105.20" font-family='"DejaVu Sans", "Liberation Sans", sans-serif' font-stretch="normal" font-size="21.8" fill="#fff" stroke="#fff"><tspan font-style="italic">k</tspan><tspan font-size="11" dy="4.3" dx="-1.2">c</tspan></text>
<text x="468.20" y="42.20" font-size="16.5" fill="#b7b5b0" stroke="none"><tspan font-style="italic">t</tspan><tspan font-size="8" dy="2.8" dx="-2.0">1</tspan></text>
<text x="503.56" y="42.20" font-size="16.5" fill="#b7b5b0" stroke="none"><tspan font-style="italic">t</tspan><tspan font-size="8" dy="2.8" dx="-2.0">2</tspan></text>
<g transform="translate(451.30 252.40) scale(0.95 1.0)" font-family='"DejaVu Sans", "Liberation Sans", sans-serif' font-stretch="normal" font-size="21.5" letter-spacing="-0.4" fill="#161616" stroke="#161616"><text x="0" y="0"><tspan font-style="italic">t</tspan><tspan dx="-1.9"> (ns)</tspan></text></g>
<text x="67.10" y="230.60" font-size="22.5" text-anchor="middle" fill="#161616" stroke="#161616" >0</text>
<text x="155.03" y="230.60" font-size="22.5" text-anchor="middle" fill="#161616" stroke="#161616" >10</text>
<text x="242.37" y="230.60" font-size="22.5" text-anchor="middle" fill="#161616" stroke="#161616" >20</text>
<text x="320.70" y="230.60" font-size="22.5" text-anchor="middle" fill="#161616" stroke="#161616" >30</text>
<text x="348.10" y="230.60" font-size="22.5" text-anchor="middle" fill="#161616" stroke="#161616" >0</text>
<text x="434.53" y="230.60" font-size="22.5" text-anchor="middle" fill="#161616" stroke="#161616" >10</text>
<text x="522.67" y="230.60" font-size="22.5" text-anchor="middle" fill="#161616" stroke="#161616" >20</text>
<text x="603.70" y="230.60" font-size="22.5" text-anchor="middle" fill="#161616" stroke="#161616" >30</text>
<text x="61.00" y="215.90" font-size="22.5" text-anchor="end" fill="#161616" stroke="#161616" >0</text>
<text x="61.00" y="155.40" font-size="22.5" text-anchor="end" fill="#161616" stroke="#161616" >10</text>
<text x="61.00" y="94.90" font-size="22.5" text-anchor="end" fill="#161616" stroke="#161616" >20</text>
<text x="60.70" y="35.10" font-size="22.5" text-anchor="end" fill="#161616" stroke="#161616" >30</text>
<g transform="translate(18.60 142.00) rotate(-90) scale(0.95 1.0)" font-family='"DejaVu Sans", "Liberation Sans", sans-serif' font-stretch="normal" font-size="21.5" letter-spacing="-0.4" fill="#161616" stroke="#161616"><text x="0" y="0"><tspan font-style="italic">k</tspan> (µm<tspan font-size="11" dy="-11.5" dx="-1.3">-1</tspan><tspan dy="11.5">)</tspan></text></g>
<defs><linearGradient id="cb" x1="0" y1="0" x2="0" y2="1"><stop offset="0.000" stop-color="#e8242e"/><stop offset="0.050" stop-color="#e63a2b"/><stop offset="0.100" stop-color="#eb5a28"/><stop offset="0.160" stop-color="#ee8028"/><stop offset="0.220" stop-color="#eba028"/><stop offset="0.250" stop-color="#e8ae28"/><stop offset="0.300" stop-color="#dcbc2a"/><stop offset="0.350" stop-color="#cfc430"/><stop offset="0.410" stop-color="#bccb38"/><stop offset="0.460" stop-color="#a8cf48"/><stop offset="0.510" stop-color="#96cc5e"/><stop offset="0.560" stop-color="#84c880"/><stop offset="0.620" stop-color="#6cbca8"/><stop offset="0.680" stop-color="#5aaac8"/><stop offset="0.730" stop-color="#5090d0"/><stop offset="0.770" stop-color="#4e82ca"/><stop offset="0.825" stop-color="#4a66b8"/><stop offset="0.877" stop-color="#484fa8"/><stop offset="0.918" stop-color="#4840a0"/><stop offset="0.940" stop-color="#4e3a9c"/><stop offset="0.960" stop-color="#5e349a"/><stop offset="0.980" stop-color="#742f99"/><stop offset="1.000" stop-color="#7e2a94"/></linearGradient></defs>
<rect x="622.40" y="26.40" width="27.70" height="181.60" fill="url(#cb)" stroke="#161616" stroke-width="2"/>
<text x="653.00" y="43.30" font-size="22.5" text-anchor="start" fill="#161616" stroke="#161616" >1</text>
<text x="653.00" y="207.00" font-size="22.5" text-anchor="start" fill="#161616" stroke="#161616" >0</text>
<g transform="translate(680.60 146.70) rotate(-90) scale(0.94 1.0)" font-family='"DejaVu Sans", "Liberation Sans", sans-serif' font-stretch="normal" font-size="22.4" letter-spacing="-0.4" fill="#161616" stroke="#161616"><text x="0" y="0"><tspan font-style="italic">F</tspan> (a.u.)</text></g>
<text x="-0.80" y="18.50" font-size="22.3" text-anchor="start" fill="#161616" stroke="#161616" >(a)</text>
<text x="341.50" y="17.90" font-size="21.8" text-anchor="start" fill="#161616" stroke="#161616" >(b)</text>
<text x="-0.80" y="304.10" font-size="21.7" text-anchor="start" fill="#161616" stroke="#161616" font-family='"DejaVu Sans", "Liberation Sans", sans-serif' font-stretch="normal">(c)</text>
<text x="340.10" y="304.10" font-size="21.7" text-anchor="start" fill="#161616" stroke="#161616" font-family='"DejaVu Sans", "Liberation Sans", sans-serif' font-stretch="normal">(d)</text>
<path d="M153.24,501.75 L158.07,500.08 L166.16,496.15 L172.57,491.00 L177.50,479.50 L181.54,463.46 L186.37,439.25 L189.54,415.03 L193.58,389.61 L198.50,357.23 L201.67,344.51 L204.13,339.37 L205.80,337.55 L206.50,337.10 L207.29,337.55 L208.96,339.37 L211.43,346.03 L214.59,357.23 L217.84,378.41 L221.89,415.03 L224.70,439.25 L229.18,463.46 L234.02,484.35 L237.27,494.03 L242.10,498.27 L246.15,501.75" fill="none" stroke="#1a1a1a" stroke-width="2.15" stroke-linejoin="round" stroke-linecap="round"/>
<path d="M159.65,500.99 L167.74,498.99 L174.24,495.85 L179.08,491.00 L182.33,482.83 L186.37,471.63 L190.42,458.62 L195.25,447.42 L200.09,435.92 L204.13,428.35 L205.36,427.60 L207.56,427.60 L208.96,428.35 L212.22,434.41 L216.26,444.09 L221.10,461.95 L225.93,476.48 L229.97,489.19 L232.43,493.43 L238.06,497.36 L243.69,500.99" fill="none" stroke="#2d5cb8" stroke-width="2.15" stroke-linejoin="round" stroke-linecap="round"/>
<rect x="65.60" y="320.30" width="263.70" height="181.60" fill="none" stroke="#161616" stroke-width="2.2"/>
<line x1="109.55" y1="320.30" x2="109.55" y2="323.40" stroke="#161616" stroke-width="1.6" /><line x1="153.50" y1="320.30" x2="153.50" y2="323.40" stroke="#161616" stroke-width="1.6" /><line x1="197.45" y1="320.30" x2="197.45" y2="323.40" stroke="#161616" stroke-width="1.6" /><line x1="241.40" y1="320.30" x2="241.40" y2="323.40" stroke="#161616" stroke-width="1.6" /><line x1="285.35" y1="320.30" x2="285.35" y2="323.40" stroke="#161616" stroke-width="1.6" /><line x1="65.60" y1="471.63" x2="68.70" y2="471.63" stroke="#161616" stroke-width="1.6" /><line x1="329.30" y1="471.63" x2="326.20" y2="471.63" stroke="#161616" stroke-width="1.6" /><line x1="65.60" y1="441.37" x2="68.70" y2="441.37" stroke="#161616" stroke-width="1.6" /><line x1="329.30" y1="441.37" x2="326.20" y2="441.37" stroke="#161616" stroke-width="1.6" /><line x1="65.60" y1="411.10" x2="68.70" y2="411.10" stroke="#161616" stroke-width="1.6" /><line x1="329.30" y1="411.10" x2="326.20" y2="411.10" stroke="#161616" stroke-width="1.6" /><line x1="65.60" y1="380.83" x2="68.70" y2="380.83" stroke="#161616" stroke-width="1.6" /><line x1="329.30" y1="380.83" x2="326.20" y2="380.83" stroke="#161616" stroke-width="1.6" /><line x1="65.60" y1="350.57" x2="68.70" y2="350.57" stroke="#161616" stroke-width="1.6" /><line x1="329.30" y1="350.57" x2="326.20" y2="350.57" stroke="#161616" stroke-width="1.6" />
<g transform="translate(170.80 551.20) scale(0.95 1.0)" font-family='"DejaVu Sans", "Liberation Sans", sans-serif' font-stretch="normal" font-size="21.5" letter-spacing="-0.4" fill="#161616" stroke="#161616"><text x="0" y="0"><tspan font-style="italic">k</tspan> (µm<tspan font-size="11" dy="-11.5" dx="-1.3">-1</tspan><tspan dy="11.5">)</tspan></text></g>
<text x="254.80" y="345.30" font-family='"DejaVu Sans", "Liberation Sans", sans-serif' font-stretch="normal" font-size="22.1" fill="#111" stroke="#111">14 ns</text>
<text x="254.80" y="370.80" font-family='"DejaVu Sans", "Liberation Sans", sans-serif' font-stretch="normal" font-size="22.1" fill="#2d5cb8" stroke="#2d5cb8">21 ns</text>
<path d="M431.07,501.75 L435.90,500.08 L443.97,496.15 L450.37,491.00 L455.28,479.50 L459.32,463.46 L464.15,439.25 L467.30,415.03 L471.34,389.61 L476.25,357.23 L479.41,344.51 L481.87,339.37 L483.53,337.55 L484.24,337.10 L485.03,337.55 L486.69,339.37 L489.15,346.03 L492.31,357.23 L495.55,378.41 L499.59,415.03 L502.40,439.25 L506.87,463.46 L511.70,484.35 L514.94,494.03 L519.77,498.27 L523.80,501.75" fill="none" stroke="#1a1a1a" stroke-width="2.15" stroke-linejoin="round" stroke-linecap="round"/>
<path d="M440.90,500.93 L448.18,498.51 L453.88,495.30 L457.92,491.73 L461.16,484.47 L464.32,474.78 L468.36,463.46 L469.94,458.01 L470.37,458.92 L471.60,454.59 L474.85,447.30 L478.10,439.25 L480.55,435.19 L482.92,432.77 L483.97,434.41 L484.59,433.95 L486.52,434.56 L488.62,435.04 L490.99,439.25 L493.45,445.69 L497.48,458.62 L500.73,469.94 L503.98,481.23 L507.13,490.13 L509.59,494.15 L513.63,497.39 L518.45,500.63" fill="none" stroke="#ec1c24" stroke-width="2.15" stroke-linejoin="round" stroke-linecap="round"/>
<rect x="343.60" y="320.30" width="263.20" height="181.60" fill="none" stroke="#161616" stroke-width="2.2"/>
<line x1="387.47" y1="320.30" x2="387.47" y2="323.40" stroke="#161616" stroke-width="1.6" /><line x1="431.33" y1="320.30" x2="431.33" y2="323.40" stroke="#161616" stroke-width="1.6" /><line x1="475.20" y1="320.30" x2="475.20" y2="323.40" stroke="#161616" stroke-width="1.6" /><line x1="519.07" y1="320.30" x2="519.07" y2="323.40" stroke="#161616" stroke-width="1.6" /><line x1="562.93" y1="320.30" x2="562.93" y2="323.40" stroke="#161616" stroke-width="1.6" /><line x1="343.60" y1="471.63" x2="346.70" y2="471.63" stroke="#161616" stroke-width="1.6" /><line x1="606.80" y1="471.63" x2="603.70" y2="471.63" stroke="#161616" stroke-width="1.6" /><line x1="343.60" y1="441.37" x2="346.70" y2="441.37" stroke="#161616" stroke-width="1.6" /><line x1="606.80" y1="441.37" x2="603.70" y2="441.37" stroke="#161616" stroke-width="1.6" /><line x1="343.60" y1="411.10" x2="346.70" y2="411.10" stroke="#161616" stroke-width="1.6" /><line x1="606.80" y1="411.10" x2="603.70" y2="411.10" stroke="#161616" stroke-width="1.6" /><line x1="343.60" y1="380.83" x2="346.70" y2="380.83" stroke="#161616" stroke-width="1.6" /><line x1="606.80" y1="380.83" x2="603.70" y2="380.83" stroke="#161616" stroke-width="1.6" /><line x1="343.60" y1="350.57" x2="346.70" y2="350.57" stroke="#161616" stroke-width="1.6" /><line x1="606.80" y1="350.57" x2="603.70" y2="350.57" stroke="#161616" stroke-width="1.6" />
<g transform="translate(438.70 551.20) scale(0.95 1.0)" font-family='"DejaVu Sans", "Liberation Sans", sans-serif' font-stretch="normal" font-size="21.5" letter-spacing="-0.4" fill="#161616" stroke="#161616"><text x="0" y="0"><tspan font-style="italic">k</tspan> (µm<tspan font-size="11" dy="-11.5" dx="-1.3">-1</tspan><tspan dy="11.5">)</tspan></text></g>
<text x="532.30" y="345.30" font-family='"DejaVu Sans", "Liberation Sans", sans-serif' font-stretch="normal" font-size="22.1" fill="#111" stroke="#111">14 ns</text>
<text x="532.30" y="370.80" font-family='"DejaVu Sans", "Liberation Sans", sans-serif' font-stretch="normal" font-size="22.1" fill="#ec1c24" stroke="#ec1c24">21 ns</text>
<text x="65.90" y="524.70" font-size="22.5" text-anchor="middle" fill="#161616" stroke="#161616" >0</text>
<text x="153.30" y="524.70" font-size="22.5" text-anchor="middle" fill="#161616" stroke="#161616" >10</text>
<text x="241.00" y="524.70" font-size="22.5" text-anchor="middle" fill="#161616" stroke="#161616" >20</text>
<text x="319.70" y="524.70" font-size="22.5" text-anchor="middle" fill="#161616" stroke="#161616" >30</text>
<text x="343.30" y="524.70" font-size="22.5" text-anchor="middle" fill="#161616" stroke="#161616" >0</text>
<text x="431.43" y="524.70" font-size="22.5" text-anchor="middle" fill="#161616" stroke="#161616" >10</text>
<text x="520.77" y="524.70" font-size="22.5" text-anchor="middle" fill="#161616" stroke="#161616" >20</text>
<text x="597.80" y="524.70" font-size="22.5" text-anchor="middle" fill="#161616" stroke="#161616" >30</text>
<text x="61.00" y="510.40" font-size="22.0" text-anchor="end" fill="#161616" stroke="#161616" font-family='"DejaVu Sans", "Liberation Sans", sans-serif' font-stretch="normal">0</text>
<text x="61.00" y="480.13" font-size="22.0" text-anchor="end" fill="#161616" stroke="#161616" font-family='"DejaVu Sans", "Liberation Sans", sans-serif' font-stretch="normal">0.1</text>
<text x="61.00" y="449.87" font-size="22.0" text-anchor="end" fill="#161616" stroke="#161616" font-family='"DejaVu Sans", "Liberation Sans", sans-serif' font-stretch="normal">0.2</text>
<text x="61.00" y="419.60" font-size="22.0" text-anchor="end" fill="#161616" stroke="#161616" font-family='"DejaVu Sans", "Liberation Sans", sans-serif' font-stretch="normal">0.3</text>
<text x="61.00" y="389.33" font-size="22.0" text-anchor="end" fill="#161616" stroke="#161616" font-family='"DejaVu Sans", "Liberation Sans", sans-serif' font-stretch="normal">0.4</text>
<text x="61.00" y="359.07" font-size="22.0" text-anchor="end" fill="#161616" stroke="#161616" font-family='"DejaVu Sans", "Liberation Sans", sans-serif' font-stretch="normal">0.5</text>
<text x="61.00" y="328.80" font-size="22.0" text-anchor="end" fill="#161616" stroke="#161616" font-family='"DejaVu Sans", "Liberation Sans", sans-serif' font-stretch="normal">0.6</text>
<g transform="translate(18.00 450.20) rotate(-90) scale(1.0 0.96)" font-family='"DejaVu Sans", "Liberation Sans", sans-serif' font-stretch="normal" font-size="22.3" letter-spacing="0" fill="#161616" stroke="#161616"><text x="0" y="0"><tspan font-style="italic">F</tspan><tspan dx="-2.0"> (a.u.)</tspan></text></g>
</svg>
</body></html>
